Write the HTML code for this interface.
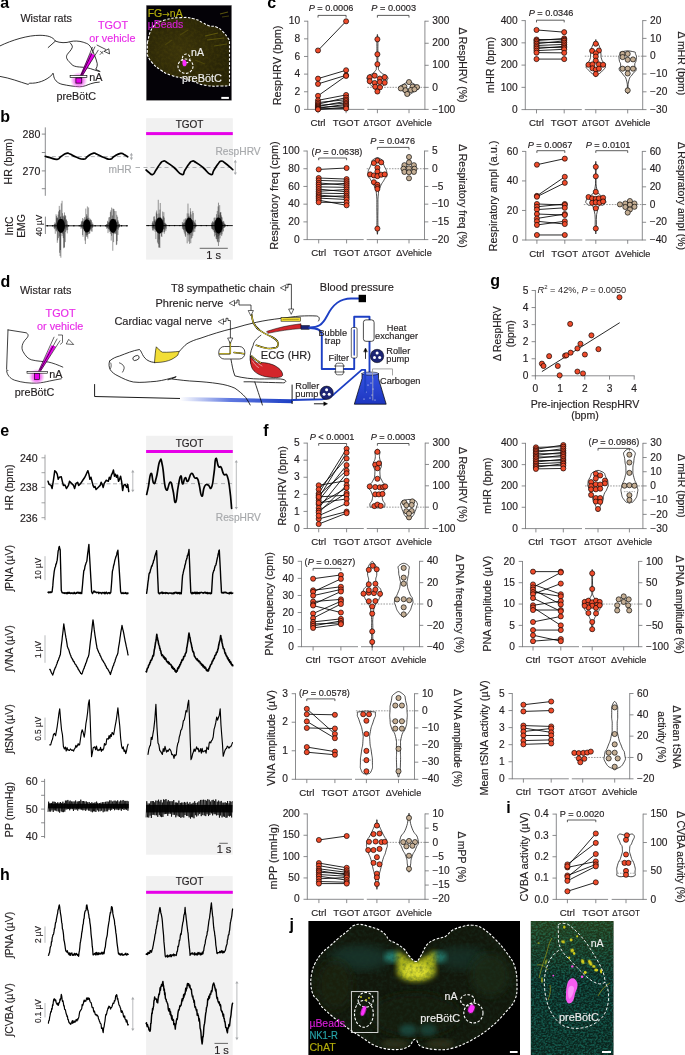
<!DOCTYPE html>
<html><head><meta charset="utf-8"><title>Figure</title>
<style>html,body{margin:0;padding:0;background:#fff;width:685px;height:1055px;overflow:hidden}svg{display:block}text{font-family:'Liberation Sans', sans-serif}</style></head>
<body><svg width="685" height="1055" viewBox="0 0 685 1055" font-family="'Liberation Sans', sans-serif" fill="#231f20">
<defs>
<radialGradient id="glow"><stop offset="0" stop-color="#ee30ee" stop-opacity="1"/><stop offset="0.55" stop-color="#f060f0" stop-opacity="0.75"/><stop offset="1" stop-color="#f080f0" stop-opacity="0"/></radialGradient>
<radialGradient id="agrad" cx="0.4" cy="0.5" r="0.6"><stop offset="0" stop-color="#3b340a"/><stop offset="1" stop-color="#272306"/></radialGradient>
<radialGradient id="jgrad" cx="0.5" cy="0.45" r="0.6"><stop offset="0" stop-color="#1d2610"/><stop offset="0.6" stop-color="#141c10"/><stop offset="1" stop-color="#1a2418"/></radialGradient>
<linearGradient id="j2y" x1="0" x2="0" y1="0" y2="1"><stop offset="0" stop-color="#6a7a10" stop-opacity="0.25"/><stop offset="1" stop-color="#6a7a10" stop-opacity="0"/></linearGradient>
<filter id="blur05"><feGaussianBlur stdDeviation="0.5"/></filter>
<filter id="blur03"><feGaussianBlur stdDeviation="0.3"/></filter>
<filter id="blur1"><feGaussianBlur stdDeviation="1.2"/></filter>
<filter id="blur2"><feGaussianBlur stdDeviation="2.5"/></filter>
<filter id="blur3"><feGaussianBlur stdDeviation="4"/></filter>
<pattern id="texY" patternUnits="userSpaceOnUse" width="90" height="100"><rect width="90" height="100" fill="#5a5210" filter="url(#noiseY)"/></pattern>
<pattern id="texG" patternUnits="userSpaceOnUse" width="220" height="140"><rect width="220" height="140" fill="#2a4a30" filter="url(#noiseG)"/></pattern>
<pattern id="texT" patternUnits="userSpaceOnUse" x="530.8" y="921" width="83" height="134"><rect width="83" height="134" fill="#1e5a4a" filter="url(#noiseT)"/></pattern>
<filter id="noiseY" x="0" y="0" width="100%" height="100%" color-interpolation-filters="sRGB"><feTurbulence type="fractalNoise" baseFrequency="0.35" numOctaves="2" seed="3"/><feColorMatrix type="matrix" values="0 0 0 0 0.40  0 0 0 0 0.36  0 0 0 0 0.04  0 0 0 1.4 -0.55"/></filter>
<filter id="noiseG" x="0" y="0" width="100%" height="100%" color-interpolation-filters="sRGB"><feTurbulence type="fractalNoise" baseFrequency="0.3" numOctaves="2" seed="5"/><feColorMatrix type="matrix" values="0 0 0 0 0.10  0 0 0 0 0.22  0 0 0 0 0.16  0 0 0 1.6 -0.62"/></filter>
<filter id="noiseT" x="0" y="0" width="100%" height="100%" color-interpolation-filters="sRGB"><feTurbulence type="fractalNoise" baseFrequency="0.55" numOctaves="2" seed="9"/><feColorMatrix type="matrix" values="0 0 0 0 0.08  0 0 0 0 0.36  0 0 0 0 0.31  3.2 0 0 0 -1.25"/></filter>
<clipPath id="clipA"><rect x="146.3" y="5.3" width="85.3" height="95.1"/></clipPath>
<clipPath id="clipJ"><rect x="308.4" y="921" width="211.6" height="134"/></clipPath>
<clipPath id="clipJsec"><path d="M317.60,1000.00 C315.52,997.28 314.74,998.18 313.40,995.20 C312.06,992.22 311.24,989.46 310.90,985.10 C310.56,980.74 310.86,977.76 311.70,973.40 C312.54,969.04 313.08,967.32 315.10,963.30 C317.12,959.28 318.78,956.82 321.80,953.30 C324.82,949.78 326.84,948.74 330.20,945.70 C333.56,942.66 335.24,940.96 338.60,938.10 C341.96,935.24 343.98,933.90 347.00,931.40 C350.02,928.90 351.02,927.00 353.70,925.60 C356.38,924.20 357.38,924.24 360.40,924.40 C363.42,924.56 365.10,925.32 368.80,926.40 C372.50,927.48 375.54,928.12 378.90,929.80 C382.26,931.48 383.60,932.80 385.60,934.80 C387.60,936.80 386.90,938.12 388.90,939.80 C390.90,941.48 392.58,941.36 395.60,943.20 C398.62,945.04 401.30,946.48 404.00,949.00 C406.70,951.52 406.74,953.30 409.10,955.80 C411.46,958.30 413.44,961.50 415.80,961.50 C418.16,961.50 418.66,959.18 420.90,955.80 C423.14,952.42 424.14,947.86 427.00,944.60 C429.86,941.34 431.52,941.14 435.20,939.50 C438.88,937.86 442.04,938.20 445.40,936.40 C448.76,934.60 448.74,932.44 452.00,930.50 C455.26,928.56 457.70,927.76 461.70,926.70 C465.70,925.64 467.90,924.90 472.00,925.20 C476.10,925.50 477.72,925.56 482.20,928.20 C486.68,930.84 489.50,933.50 494.40,938.40 C499.30,943.30 502.60,946.98 506.70,952.70 C510.80,958.42 512.84,960.46 514.90,967.00 C516.96,973.54 517.00,978.86 517.00,985.40 C517.00,991.94 517.12,994.38 514.90,999.70 C512.68,1005.02 510.84,1006.40 505.90,1012.00 C500.96,1017.60 497.10,1022.06 490.20,1027.70 C483.30,1033.34 478.94,1036.12 471.40,1040.20 C463.86,1044.28 459.42,1046.22 452.50,1048.10 C445.58,1049.98 443.08,1049.92 436.80,1049.60 C430.52,1049.28 425.18,1048.38 421.10,1046.50 C417.02,1044.62 417.96,1041.46 416.40,1040.20 C414.84,1038.94 414.86,1038.94 413.30,1040.20 C411.74,1041.46 412.06,1044.62 408.60,1046.50 C405.14,1048.38 402.28,1049.60 396.00,1049.60 C389.72,1049.60 384.10,1049.00 377.20,1046.50 C370.30,1044.00 368.40,1041.50 361.50,1037.10 C354.60,1032.70 350.24,1030.16 342.70,1024.50 C335.16,1018.84 328.82,1013.70 323.80,1008.80 C318.78,1003.90 319.68,1002.72 317.60,1000.00 Z"/></clipPath>
<clipPath id="clipJ2"><rect x="530.8" y="921" width="82.7" height="134"/></clipPath>
</defs>
<rect x="146.1" y="118.2" width="86.7" height="141.4" fill="#f1f1f1"/>
<rect x="146.1" y="435.8" width="86.7" height="418.9" fill="#f1f1f1"/>
<rect x="146.1" y="876.1" width="86.6" height="179" fill="#f1f1f1"/>
<rect x="146.1" y="132.1" width="86.7" height="3" fill="#e600e8"/>
<rect x="146.1" y="450.0" width="86.7" height="3" fill="#e600e8"/>
<rect x="146.1" y="890.8" width="86.7" height="3" fill="#e600e8"/>
<text x="189.60" y="127.80" font-size="10" text-anchor="middle" stroke="#231f20" stroke-width="0.16" >TGOT</text>
<text x="189.60" y="446.70" font-size="10" text-anchor="middle" stroke="#231f20" stroke-width="0.16" >TGOT</text>
<text x="189.60" y="885.40" font-size="10" text-anchor="middle" stroke="#231f20" stroke-width="0.16" >TGOT</text>
<text x="0.20" y="8.10" font-size="16" text-anchor="start" fill="#000" font-weight="bold" >a</text>
<text x="0.30" y="122.30" font-size="16" text-anchor="start" fill="#000" font-weight="bold" >b</text>
<text x="267.20" y="8.30" font-size="16" text-anchor="start" fill="#000" font-weight="bold" >c</text>
<text x="0.40" y="286.90" font-size="16" text-anchor="start" fill="#000" font-weight="bold" >d</text>
<text x="0.30" y="436.30" font-size="16" text-anchor="start" fill="#000" font-weight="bold" >e</text>
<text x="263.30" y="436.30" font-size="16" text-anchor="start" fill="#000" font-weight="bold" >f</text>
<text x="490.20" y="285.60" font-size="16" text-anchor="start" fill="#000" font-weight="bold" >g</text>
<text x="0.10" y="880.40" font-size="16" text-anchor="start" fill="#000" font-weight="bold" >h</text>
<text x="506.20" y="812.60" font-size="16" text-anchor="start" fill="#000" font-weight="bold" >i</text>
<text x="289.60" y="929.50" font-size="16" text-anchor="start" fill="#000" font-weight="bold" >j</text>
<line x1="45.3" y1="127.4" x2="45.3" y2="195.8" stroke="#6d6e71" stroke-width="0.8"/>
<line x1="41.8" y1="134.1" x2="45.3" y2="134.1" stroke="#6d6e71" stroke-width="0.8"/>
<line x1="41.8" y1="152.5" x2="45.3" y2="152.5" stroke="#6d6e71" stroke-width="0.8"/>
<line x1="41.8" y1="170.9" x2="45.3" y2="170.9" stroke="#6d6e71" stroke-width="0.8"/>
<line x1="41.8" y1="188.7" x2="45.3" y2="188.7" stroke="#6d6e71" stroke-width="0.8"/>
<text x="40.30" y="137.92" font-size="10.6" text-anchor="end" stroke="#231f20" stroke-width="0.16" >280</text>
<text x="40.30" y="174.72" font-size="10.6" text-anchor="end" stroke="#231f20" stroke-width="0.16" >270</text>
<text x="0" y="3.82" font-size="10.6" text-anchor="middle" transform="translate(7.80,161.50) rotate(-90)" stroke="#231f20" stroke-width="0.16" >HR (bpm)</text>
<line x1="45.30" y1="156.60" x2="128.00" y2="156.60" stroke="#a7a9ac" stroke-width="0.9" stroke-dasharray="4,2.5"/>
<line x1="135.50" y1="167.50" x2="140.00" y2="167.50" stroke="#a7a9ac" stroke-width="0.9" />
<line x1="143.50" y1="167.50" x2="233.00" y2="167.50" stroke="#a7a9ac" stroke-width="0.9" stroke-dasharray="4,3"/>
<path d="M45.20,156.30 C46.64,156.69 46.40,156.70 50.00,157.60 C53.60,158.50 53.90,159.63 57.20,159.30 C60.50,158.97 58.24,158.27 61.00,156.50 C63.76,154.73 63.70,154.15 66.40,153.40 C69.10,152.65 67.12,152.92 70.00,154.00 C72.88,155.08 71.86,155.44 76.00,157.00 C80.14,158.56 80.35,159.35 83.80,159.20 C87.25,159.05 84.74,158.27 87.50,156.50 C90.26,154.73 90.15,153.99 93.00,153.30 C95.85,152.61 93.70,152.94 97.00,154.20 C100.30,155.46 99.98,156.00 104.00,157.50 C108.02,159.00 107.40,159.50 110.40,159.20 C113.40,158.90 110.94,158.24 114.00,156.50 C117.06,154.76 117.60,154.00 120.60,153.40 C123.60,152.80 121.87,153.48 124.00,154.50 C126.13,155.52 126.59,156.11 127.70,156.80" fill="none" stroke="#000" stroke-width="1.7" stroke-linejoin="round" stroke-linecap="round"/>
<path d="M146.10,170.00 C146.97,170.75 146.99,171.15 149.00,172.50 C151.01,173.85 150.70,175.25 152.80,174.50 C154.90,173.75 153.84,173.15 156.00,170.00 C158.16,166.85 157.81,166.64 160.00,164.00 C162.19,161.36 161.20,161.65 163.30,161.20 C165.40,160.75 163.79,160.61 167.00,162.50 C170.21,164.39 169.59,163.93 174.00,167.50 C178.41,171.07 178.40,173.65 181.70,174.40 C185.00,175.15 182.81,173.12 185.00,170.00 C187.19,166.88 186.84,166.64 189.00,164.00 C191.16,161.36 190.10,161.65 192.20,161.20 C194.30,160.75 192.76,160.61 196.00,162.50 C199.24,164.39 198.62,163.93 203.00,167.50 C207.38,171.07 207.30,173.65 210.60,174.40 C213.90,175.15 211.78,173.12 214.00,170.00 C216.22,166.88 215.87,166.64 218.00,164.00 C220.13,161.36 219.00,161.50 221.10,161.20 C223.20,160.90 221.49,160.48 225.00,163.00 C228.51,165.52 230.46,167.62 232.80,169.60" fill="none" stroke="#000" stroke-width="1.7" stroke-linejoin="round" stroke-linecap="round"/>
<line x1="131.4" y1="154.3" x2="131.4" y2="158.7" stroke="#a7a9ac" stroke-width="0.8"/>
<path d="M129.8,155.4 L131.4,152.8 L133.0,155.4 Z M129.8,157.6 L131.4,160.2 L133.0,157.6 Z" fill="#a7a9ac"/>
<line x1="235.3" y1="161.3" x2="235.3" y2="173.5" stroke="#a7a9ac" stroke-width="0.8"/>
<path d="M233.70000000000002,162.4 L235.3,159.8 L236.9,162.4 Z M233.70000000000002,172.4 L235.3,175 L236.9,172.4 Z" fill="#a7a9ac"/>
<text x="120.00" y="173.37" font-size="10.2" text-anchor="middle" fill="#a7a9ac" stroke="#a7a9ac" stroke-width="0.16" >mHR</text>
<text x="215.50" y="154.87" font-size="10.2" text-anchor="start" fill="#a7a9ac" stroke="#a7a9ac" stroke-width="0.16" >RespHRV</text>
<path d="M54.07,224.61V228.18M54.47,224.03V229.13M54.87,222.30V227.34M55.27,223.99V233.74M55.67,223.26V228.37M56.07,214.29V230.65M56.47,215.87V231.45M56.87,218.10V229.30M57.27,217.23V242.81M57.67,218.19V240.32M58.07,214.60V230.29M58.47,211.42V238.15M58.87,219.32V230.95M59.27,205.88V236.45M59.67,210.08V252.80M60.07,209.73V256.05M60.47,217.01V250.04M60.87,216.10V257.71M61.27,203.36V231.95M61.67,219.67V232.68M62.07,200.78V236.08M62.47,213.18V233.21M62.87,216.36V234.16M63.27,219.18V238.10M63.67,216.28V248.24M64.07,215.23V247.31M64.47,212.46V247.62M64.87,217.47V229.40M65.27,215.23V242.13M65.67,215.83V231.99M66.07,219.82V228.33M66.47,219.43V230.37M66.88,223.89V227.37M67.28,221.18V233.38M67.68,224.73V230.09M80.60,224.45V226.80M81.00,224.38V228.90M81.40,221.25V227.26M81.80,222.31V227.57M82.20,220.81V228.42M82.60,218.02V235.00M83.00,221.14V236.76M83.40,221.85V229.08M83.80,218.76V229.46M84.20,221.42V231.46M84.60,217.10V230.44M85.00,221.02V240.55M85.40,219.60V244.06M85.80,208.57V232.89M86.20,217.48V234.99M86.60,214.17V236.48M87.00,215.75V236.99M87.40,206.43V234.89M87.80,217.97V238.70M88.20,219.98V232.05M88.60,207.48V234.08M89.00,217.69V230.40M89.40,219.81V233.70M89.80,221.94V233.44M90.20,218.75V229.27M90.60,219.63V230.47M91.00,219.91V229.22M91.40,220.49V231.41M91.80,223.87V227.74M92.20,222.25V231.64M92.60,224.30V227.79M93.00,223.76V227.12M106.39,224.44V227.20M106.79,224.11V228.95M107.19,223.94V228.17M107.59,220.83V227.64M107.99,221.73V233.14M108.39,222.68V228.78M108.79,217.43V229.32M109.19,222.21V231.63M109.59,216.95V229.66M109.99,220.61V231.70M110.39,212.09V233.82M110.79,210.40V231.18M111.19,219.11V240.57M111.59,207.58V235.82M111.99,219.40V231.81M112.39,215.51V232.43M112.79,208.61V250.76M113.19,219.38V233.47M113.59,208.80V242.13M113.99,209.25V234.16M114.39,220.06V233.08M114.79,211.00V232.47M115.19,219.41V234.12M115.59,219.18V233.38M115.99,211.13V230.32M116.39,222.02V245.10M116.79,214.81V244.43M117.19,221.42V241.11M117.59,216.69V228.81M117.99,220.13V234.95M118.39,221.67V229.72M118.79,223.94V228.04M119.19,224.37V227.10M119.59,223.78V227.16" stroke="#000" stroke-width="0.4" fill="none"/>
<ellipse cx="60.9" cy="225.8" rx="4.03" ry="7.12" fill="#000"/>
<ellipse cx="86.9" cy="225.8" rx="3.72" ry="6.65" fill="#000"/>
<ellipse cx="113" cy="225.8" rx="3.91" ry="7.12" fill="#000"/>
<circle cx="47.40" cy="225.8" r="0.7" fill="#000"/>
<circle cx="52.70" cy="225.8" r="0.7" fill="#000"/>
<circle cx="58.00" cy="225.8" r="0.7" fill="#000"/>
<circle cx="63.30" cy="225.8" r="0.7" fill="#000"/>
<circle cx="68.60" cy="225.8" r="0.7" fill="#000"/>
<circle cx="73.90" cy="225.8" r="0.7" fill="#000"/>
<circle cx="79.20" cy="225.8" r="0.7" fill="#000"/>
<circle cx="84.50" cy="225.8" r="0.7" fill="#000"/>
<circle cx="89.80" cy="225.8" r="0.7" fill="#000"/>
<circle cx="95.10" cy="225.8" r="0.7" fill="#000"/>
<circle cx="100.40" cy="225.8" r="0.7" fill="#000"/>
<circle cx="105.70" cy="225.8" r="0.7" fill="#000"/>
<circle cx="111.00" cy="225.8" r="0.7" fill="#000"/>
<circle cx="116.30" cy="225.8" r="0.7" fill="#000"/>
<circle cx="121.60" cy="225.8" r="0.7" fill="#000"/>
<circle cx="126.90" cy="225.8" r="0.7" fill="#000"/>
<path d="M152.26,223.16V228.28M152.66,221.55V230.11M153.06,221.21V230.83M153.46,223.59V228.54M153.86,216.86V230.22M154.26,216.18V228.38M154.66,220.65V229.08M155.06,219.19V231.76M155.46,221.63V229.92M155.86,220.37V239.10M156.26,212.47V230.65M156.66,210.52V231.01M157.06,213.96V231.38M157.46,219.63V242.59M157.86,218.71V232.40M158.26,199.79V244.14M158.66,217.58V247.57M159.06,213.45V239.57M159.46,218.16V247.27M159.86,209.62V248.01M160.26,202.98V233.39M160.66,217.05V232.35M161.06,219.14V231.82M161.46,218.43V236.30M161.86,220.08V236.98M162.26,219.02V231.70M162.66,211.53V232.66M163.06,220.28V232.02M163.46,216.26V229.46M163.86,212.20V229.02M164.26,217.67V233.78M164.66,222.99V232.07M165.06,222.60V229.53M165.46,223.69V227.51M165.86,223.88V230.83M166.26,224.15V228.74M182.38,221.95V228.87M182.78,223.83V227.32M183.18,222.84V229.34M183.58,223.51V229.88M183.98,219.51V231.59M184.38,222.78V233.54M184.78,222.32V229.46M185.18,218.81V235.56M185.58,220.50V236.89M185.98,218.00V230.92M186.38,219.57V230.86M186.78,220.11V231.21M187.18,213.36V243.32M187.58,219.17V231.77M187.98,203.58V235.34M188.38,216.69V232.80M188.78,213.48V241.49M189.18,215.78V234.50M189.58,218.81V243.85M189.98,218.94V235.14M190.38,208.20V232.20M190.78,211.63V243.17M191.18,214.42V238.62M191.58,220.01V232.90M191.98,220.33V237.90M192.38,220.17V231.92M192.78,210.95V235.86M193.18,213.00V230.69M193.58,220.61V232.28M193.98,221.31V228.86M194.38,222.30V228.14M194.78,222.89V231.90M195.18,219.82V228.66M195.58,223.35V227.34M195.98,224.39V226.94M211.68,222.74V228.64M212.08,223.80V228.87M212.48,221.43V229.02M212.88,221.46V230.12M213.28,222.53V230.49M213.68,222.35V229.68M214.08,217.81V232.01M214.48,221.30V236.46M214.88,217.46V232.49M215.28,221.01V232.87M215.68,219.97V235.25M216.08,217.66V238.73M216.48,214.19V239.23M216.88,217.94V236.91M217.28,210.95V241.38M217.68,217.33V242.26M218.08,206.42V238.90M218.48,202.68V246.00M218.88,214.86V236.05M219.28,218.63V242.15M219.68,205.15V234.85M220.08,212.54V238.41M220.48,212.39V231.73M220.88,212.15V234.76M221.28,215.33V232.35M221.68,216.85V236.08M222.08,217.53V234.28M222.48,221.86V229.48M222.88,220.95V231.71M223.28,222.48V231.23M223.68,220.90V228.07M224.08,222.50V227.87M224.48,223.83V227.41M224.88,223.85V227.13M225.28,224.32V226.80" stroke="#000" stroke-width="0.4" fill="none"/>
<ellipse cx="159.4" cy="225.6" rx="4.22" ry="8.07" fill="#000"/>
<ellipse cx="189.2" cy="225.6" rx="4.03" ry="8.07" fill="#000"/>
<ellipse cx="218.5" cy="225.6" rx="4.03" ry="8.07" fill="#000"/>
<circle cx="148.10" cy="225.6" r="0.7" fill="#000"/>
<circle cx="153.40" cy="225.6" r="0.7" fill="#000"/>
<circle cx="158.70" cy="225.6" r="0.7" fill="#000"/>
<circle cx="164.00" cy="225.6" r="0.7" fill="#000"/>
<circle cx="169.30" cy="225.6" r="0.7" fill="#000"/>
<circle cx="174.60" cy="225.6" r="0.7" fill="#000"/>
<circle cx="179.90" cy="225.6" r="0.7" fill="#000"/>
<circle cx="185.20" cy="225.6" r="0.7" fill="#000"/>
<circle cx="190.50" cy="225.6" r="0.7" fill="#000"/>
<circle cx="195.80" cy="225.6" r="0.7" fill="#000"/>
<circle cx="201.10" cy="225.6" r="0.7" fill="#000"/>
<circle cx="206.40" cy="225.6" r="0.7" fill="#000"/>
<circle cx="211.70" cy="225.6" r="0.7" fill="#000"/>
<circle cx="217.00" cy="225.6" r="0.7" fill="#000"/>
<circle cx="222.30" cy="225.6" r="0.7" fill="#000"/>
<circle cx="227.60" cy="225.6" r="0.7" fill="#000"/>
<line x1="45.40" y1="225.80" x2="127.70" y2="225.80" stroke="#000" stroke-width="0.9" />
<line x1="146.10" y1="225.60" x2="232.80" y2="225.60" stroke="#000" stroke-width="0.9" />
<line x1="45.4" y1="216.6" x2="45.4" y2="234" stroke="#6d6e71" stroke-width="0.8"/>
<text x="0" y="2.95" font-size="8.2" text-anchor="middle" transform="translate(39.20,225.50) rotate(-90)" stroke="#231f20" stroke-width="0.16" >40 µV</text>
<text x="0" y="3.74" font-size="10.4" text-anchor="middle" transform="translate(9.50,226.00) rotate(-90)" stroke="#231f20" stroke-width="0.16" >IntC</text>
<text x="0" y="3.74" font-size="10.4" text-anchor="middle" transform="translate(21.50,226.00) rotate(-90)" stroke="#231f20" stroke-width="0.16" >EMG</text>
<line x1="199.70" y1="248.30" x2="227.80" y2="248.30" stroke="#444" stroke-width="0.8" />
<text x="213.70" y="259.00" font-size="11" text-anchor="middle" stroke="#231f20" stroke-width="0.16" >1 s</text>
<line x1="45" y1="454.7" x2="45" y2="520.1" stroke="#8a8c8e" stroke-width="0.8"/>
<line x1="41.5" y1="457.8" x2="45" y2="457.8" stroke="#8a8c8e" stroke-width="0.8"/>
<line x1="41.5" y1="472.7" x2="45" y2="472.7" stroke="#8a8c8e" stroke-width="0.8"/>
<line x1="41.5" y1="487.4" x2="45" y2="487.4" stroke="#8a8c8e" stroke-width="0.8"/>
<line x1="41.5" y1="502.8" x2="45" y2="502.8" stroke="#8a8c8e" stroke-width="0.8"/>
<line x1="41.5" y1="517.7" x2="45" y2="517.7" stroke="#8a8c8e" stroke-width="0.8"/>
<text x="37.60" y="461.62" font-size="10.6" text-anchor="end" stroke="#231f20" stroke-width="0.16" >240</text>
<text x="37.60" y="491.22" font-size="10.6" text-anchor="end" stroke="#231f20" stroke-width="0.16" >238</text>
<text x="37.60" y="521.52" font-size="10.6" text-anchor="end" stroke="#231f20" stroke-width="0.16" >236</text>
<text x="0" y="3.82" font-size="10.6" text-anchor="middle" transform="translate(9.20,487.40) rotate(-90)" stroke="#231f20" stroke-width="0.16" >HR (bpm)</text>
<line x1="48.00" y1="483.80" x2="128.00" y2="483.80" stroke="#a7a9ac" stroke-width="0.9" stroke-dasharray="4,2.5"/>
<line x1="146.00" y1="483.60" x2="232.00" y2="483.60" stroke="#a7a9ac" stroke-width="0.9" stroke-dasharray="4,3.5"/>
<polyline points="48.03,481.31 49.05,484.38 51.09,485.40 52.12,488.47 53.55,479.27 54.77,470.68 56.20,472.12 57.22,474.16 58.25,479.27 59.27,477.22 61.31,476.82 62.33,481.31 63.36,485.40 64.99,484.99 66.42,488.47 68.47,485.40 69.49,481.31 71.53,483.36 73.57,485.40 74.60,488.47 76.03,483.36 77.66,482.33 78.68,485.40 80.73,483.36 82.77,480.29 84.82,477.22 85.84,475.18 86.86,472.73 87.88,470.68 88.90,474.16 89.92,479.27 90.95,477.22 91.97,481.31 92.99,485.40 94.01,487.44 95.03,486.42 96.06,489.49 98.10,487.44 100.14,485.40 101.16,482.33 102.19,484.38 103.21,487.44 104.23,483.36 106.27,480.29 108.32,481.31 109.34,477.22 110.36,479.27 111.38,475.18 112.41,473.14 113.43,470.07 114.45,476.20 115.47,474.16 116.49,477.22 117.51,475.18 118.54,481.31 119.56,479.27 120.58,476.20 121.60,481.31 122.62,490.51 123.65,485.40 125.08,484.38 126.71,487.44 127.73,484.38 128.76,491.53" fill="none" stroke="#000" stroke-width="1.5" stroke-linejoin="round" stroke-linecap="round" />
<path d="M146.64,494.46 C147.11,492.35 147.23,492.18 148.40,486.57 C149.56,480.97 149.62,474.37 151.02,473.43 C152.42,472.50 152.25,481.90 153.65,483.07 C155.05,484.24 154.64,483.65 156.28,477.81 C157.91,471.97 158.15,464.44 159.78,461.17 C161.42,457.90 160.78,458.08 162.41,465.55 C164.05,473.02 163.81,484.76 165.91,489.20 C168.02,493.64 168.43,481.96 170.29,482.19 C172.16,482.43 171.52,484.70 172.92,490.08 C174.32,495.45 174.15,503.27 175.55,502.34 C176.95,501.41 176.78,493.58 178.18,486.57 C179.58,479.57 179.64,476.76 180.81,476.06 C181.97,475.36 181.39,483.48 182.56,483.95 C183.73,484.41 183.78,478.51 185.19,477.81 C186.59,477.11 186.18,482.49 187.81,481.32 C189.45,480.15 189.45,474.37 191.32,473.43 C193.19,472.50 193.19,476.41 194.82,477.81 C196.46,479.22 196.28,476.82 197.45,478.69 C198.62,480.56 198.03,480.15 199.20,484.82 C200.37,489.49 200.43,495.74 201.83,496.21 C203.23,496.68 202.82,489.61 204.46,486.57 C206.09,483.54 206.09,484.59 207.96,484.82 C209.83,485.05 209.83,490.72 211.46,487.45 C213.10,484.18 212.92,480.27 214.09,472.56 C215.26,464.85 214.68,460.18 215.84,458.54 C217.01,456.91 217.07,464.09 218.47,466.43 C219.87,468.76 219.70,465.20 221.10,467.30 C222.50,469.40 222.09,471.97 223.73,474.31 C225.36,476.65 225.60,471.86 227.23,476.06 C228.87,480.27 228.69,481.43 229.86,490.08 C231.03,498.72 231.14,503.57 231.61,508.47" fill="none" stroke="#000" stroke-width="1.7" stroke-linejoin="round" stroke-linecap="round"/>
<line x1="132.8" y1="471.3" x2="132.8" y2="490.8" stroke="#a7a9ac" stroke-width="0.8"/>
<path d="M131.20000000000002,472.40000000000003 L132.8,469.8 L134.4,472.40000000000003 Z M131.20000000000002,489.7 L132.8,492.3 L134.4,489.7 Z" fill="#a7a9ac"/>
<line x1="236.3" y1="461.5" x2="236.3" y2="508.0" stroke="#a7a9ac" stroke-width="0.8"/>
<path d="M234.70000000000002,462.6 L236.3,460 L237.9,462.6 Z M234.70000000000002,506.9 L236.3,509.5 L237.9,506.9 Z" fill="#a7a9ac"/>
<text x="215.80" y="521.27" font-size="10.2" text-anchor="start" fill="#a7a9ac" stroke="#a7a9ac" stroke-width="0.16" >RespHRV</text>
<line x1="45" y1="556.2" x2="45" y2="580.1" stroke="#a7a9ac" stroke-width="0.8"/>
<text x="0" y="2.95" font-size="8.2" text-anchor="middle" transform="translate(37.80,568.60) rotate(-90)" stroke="#231f20" stroke-width="0.16" >10 µV</text>
<text x="0" y="3.74" font-size="10.4" text-anchor="middle" transform="translate(9.20,568.30) rotate(-90)" stroke="#231f20" stroke-width="0.16" >∫PNA (µV)</text>
<polyline points="48.00,592.32 48.37,592.04 48.75,592.84 49.12,591.92 49.49,592.66 49.86,592.39 50.24,591.89 50.61,592.61 50.98,591.86 51.35,592.49 51.73,591.91 52.10,591.95 52.45,588.86 52.80,585.89 53.15,581.15 53.50,577.69 53.85,574.72 54.20,571.62 54.63,569.39 55.07,567.47 55.50,566.76 55.92,563.95 56.35,563.92 56.78,561.69 57.20,560.13 57.70,555.24 58.20,550.69 58.57,549.94 58.93,547.36 59.30,546.43 59.75,548.37 60.20,549.80 60.57,563.84 60.93,576.83 61.30,590.60 61.70,591.40 62.10,592.72 62.50,592.88 62.86,592.70 63.21,593.14 63.57,592.93 63.92,592.68 64.28,593.47 64.63,593.32 64.99,592.59 65.34,593.12 65.70,593.04 66.06,593.60 66.41,593.37 66.77,592.66 67.12,593.77 67.48,592.39 67.83,592.87 68.19,593.41 68.54,592.44 68.90,592.98 69.26,592.26 69.61,593.27 69.97,593.42 70.32,593.12 70.68,593.60 71.03,592.70 71.39,593.31 71.74,593.15 72.10,593.13 72.46,592.93 72.81,593.54 73.17,593.71 73.52,592.96 73.88,593.26 74.23,592.30 74.59,593.32 74.94,593.24 75.30,593.79 75.66,593.52 76.01,592.66 76.37,592.82 76.72,593.27 77.08,592.24 77.43,592.94 77.79,592.47 78.14,592.39 78.50,592.29 78.86,593.43 79.21,592.41 79.57,592.60 79.92,592.83 80.28,593.59 80.63,592.33 80.99,592.92 81.34,593.08 81.70,593.61 82.12,589.09 82.54,584.74 82.96,579.39 83.38,575.18 83.80,570.67 84.19,570.24 84.58,569.08 84.96,566.52 85.35,565.28 85.74,564.10 86.12,562.82 86.51,561.95 86.90,560.84 87.30,557.04 87.70,553.35 88.10,550.73 88.50,547.37 88.90,544.41 89.29,551.74 89.67,558.03 90.06,564.47 90.44,571.35 90.83,578.15 91.21,583.87 91.60,591.94 92.05,592.60 92.50,593.60 92.88,593.10 93.25,592.08 93.62,591.71 94.00,590.87 94.40,592.01 94.80,591.40 95.20,591.71 95.60,592.23 96.00,592.46 96.35,592.74 96.70,592.28 97.06,592.20 97.41,592.44 97.76,592.36 98.11,592.78 98.47,592.24 98.82,593.60 99.17,593.18 99.52,592.44 99.88,592.60 100.23,592.76 100.58,592.78 100.93,592.40 101.29,593.56 101.64,593.79 101.99,592.95 102.34,592.97 102.70,592.34 103.05,592.36 103.40,592.75 103.75,592.62 104.10,593.53 104.46,592.46 104.81,592.24 105.16,593.72 105.51,593.05 105.87,592.43 106.22,593.07 106.57,592.24 106.92,593.04 107.28,593.77 107.63,593.58 107.98,593.31 108.33,592.62 108.69,592.79 109.04,592.47 109.39,593.44 109.74,593.05 110.10,593.45 110.45,592.73 110.80,592.56 111.20,587.97 111.60,582.73 112.00,576.99 112.40,571.39 112.79,569.87 113.18,568.21 113.56,565.85 113.95,564.78 114.34,562.98 114.72,560.92 115.11,559.38 115.50,558.25 115.90,556.68 116.30,555.84 116.70,554.73 117.10,552.38 117.50,551.63 117.90,550.18 118.29,556.11 118.67,561.15 119.06,566.91 119.44,572.91 119.83,578.84 120.21,584.84 120.60,591.50 121.05,592.79 121.50,593.54 121.87,592.97 122.23,593.24 122.60,593.48 122.97,592.34 123.33,593.26 123.70,593.66 124.07,593.45 124.43,593.40 124.80,592.96 125.17,592.49 125.53,593.46 125.90,592.73 126.27,593.48 126.63,593.75 127.00,592.83 127.37,592.84 127.73,593.71 128.10,593.00" fill="none" stroke="#000" stroke-width="1.35" stroke-linejoin="round" stroke-linecap="round" />
<polyline points="146.60,593.36 147.20,589.47 147.62,585.58 148.05,581.79 148.47,579.17 148.90,575.19 149.25,573.10 149.61,573.15 149.96,572.36 150.32,570.81 150.67,569.28 151.03,568.56 151.38,566.86 151.74,565.63 152.09,566.13 152.45,564.58 152.80,563.34 153.18,562.76 153.56,560.73 153.94,560.20 154.32,558.90 154.70,556.69 155.08,555.52 155.46,554.36 155.84,553.04 156.22,552.37 156.60,550.61 156.96,559.27 157.32,567.21 157.68,576.86 158.04,584.37 158.40,592.93 158.75,593.13 159.10,593.65 159.46,592.87 159.81,593.67 160.16,593.00 160.51,593.05 160.87,593.04 161.22,592.23 161.57,592.90 161.92,592.49 162.28,592.21 162.63,593.48 162.98,592.48 163.33,592.96 163.68,593.36 164.04,593.09 164.39,592.72 164.74,593.03 165.09,593.09 165.45,593.45 165.80,592.37 166.15,593.10 166.50,592.60 166.86,592.64 167.21,593.44 167.56,593.01 167.91,593.10 168.26,593.42 168.62,593.66 168.97,592.91 169.32,593.18 169.67,593.01 170.03,593.02 170.38,593.31 170.73,592.92 171.08,593.05 171.44,592.96 171.79,593.71 172.14,593.32 172.49,593.60 172.84,593.71 173.20,592.62 173.55,593.10 173.90,593.71 174.25,593.54 174.61,592.42 174.96,592.39 175.31,592.91 175.66,592.32 176.02,592.59 176.37,592.32 176.72,593.27 177.07,593.45 177.42,593.64 177.78,592.45 178.13,593.35 178.48,593.26 178.83,592.43 179.19,593.61 179.54,593.75 179.89,592.55 180.24,593.72 180.60,592.84 180.95,592.98 181.30,593.78 181.73,587.70 182.17,580.79 182.60,575.39 182.98,573.97 183.36,572.13 183.73,570.35 184.11,568.99 184.49,568.08 184.87,565.40 185.24,564.70 185.62,562.96 186.00,560.73 186.38,559.81 186.75,558.85 187.12,557.24 187.50,555.10 187.88,555.15 188.25,553.41 188.62,552.28 189.00,549.47 189.36,558.30 189.72,566.52 190.08,576.29 190.44,584.05 190.80,592.41 191.15,592.88 191.50,593.66 191.85,593.51 192.20,592.61 192.55,592.44 192.91,593.67 193.26,593.11 193.61,593.32 193.96,592.34 194.31,592.29 194.66,593.30 195.01,592.88 195.36,592.32 195.71,593.70 196.06,593.22 196.41,593.48 196.76,592.33 197.12,593.57 197.47,592.31 197.82,593.58 198.17,592.93 198.52,592.74 198.87,593.08 199.22,593.68 199.57,592.63 199.92,592.41 200.27,593.04 200.62,592.58 200.97,592.38 201.33,592.46 201.68,592.28 202.03,592.52 202.38,592.70 202.73,592.69 203.08,593.42 203.43,592.66 203.78,593.00 204.13,592.48 204.48,592.76 204.83,592.23 205.18,592.60 205.54,592.22 205.89,593.37 206.24,593.08 206.59,592.50 206.94,592.96 207.29,593.70 207.64,592.37 207.99,593.51 208.34,592.89 208.69,592.99 209.04,593.54 209.39,592.83 209.75,593.01 210.10,593.30 210.45,593.77 210.80,592.75 211.15,593.53 211.50,593.33 211.90,587.12 212.30,580.65 212.70,574.46 213.06,572.79 213.43,571.71 213.79,570.41 214.15,570.29 214.52,568.31 214.88,566.96 215.25,565.64 215.61,565.65 215.97,564.49 216.34,562.97 216.70,561.15 217.07,559.34 217.44,557.68 217.81,556.21 218.19,553.98 218.56,552.70 218.93,550.66 219.30,550.04 219.67,557.34 220.03,563.94 220.40,570.74 220.77,579.18 221.13,585.41 221.50,592.77 221.85,592.20 222.21,592.81 222.56,592.96 222.91,593.00 223.27,592.52 223.62,593.01 223.97,592.21 224.32,592.62 224.68,592.34 225.03,592.84 225.38,592.27 225.74,592.24 226.09,592.69 226.44,592.57 226.80,593.14 227.15,593.05 227.50,593.40 227.86,593.25 228.21,593.35 228.56,593.61 228.92,592.82 229.27,592.72 229.62,593.78 229.98,592.44 230.33,593.36 230.68,593.23 231.03,592.27 231.39,593.54 231.74,593.63 232.09,593.20 232.45,593.37 232.80,593.00" fill="none" stroke="#000" stroke-width="1.4" stroke-linejoin="round" stroke-linecap="round" />
<line x1="45" y1="635.3" x2="45" y2="662.8" stroke="#a7a9ac" stroke-width="0.8"/>
<text x="0" y="2.95" font-size="8.2" text-anchor="middle" transform="translate(37.80,649.60) rotate(-90)" stroke="#231f20" stroke-width="0.16" >1 µV</text>
<text x="0" y="3.74" font-size="10.4" text-anchor="middle" transform="translate(9.20,648.50) rotate(-90)" stroke="#231f20" stroke-width="0.16" >∫VNA (µV)</text>
<polyline points="49.70,669.31 50.08,669.35 50.45,670.45 50.83,671.14 51.20,672.18 51.58,672.87 51.95,673.60 52.33,674.07 52.70,675.09 53.06,673.93 53.42,672.99 53.79,671.57 54.15,670.42 54.51,669.57 54.87,668.85 55.23,667.64 55.60,667.42 55.96,666.19 56.32,665.30 56.68,664.35 57.04,663.45 57.40,662.31 57.77,660.87 58.13,660.71 58.49,659.71 58.85,658.51 59.21,657.59 59.58,656.76 59.94,655.22 60.30,654.94 60.72,650.78 61.15,646.92 61.58,643.44 62.00,640.23 62.36,636.51 62.72,633.84 63.08,630.88 63.44,627.19 63.80,623.88 64.22,626.73 64.65,629.68 65.08,632.52 65.50,635.12 65.88,637.44 66.26,639.18 66.64,641.55 67.02,643.95 67.40,646.74 67.77,647.32 68.15,648.60 68.52,649.07 68.89,650.13 69.26,651.36 69.64,652.78 70.01,653.82 70.38,654.82 70.75,655.45 71.13,656.70 71.50,657.66 71.85,658.25 72.20,658.49 72.56,659.85 72.91,659.74 73.26,661.11 73.61,661.65 73.96,661.32 74.31,662.35 74.67,663.30 75.02,664.03 75.37,664.10 75.72,664.50 76.07,665.03 76.42,666.35 76.78,666.20 77.13,667.16 77.48,667.31 77.83,668.28 78.18,669.29 78.53,669.06 78.89,670.33 79.24,670.61 79.59,671.57 79.94,671.97 80.29,672.09 80.64,673.34 81.00,673.51 81.35,673.64 81.70,674.20 82.06,673.69 82.42,672.65 82.78,671.50 83.14,670.34 83.50,669.54 83.86,668.52 84.22,668.04 84.58,666.20 84.94,665.95 85.30,665.04 85.66,663.32 86.02,663.13 86.38,661.91 86.74,661.10 87.10,659.49 87.46,658.57 87.82,657.59 88.18,657.20 88.54,655.79 88.90,654.56 89.32,651.09 89.74,647.40 90.16,643.63 90.58,640.14 91.00,637.33 91.40,633.37 91.80,630.60 92.20,626.49 92.60,623.09 93.00,619.91 93.40,622.61 93.80,625.81 94.20,629.42 94.60,632.36 95.00,635.31 95.42,637.83 95.84,640.81 96.26,643.54 96.68,645.85 97.10,648.72 97.47,648.89 97.85,650.41 98.22,650.96 98.59,652.10 98.96,652.83 99.34,653.30 99.71,653.90 100.08,655.62 100.45,655.65 100.83,656.84 101.20,657.54 101.55,658.13 101.91,659.20 102.26,660.07 102.62,659.98 102.97,661.01 103.32,661.29 103.68,662.17 104.03,662.64 104.38,663.04 104.74,663.67 105.09,664.35 105.45,665.68 105.80,665.90 106.15,666.25 106.51,667.57 106.86,668.29 107.22,668.37 107.57,668.69 107.92,669.38 108.28,669.91 108.63,670.79 108.98,671.17 109.34,671.95 109.69,672.60 110.05,673.54 110.40,674.49 110.76,673.33 111.11,671.97 111.47,670.94 111.83,670.03 112.19,668.86 112.54,667.80 112.90,666.50 113.26,665.69 113.61,665.35 113.97,663.49 114.33,662.84 114.69,661.94 115.04,661.15 115.40,659.48 115.76,658.51 116.11,657.47 116.47,656.59 116.83,655.62 117.19,655.10 117.54,653.97 117.90,652.97 118.32,649.20 118.74,646.29 119.16,644.05 119.58,641.32 120.00,637.97 120.40,635.49 120.80,632.30 121.20,630.09 121.60,628.03 122.00,625.33 122.39,627.28 122.78,629.32 123.16,630.52 123.55,632.31 123.94,634.28 124.32,636.57 124.71,638.66 125.10,640.84 125.47,642.45 125.85,644.20 126.22,646.14 126.60,647.66 126.97,649.58 127.35,650.89 127.72,653.46 128.10,655.00" fill="none" stroke="#000" stroke-width="1.25" stroke-linejoin="round" stroke-linecap="round" />
<polyline points="146.10,671.42 146.40,671.96 146.71,670.76 147.01,669.45 147.32,668.43 147.62,667.95 147.92,667.95 148.23,667.36 148.53,665.60 148.84,664.83 149.14,664.94 149.44,664.35 149.75,663.30 150.05,662.30 150.36,662.28 150.66,660.52 150.96,660.34 151.27,659.93 151.57,660.13 151.88,658.86 152.18,658.59 152.48,657.16 152.79,656.02 153.09,655.34 153.40,655.93 153.70,654.77 154.01,652.12 154.32,649.68 154.63,648.61 154.94,646.99 155.25,644.61 155.56,642.38 155.87,641.19 156.18,639.73 156.49,636.54 156.80,634.26 157.14,636.39 157.48,638.12 157.82,640.17 158.16,640.88 158.50,643.53 158.80,644.57 159.10,645.29 159.40,645.89 159.70,648.41 160.00,648.36 160.30,650.42 160.60,650.50 160.90,651.62 161.20,653.73 161.50,654.03 161.80,655.57 162.11,655.11 162.41,654.91 162.72,655.33 163.02,656.04 163.32,656.84 163.63,657.71 163.93,656.62 164.24,657.42 164.54,657.45 164.84,659.18 165.15,658.04 165.45,658.24 165.76,658.61 166.06,659.57 166.37,660.83 166.67,661.16 166.97,661.25 167.28,662.08 167.58,662.32 167.89,661.59 168.19,661.69 168.49,663.40 168.80,663.41 169.10,662.49 169.41,663.98 169.71,663.82 170.01,664.17 170.32,664.45 170.62,664.52 170.93,664.58 171.23,665.43 171.53,665.92 171.84,667.36 172.14,666.22 172.45,668.09 172.75,667.09 173.06,667.71 173.36,668.91 173.66,669.27 173.97,668.92 174.27,668.59 174.58,669.71 174.88,669.89 175.18,671.23 175.49,670.28 175.79,670.94 176.10,672.26 176.40,671.05 176.70,671.14 177.01,671.26 177.31,670.57 177.61,668.66 177.92,668.05 178.22,667.49 178.52,668.43 178.82,666.64 179.13,666.92 179.43,666.59 179.73,664.98 180.04,664.25 180.34,664.88 180.64,663.67 180.95,662.43 181.25,662.64 181.55,661.32 181.86,660.64 182.16,659.55 182.46,660.30 182.77,659.98 183.07,658.87 183.37,658.83 183.68,656.57 183.98,656.34 184.28,656.17 184.58,656.44 184.89,655.83 185.19,654.21 185.49,653.36 185.80,653.08 186.10,652.59 186.42,651.24 186.74,647.76 187.07,646.74 187.39,644.50 187.71,642.51 188.03,640.29 188.36,637.86 188.68,635.22 189.00,633.08 189.31,634.73 189.62,637.06 189.94,637.37 190.25,639.16 190.56,641.73 190.88,642.40 191.19,643.64 191.50,645.16 191.80,647.09 192.10,647.69 192.40,649.86 192.70,650.69 193.00,651.88 193.30,651.58 193.60,652.25 193.90,653.27 194.20,655.00 194.50,656.38 194.80,656.90 195.11,656.85 195.41,657.50 195.72,658.19 196.03,658.62 196.33,659.07 196.64,659.58 196.95,659.58 197.26,658.92 197.56,660.54 197.87,659.88 198.18,660.70 198.48,660.68 198.79,661.66 199.10,661.02 199.40,661.43 199.71,661.75 200.02,661.91 200.33,663.55 200.63,663.33 200.94,663.20 201.25,663.65 201.55,665.05 201.86,664.50 202.17,664.33 202.47,665.69 202.78,665.74 203.09,666.67 203.40,665.40 203.70,666.40 204.01,667.34 204.32,667.71 204.62,668.16 204.93,666.92 205.24,667.70 205.54,667.71 205.85,668.16 206.16,669.90 206.47,669.52 206.77,670.47 207.08,669.79 207.39,671.01 207.69,670.58 208.00,670.57 208.31,670.85 208.62,670.51 208.93,668.35 209.24,668.58 209.55,667.97 209.86,666.60 210.17,666.22 210.48,665.17 210.79,664.63 211.10,664.07 211.41,664.05 211.72,663.49 212.03,662.04 212.34,661.04 212.65,660.96 212.95,660.95 213.26,659.41 213.57,658.99 213.88,658.15 214.19,658.56 214.50,657.47 214.81,655.95 215.12,655.37 215.43,655.25 215.74,654.88 216.05,654.39 216.36,652.76 216.67,652.24 216.98,652.55 217.29,651.39 217.60,650.51 217.91,649.06 218.22,648.74 218.53,646.09 218.84,645.06 219.15,643.19 219.46,641.81 219.77,641.13 220.08,639.87 220.39,637.24 220.70,635.45 221.03,637.98 221.36,638.61 221.69,639.82 222.01,643.01 222.34,643.72 222.67,646.01 223.00,646.83 223.31,648.52 223.62,648.58 223.93,648.87 224.24,649.44 224.55,651.23 224.85,652.22 225.16,653.53 225.47,652.88 225.78,654.67 226.09,655.04 226.40,656.11 226.70,655.92 227.01,656.63 227.31,657.52 227.62,658.71 227.92,657.71 228.23,658.85 228.53,659.88 228.84,660.64 229.14,659.71 229.45,660.05 229.75,661.98 230.06,662.50 230.36,662.07 230.67,661.76 230.97,663.80 231.28,663.29 231.58,664.68 231.89,664.63 232.19,665.46 232.50,664.73 232.80,665.80" fill="none" stroke="#000" stroke-width="1.6" stroke-linejoin="round" stroke-linecap="round" />
<line x1="45" y1="717.6" x2="45" y2="740.1" stroke="#a7a9ac" stroke-width="0.8"/>
<text x="0" y="2.95" font-size="8.2" text-anchor="middle" transform="translate(37.80,728.80) rotate(-90)" stroke="#231f20" stroke-width="0.16" >0.5 µV</text>
<text x="0" y="3.74" font-size="10.4" text-anchor="middle" transform="translate(9.20,729.00) rotate(-90)" stroke="#231f20" stroke-width="0.16" >∫tSNA (µV)</text>
<polyline points="49.70,744.87 50.70,744.87 51.63,741.31 52.57,739.00 53.50,734.48 54.55,733.43 55.60,735.65 56.42,731.12 57.24,726.29 58.06,720.24 58.88,713.59 59.70,708.79 60.62,720.13 61.55,730.01 62.48,734.95 63.40,746.50 64.40,748.99 65.40,747.08 66.22,751.02 67.04,747.67 67.86,750.08 68.68,749.94 69.50,750.41 70.32,748.97 71.14,749.62 71.96,750.50 72.78,749.84 73.60,751.06 74.36,749.14 75.12,748.20 75.89,745.31 76.65,747.27 77.41,745.75 78.17,743.63 78.94,745.27 79.70,744.44 80.53,738.50 81.37,732.76 82.20,729.77 83.20,732.56 84.20,737.22 85.05,732.03 85.90,723.77 86.75,718.82 87.60,712.52 88.45,703.63 89.30,699.85 90.07,715.93 90.83,737.79 91.60,756.73 92.40,752.72 93.20,747.79 94.00,747.22 94.82,746.82 95.64,749.78 96.46,746.08 97.28,749.75 98.10,750.63 98.92,749.57 99.74,750.18 100.56,747.41 101.38,751.40 102.20,749.26 102.96,750.08 103.72,748.47 104.49,743.46 105.25,745.03 106.01,744.30 106.78,738.74 107.54,738.70 108.30,739.23 109.06,735.60 109.83,738.38 110.59,734.63 111.35,736.47 112.11,732.48 112.88,733.44 113.64,734.68 114.40,730.50 115.28,725.29 116.15,720.98 117.03,714.61 117.90,707.78 118.83,717.27 119.75,725.97 120.67,738.49 121.60,746.06 122.42,748.74 123.24,746.89 124.06,751.49 124.88,749.91 125.70,753.55 126.50,750.99 127.30,746.59 128.10,744.20" fill="none" stroke="#000" stroke-width="1.15" stroke-linejoin="round" stroke-linecap="round" />
<polyline points="148.00,754.44 148.81,749.40 149.63,746.42 150.44,745.11 151.26,737.31 152.07,739.51 152.89,734.21 153.70,729.67 154.80,719.84 155.90,704.39 156.95,727.14 158.00,743.06 158.88,744.81 159.75,750.29 160.62,751.40 161.50,752.86 162.38,754.51 163.25,748.59 164.12,751.47 165.00,746.32 165.75,749.32 166.50,752.08 167.25,750.37 168.00,751.53 168.75,750.10 169.50,748.93 170.25,749.80 171.00,751.18 171.75,754.67 172.50,754.25 173.25,755.42 174.00,758.40 174.75,754.51 175.50,755.76 176.26,754.69 177.01,747.28 177.77,743.53 178.53,742.02 179.29,736.90 180.04,734.77 180.80,730.35 181.67,729.30 182.53,726.13 183.40,720.63 184.27,719.94 185.13,715.85 186.00,710.61 186.90,711.92 187.80,704.26 188.70,700.20 189.47,718.24 190.23,739.86 191.00,759.63 191.80,757.72 192.60,754.07 193.40,751.87 194.20,748.98 195.00,751.41 195.80,749.55 196.60,746.90 197.39,749.16 198.18,748.43 198.97,751.87 199.76,751.13 200.55,748.70 201.35,753.11 202.14,748.44 202.93,751.84 203.72,751.57 204.51,751.04 205.30,750.45 206.08,753.21 206.86,747.04 207.63,748.71 208.41,749.48 209.19,743.12 209.97,741.90 210.74,742.78 211.52,740.61 212.30,739.85 213.18,737.04 214.06,729.37 214.94,726.34 215.82,722.44 216.70,717.09 217.57,720.16 218.45,717.55 219.32,715.17 220.20,708.94 220.95,724.69 221.70,734.82 222.45,743.87 223.20,756.25 224.02,753.35 224.83,750.82 225.65,748.93 226.47,748.53 227.28,746.20 228.10,746.81 228.98,748.26 229.86,746.89 230.74,746.75 231.62,744.91 232.50,742.60" fill="none" stroke="#000" stroke-width="1.15" stroke-linejoin="round" stroke-linecap="round" />
<line x1="44.6" y1="778.9" x2="44.6" y2="838.2" stroke="#6d6e71" stroke-width="0.8"/>
<line x1="41.1" y1="781.4" x2="44.6" y2="781.4" stroke="#6d6e71" stroke-width="0.8"/>
<line x1="41.1" y1="795.3" x2="44.6" y2="795.3" stroke="#6d6e71" stroke-width="0.8"/>
<line x1="41.1" y1="809.1" x2="44.6" y2="809.1" stroke="#6d6e71" stroke-width="0.8"/>
<line x1="41.1" y1="822.8" x2="44.6" y2="822.8" stroke="#6d6e71" stroke-width="0.8"/>
<line x1="41.1" y1="836.5" x2="44.6" y2="836.5" stroke="#6d6e71" stroke-width="0.8"/>
<text x="37.60" y="785.22" font-size="10.6" text-anchor="end" stroke="#231f20" stroke-width="0.16" >60</text>
<text x="37.60" y="812.92" font-size="10.6" text-anchor="end" stroke="#231f20" stroke-width="0.16" >50</text>
<text x="37.60" y="840.32" font-size="10.6" text-anchor="end" stroke="#231f20" stroke-width="0.16" >40</text>
<text x="0" y="3.82" font-size="10.6" text-anchor="middle" transform="translate(9.20,809.60) rotate(-90)" stroke="#231f20" stroke-width="0.16" >PP (mmHg)</text>
<polyline points="48.00,811.48 48.67,801.67 49.31,811.54 49.99,802.98 50.65,811.61 51.41,802.95 51.99,810.38 52.76,801.64 53.23,811.98 54.06,801.66 54.75,810.39 55.22,801.96 55.69,810.54 56.24,803.04 56.88,811.19 57.66,802.33 58.37,811.55 59.08,802.66 59.64,812.66 60.49,802.00 61.22,811.35 61.76,802.97 62.25,812.08 62.86,801.69 63.46,812.15 64.25,802.91 64.78,811.63 65.42,800.62 66.03,809.60 66.73,800.59 67.29,809.26 67.88,799.95 68.63,809.07 69.18,801.45 69.66,810.30 70.18,800.55 70.81,809.17 71.55,801.48 72.26,809.20 72.88,801.50 73.44,811.00 74.21,801.48 75.01,809.68 75.62,800.49 76.32,809.46 77.16,801.64 77.72,810.61 78.30,801.32 78.78,809.13 79.47,801.22 80.16,809.44 80.79,799.64 81.43,809.68 82.22,801.05 82.74,810.32 83.51,801.02 84.04,810.16 84.86,801.40 85.69,810.87 86.38,801.44 86.88,809.65 87.71,802.24 88.44,810.57 89.21,801.98 89.78,810.73 90.52,803.21 91.06,811.61 91.85,802.21 92.41,812.28 92.95,803.29 93.51,811.27 93.99,802.86 94.58,811.37 95.09,802.35 95.89,812.00 96.60,801.59 97.29,810.32 97.76,802.88 98.57,811.47 99.40,803.04 100.10,811.27 100.84,802.71 101.68,810.77 102.35,802.15 103.16,812.22 103.89,802.15 104.70,811.47 105.42,801.81 106.22,811.34 106.98,801.52 107.66,811.32 108.26,801.65 108.96,809.83 109.66,800.39 110.46,810.62 111.06,800.51 111.75,809.80 112.53,801.55 113.28,808.90 113.96,800.78 114.51,810.24 115.16,800.64 115.97,809.56 116.43,801.40 117.15,809.60 117.67,800.37 118.38,810.15 119.19,801.52 119.90,809.65 120.53,800.50 121.34,810.77 121.94,800.70 122.52,809.13 123.17,799.99 123.96,809.99 124.78,800.85 125.30,809.37 125.86,800.94 126.48,809.75 127.13,800.87 127.91,810.67 128.54,801.65" fill="none" stroke="#000" stroke-width="0.75" stroke-linejoin="round" stroke-linecap="round" />
<rect x="48" y="803.7900000000001" width="80.80000000000001" height="4.62" fill="#000" opacity="0.9"/>
<polyline points="146.10,817.02 146.77,801.22 147.41,817.27 148.09,803.51 148.75,817.54 149.51,803.57 150.09,815.57 150.86,801.33 151.33,817.96 152.16,801.01 152.85,814.88 153.32,801.03 153.79,814.71 154.34,802.32 154.98,815.23 155.76,800.57 156.47,815.28 157.18,800.74 157.74,816.87 158.59,799.66 159.32,814.92 159.86,801.53 160.35,816.44 160.96,799.90 161.56,817.12 162.35,802.57 162.88,816.95 163.52,799.44 164.13,814.21 164.83,799.87 165.39,814.03 165.98,799.07 166.73,813.87 167.28,801.52 167.76,815.82 168.28,799.98 168.91,813.86 169.65,801.30 170.36,813.72 170.98,801.23 171.54,816.62 172.31,801.29 173.11,814.72 173.72,800.04 174.42,814.82 175.26,802.52 175.82,817.31 176.40,802.53 176.88,815.39 177.57,802.85 178.26,816.37 178.89,800.64 179.53,816.95 180.32,802.94 180.84,817.85 181.61,802.59 182.14,817.18 182.96,802.64 183.79,817.55 184.48,801.95 184.98,815.00 185.81,802.67 186.54,815.91 187.31,801.84 187.88,815.93 188.62,803.73 189.16,817.35 189.95,802.21 190.51,818.58 191.05,804.10 191.61,817.08 192.09,803.51 192.68,817.31 193.19,802.72 193.99,818.25 194.70,801.24 195.39,815.18 195.86,802.96 196.67,816.51 197.50,802.47 198.20,815.46 198.94,801.29 199.78,814.04 200.45,799.94 201.26,816.15 201.99,799.88 202.80,815.11 203.52,799.71 204.32,815.45 205.08,799.92 205.76,816.12 206.36,800.75 207.06,814.31 207.76,799.28 208.56,816.06 209.16,799.81 209.85,814.90 210.63,801.55 211.38,813.38 212.06,800.16 212.61,815.40 213.26,799.77 214.07,814.15 214.53,800.94 215.25,814.25 215.77,799.38 216.48,815.38 217.29,801.68 218.00,815.12 218.63,800.60 219.44,817.62 220.04,801.61 220.62,815.50 221.27,800.94 222.06,817.35 222.88,802.66 223.40,816.45 223.96,802.75 224.58,816.87 225.23,802.30 226.01,817.85 226.64,802.96 227.11,817.49 227.58,801.01 228.26,815.80 229.02,803.31 229.53,816.45 229.99,800.97 230.54,815.68 231.01,801.81 231.64,817.43 232.35,801.52" fill="none" stroke="#000" stroke-width="0.75" stroke-linejoin="round" stroke-linecap="round" />
<rect x="146.1" y="804.962" width="86.4" height="7.476000000000028" fill="#000" opacity="0.9"/>
<line x1="219.30" y1="843.30" x2="227.80" y2="843.30" stroke="#444" stroke-width="0.8" />
<text x="224.00" y="853.40" font-size="11" text-anchor="middle" stroke="#231f20" stroke-width="0.16" >1 s</text>
<line x1="45" y1="926.4" x2="45" y2="942.8" stroke="#a7a9ac" stroke-width="0.8"/>
<text x="0" y="2.95" font-size="8.2" text-anchor="middle" transform="translate(37.80,934.60) rotate(-90)" stroke="#231f20" stroke-width="0.16" >2 µV</text>
<text x="0" y="3.74" font-size="10.4" text-anchor="middle" transform="translate(9.20,935.00) rotate(-90)" stroke="#231f20" stroke-width="0.16" >∫PNA (µV)</text>
<polyline points="48.40,955.34 48.77,954.82 49.13,953.15 49.50,952.81 49.90,950.00 50.30,947.21 50.70,946.20 51.08,945.40 51.45,941.61 51.83,941.76 52.20,937.64 52.58,936.63 52.95,934.86 53.33,934.58 53.70,933.45 54.08,931.19 54.45,928.32 54.83,928.16 55.20,924.92 55.60,922.47 56.00,922.14 56.40,919.17 56.80,917.14 57.20,914.86 57.60,913.54 58.00,909.91 58.43,908.92 58.87,906.49 59.30,904.90 59.70,906.80 60.10,910.69 60.50,913.34 60.90,915.68 61.30,918.49 61.67,922.43 62.05,923.70 62.42,928.82 62.79,929.47 63.16,931.93 63.54,934.94 63.91,940.04 64.28,941.19 64.65,943.42 65.03,945.89 65.40,948.72 65.77,950.90 66.15,951.10 66.52,951.64 66.89,952.12 67.26,950.60 67.64,952.44 68.01,952.16 68.38,953.80 68.75,954.17 69.13,954.73 69.50,952.78 69.85,955.07 70.21,955.24 70.56,955.36 70.92,953.05 71.27,953.37 71.62,953.14 71.98,952.97 72.33,955.28 72.68,955.22 73.04,954.76 73.39,955.33 73.75,954.83 74.10,953.90 74.45,953.42 74.81,953.45 75.16,955.34 75.52,953.83 75.87,954.19 76.22,954.52 76.58,953.43 76.93,954.13 77.28,954.24 77.64,955.49 77.99,954.55 78.35,954.46 78.70,956.30 79.08,952.34 79.45,950.63 79.83,947.31 80.20,942.99 80.58,941.38 80.95,938.77 81.33,937.04 81.70,933.17 82.10,931.52 82.50,928.39 82.90,924.83 83.30,923.99 83.70,919.17 84.10,918.55 84.50,914.08 84.90,911.94 85.30,910.83 85.70,910.73 86.10,909.67 86.50,905.28 86.90,904.97 87.28,907.01 87.65,909.91 88.03,910.23 88.40,913.13 88.78,914.76 89.15,918.15 89.53,918.59 89.90,922.54 90.29,924.78 90.68,928.68 91.06,934.12 91.45,937.65 91.84,940.65 92.22,946.21 92.61,948.74 93.00,954.81 93.35,954.52 93.70,954.74 94.05,954.26 94.40,953.47 94.75,953.57 95.10,953.52 95.45,954.87 95.80,952.59 96.15,954.81 96.50,952.36 96.85,952.83 97.20,952.96 97.55,954.72 97.90,953.57 98.25,953.19 98.60,954.58 98.95,952.72 99.30,953.33 99.65,953.49 100.00,954.09 100.35,954.05 100.70,953.72 101.05,952.86 101.40,952.76 101.75,952.25 102.10,954.15 102.45,953.61 102.80,953.80 103.15,952.17 103.50,952.89 103.85,953.80 104.20,953.22 104.59,949.53 104.97,948.04 105.36,946.80 105.75,942.57 106.14,940.01 106.53,937.89 106.91,936.59 107.30,934.56 107.69,929.98 108.07,927.32 108.46,924.92 108.84,922.49 109.23,920.38 109.61,916.71 110.00,914.52 110.36,912.33 110.72,912.73 111.08,910.24 111.44,906.69 111.80,907.29 112.17,907.07 112.54,910.05 112.91,913.91 113.29,915.57 113.66,917.58 114.03,918.93 114.40,920.45 114.77,924.66 115.15,926.14 115.52,929.40 115.89,932.88 116.26,934.86 116.64,938.85 117.01,942.92 117.38,945.62 117.75,948.06 118.13,951.40 118.50,953.90 118.85,953.01 119.20,954.32 119.55,953.78 119.90,954.73 120.25,955.21 120.60,953.89 120.95,954.31 121.30,954.81 121.65,953.91 122.00,953.38 122.35,954.78 122.70,955.24 123.05,954.95 123.40,954.76 123.75,955.20 124.10,954.73 124.45,954.64 124.80,954.13 125.15,953.75 125.50,954.64 125.85,953.17 126.20,954.09 126.55,955.12 126.90,954.94 127.25,954.72 127.60,953.67 127.95,954.17 128.30,954.40" fill="none" stroke="#000" stroke-width="1.25" stroke-linejoin="round" stroke-linecap="round" />
<polyline points="146.10,954.17 146.46,954.42 146.82,953.61 147.18,954.14 147.54,954.63 147.89,952.32 148.25,953.43 148.61,953.56 148.97,952.25 149.33,952.31 149.69,953.45 150.05,950.61 150.41,951.81 150.76,950.52 151.12,952.04 151.48,952.27 151.84,950.87 152.20,949.48 152.57,948.77 152.94,946.63 153.31,945.09 153.68,942.47 154.05,940.79 154.42,939.28 154.79,936.38 155.16,934.03 155.53,933.49 155.90,929.39 156.27,928.67 156.65,925.81 157.02,924.80 157.39,920.96 157.76,921.33 158.14,917.52 158.51,914.64 158.88,913.20 159.25,911.51 159.63,908.38 160.00,907.47 160.40,909.69 160.80,912.69 161.20,913.94 161.60,915.91 162.00,918.01 162.40,921.68 162.79,927.25 163.17,931.10 163.56,935.26 163.94,941.90 164.33,945.77 164.71,950.28 165.10,955.06 165.46,956.85 165.82,956.91 166.17,956.39 166.53,955.90 166.89,956.13 167.25,955.16 167.61,957.20 167.96,955.46 168.32,956.23 168.68,956.70 169.04,956.67 169.40,955.66 169.75,955.15 170.11,955.83 170.47,954.61 170.83,956.57 171.19,955.20 171.55,956.56 171.90,954.90 172.26,955.17 172.62,954.80 172.98,955.25 173.34,954.55 173.69,954.01 174.05,956.00 174.41,954.73 174.77,954.60 175.13,954.73 175.48,955.20 175.84,955.03 176.20,955.58 176.55,954.08 176.90,951.69 177.25,951.71 177.60,949.94 177.95,946.15 178.30,946.74 178.65,945.40 179.00,943.50 179.35,940.13 179.70,940.50 180.05,938.39 180.40,935.09 180.75,933.52 181.10,934.59 181.45,932.20 181.80,929.50 182.17,926.66 182.53,924.36 182.90,922.19 183.27,921.28 183.63,917.66 184.00,914.69 184.37,914.38 184.73,911.64 185.10,907.47 185.47,912.61 185.84,914.93 186.21,918.53 186.59,921.33 186.96,925.07 187.33,927.89 187.70,931.15 188.10,933.37 188.50,938.77 188.90,942.34 189.30,946.94 189.70,950.11 190.10,955.37 190.46,954.43 190.82,953.59 191.17,953.47 191.53,953.18 191.89,954.14 192.25,952.90 192.61,954.01 192.97,953.08 193.32,954.03 193.68,954.02 194.04,954.11 194.40,954.98 194.76,952.56 195.12,954.87 195.47,953.79 195.83,954.03 196.19,954.29 196.55,954.75 196.91,953.42 197.27,953.52 197.62,955.01 197.98,952.50 198.34,954.04 198.70,954.01 199.06,952.29 199.42,953.88 199.78,954.06 200.13,954.73 200.49,953.02 200.85,954.82 201.21,953.47 201.57,953.37 201.93,954.50 202.28,952.05 202.64,953.94 203.00,953.65 203.36,951.07 203.72,950.76 204.08,947.59 204.45,946.12 204.81,944.49 205.17,943.40 205.53,940.05 205.89,938.90 206.25,937.09 206.62,935.68 206.98,934.67 207.34,931.40 207.70,931.12 208.07,927.25 208.44,924.85 208.81,921.52 209.18,919.50 209.55,918.13 209.92,914.55 210.29,912.26 210.66,908.29 211.03,905.57 211.40,902.84 211.79,907.47 212.17,911.43 212.56,915.68 212.94,917.43 213.33,923.17 213.71,927.45 214.10,930.33 214.45,931.71 214.80,935.19 215.15,937.14 215.50,940.43 215.85,945.26 216.20,947.15 216.55,950.07 216.90,953.21 217.26,953.51 217.62,952.63 217.98,952.61 218.34,952.60 218.70,952.75 219.07,952.43 219.43,952.63 219.79,951.28 220.15,952.52 220.51,951.89 220.87,952.71 221.23,950.81 221.59,951.00 221.95,950.56 222.31,952.58 222.67,952.93 223.03,952.17 223.40,951.33 223.76,952.56 224.12,952.42 224.48,951.75 224.84,950.86 225.20,950.95 225.57,949.52 225.94,947.47 226.31,946.03 226.68,944.86 227.05,943.91 227.42,939.69 227.79,939.37 228.16,936.13 228.53,934.59 228.90,934.77 229.27,931.62 229.64,930.09 230.01,926.28 230.38,922.58 230.75,921.13 231.12,919.22 231.49,917.70 231.86,915.33 232.23,911.42 232.60,909.00" fill="none" stroke="#000" stroke-width="1.25" stroke-linejoin="round" stroke-linecap="round" />
<line x1="45" y1="1003" x2="45" y2="1017.4" stroke="#a7a9ac" stroke-width="0.8"/>
<text x="0" y="2.95" font-size="8.2" text-anchor="middle" transform="translate(37.80,1011.20) rotate(-90)" stroke="#231f20" stroke-width="0.16" >0.1 µV</text>
<text x="0" y="3.74" font-size="10.4" text-anchor="middle" transform="translate(9.20,1010.00) rotate(-90)" stroke="#231f20" stroke-width="0.16" >∫CVBA (µV)</text>
<polyline points="48.40,1023.22 48.81,1020.48 49.23,1020.46 49.64,1017.33 50.06,1015.39 50.47,1013.20 50.89,1011.42 51.30,1011.84 51.71,1008.29 52.13,1009.24 52.54,1004.68 52.96,1005.43 53.37,1001.31 53.79,999.21 54.20,999.70 54.60,998.79 55.00,1000.97 55.40,999.83 55.80,1000.00 56.20,1002.93 56.60,1003.34 57.00,1004.41 57.40,1004.62 57.80,1003.16 58.20,1005.51 58.64,1004.46 59.09,1002.35 59.53,1002.54 59.97,999.06 60.41,1000.01 60.86,997.91 61.30,994.34 61.71,995.88 62.12,999.44 62.53,1001.51 62.94,1000.67 63.35,1002.95 63.76,1005.81 64.17,1005.54 64.58,1009.30 64.99,1009.63 65.40,1009.79 65.81,1012.01 66.22,1013.90 66.63,1014.69 67.04,1016.69 67.45,1016.21 67.86,1019.53 68.27,1019.37 68.68,1021.50 69.09,1022.69 69.50,1023.24 69.91,1022.93 70.32,1024.01 70.73,1024.31 71.14,1023.59 71.55,1022.69 71.96,1021.61 72.37,1020.66 72.78,1023.38 73.19,1022.31 73.60,1022.50 74.01,1020.71 74.42,1021.38 74.83,1022.36 75.24,1021.69 75.65,1020.75 76.06,1019.61 76.47,1019.79 76.88,1021.05 77.29,1019.21 77.70,1019.99 78.11,1018.50 78.51,1018.21 78.92,1016.70 79.33,1013.80 79.73,1011.67 80.14,1011.28 80.55,1010.57 80.95,1009.86 81.36,1009.37 81.77,1008.37 82.17,1004.44 82.58,1005.75 82.99,1004.45 83.39,1003.40 83.80,1001.23 84.22,1000.03 84.65,1001.62 85.08,1001.23 85.50,1000.59 85.92,1001.07 86.35,999.01 86.78,997.92 87.20,999.17 87.62,999.70 88.05,997.54 88.48,999.05 88.90,999.38 89.33,998.25 89.75,1000.54 90.18,1001.87 90.60,1002.29 91.03,1002.56 91.45,1003.82 91.88,1006.50 92.30,1007.73 92.72,1007.77 93.15,1007.68 93.58,1011.08 94.00,1012.07 94.41,1010.97 94.82,1012.69 95.23,1014.33 95.64,1014.91 96.05,1014.37 96.46,1014.85 96.87,1015.83 97.28,1015.17 97.69,1015.80 98.10,1016.38 98.52,1019.24 98.95,1019.34 99.38,1021.18 99.80,1021.85 100.22,1023.41 100.65,1023.43 101.08,1024.28 101.50,1028.52 101.92,1027.72 102.35,1028.06 102.78,1030.93 103.20,1032.62 103.64,1027.97 104.09,1026.75 104.53,1023.32 104.97,1021.25 105.41,1017.02 105.86,1014.44 106.30,1014.87 106.73,1013.30 107.16,1010.91 107.59,1010.00 108.01,1007.85 108.44,1008.34 108.87,1006.03 109.30,1006.53 109.72,1006.78 110.14,1007.76 110.56,1009.04 110.98,1007.59 111.40,1007.72 111.83,1007.05 112.25,1005.80 112.68,1004.29 113.10,1003.00 113.53,1003.43 113.95,1003.24 114.38,1000.72 114.80,1001.10 115.22,999.79 115.65,995.89 116.08,996.41 116.50,994.57 116.91,995.11 117.32,999.23 117.73,998.41 118.14,1000.83 118.55,1002.50 118.96,1004.94 119.37,1005.45 119.78,1006.00 120.19,1007.60 120.60,1008.11 121.01,1011.50 121.41,1012.38 121.82,1010.73 122.22,1010.94 122.63,1012.45 123.03,1013.56 123.44,1016.13 123.84,1016.94 124.25,1017.53 124.65,1015.80 125.06,1018.97 125.46,1019.53 125.87,1020.14 126.27,1022.03 126.68,1019.86 127.08,1020.95 127.49,1023.71 127.89,1025.10 128.30,1024.50" fill="none" stroke="#000" stroke-width="1.2" stroke-linejoin="round" stroke-linecap="round" />
<polyline points="146.10,1023.48 146.45,1022.73 146.81,1024.94 147.16,1026.59 147.52,1024.64 147.87,1026.52 148.23,1027.14 148.58,1027.47 148.94,1029.96 149.29,1029.51 149.65,1030.73 150.00,1031.23 150.37,1030.05 150.73,1023.59 151.10,1023.16 151.47,1017.33 151.83,1013.09 152.20,1013.48 152.55,1008.52 152.90,1009.81 153.25,1007.66 153.60,1005.91 153.95,1000.76 154.30,1000.27 154.65,996.88 155.00,998.69 155.39,999.09 155.77,998.94 156.16,998.95 156.54,999.24 156.93,1002.15 157.31,1001.42 157.70,1002.86 158.10,998.58 158.50,996.78 158.90,993.90 159.30,994.64 159.70,991.78 160.10,987.84 160.45,990.22 160.80,986.75 161.15,986.57 161.50,984.64 161.85,984.33 162.20,986.02 162.55,982.98 162.90,981.44 163.26,984.82 163.61,986.01 163.97,990.54 164.32,989.02 164.68,994.78 165.03,992.68 165.39,998.33 165.74,999.28 166.10,999.23 166.47,1001.51 166.84,1001.78 167.21,1002.76 167.58,1003.63 167.95,1005.45 168.32,1009.32 168.69,1010.46 169.06,1011.25 169.43,1008.72 169.80,1010.67 170.17,1014.39 170.53,1011.75 170.90,1015.74 171.27,1014.88 171.63,1018.94 172.00,1015.75 172.37,1020.28 172.73,1019.27 173.10,1019.44 173.47,1019.88 173.83,1024.58 174.20,1024.28 174.57,1023.82 174.93,1025.97 175.30,1029.11 175.67,1024.30 176.04,1024.09 176.41,1020.43 176.78,1018.85 177.15,1019.69 177.52,1017.67 177.89,1013.65 178.26,1011.37 178.63,1009.64 179.00,1010.18 179.35,1008.69 179.71,1006.72 180.06,1005.43 180.42,1006.23 180.77,1005.65 181.12,1005.12 181.48,1003.12 181.83,1000.45 182.18,998.86 182.54,1000.80 182.89,998.38 183.25,998.77 183.60,994.84 183.96,997.08 184.32,993.91 184.68,995.05 185.03,994.07 185.39,991.35 185.75,988.17 186.11,991.02 186.47,988.03 186.82,988.69 187.18,984.94 187.54,983.50 187.90,985.26 188.29,983.92 188.68,983.72 189.06,985.33 189.45,987.02 189.84,985.12 190.22,988.09 190.61,988.46 191.00,989.47 191.37,989.21 191.74,993.30 192.11,995.23 192.48,996.93 192.85,996.01 193.22,999.21 193.59,999.24 193.96,1002.35 194.33,1000.79 194.70,1005.84 195.05,1007.47 195.41,1006.73 195.76,1008.09 196.12,1009.44 196.47,1010.75 196.82,1009.75 197.18,1015.20 197.53,1013.20 197.88,1014.29 198.24,1015.22 198.59,1017.15 198.95,1020.92 199.30,1018.73 199.70,1022.32 200.10,1028.28 200.50,1029.36 200.90,1031.88 201.30,1037.74 201.70,1040.94 202.10,1044.00 202.45,1041.90 202.80,1036.38 203.15,1036.86 203.50,1033.31 203.85,1027.46 204.20,1024.92 204.55,1023.66 204.90,1020.80 205.30,1016.93 205.70,1013.34 206.10,1011.68 206.50,1007.60 206.90,1006.70 207.30,1004.99 207.70,998.95 208.07,999.89 208.44,999.72 208.81,996.23 209.18,998.21 209.55,997.78 209.92,994.43 210.29,993.64 210.66,994.55 211.03,992.24 211.40,990.74 211.79,991.83 212.17,989.79 212.56,986.55 212.94,984.80 213.33,983.90 213.71,983.03 214.10,984.12 214.47,985.19 214.84,987.52 215.21,988.94 215.58,990.93 215.95,989.29 216.32,993.18 216.69,996.96 217.06,998.71 217.43,997.55 217.80,1000.16 218.16,1001.94 218.52,1001.61 218.88,1003.20 219.25,1002.02 219.61,1004.47 219.97,1005.64 220.33,1004.37 220.69,1005.74 221.05,1010.25 221.42,1010.26 221.78,1011.81 222.14,1011.33 222.50,1012.96 222.85,1014.85 223.21,1016.42 223.56,1014.24 223.92,1018.47 224.27,1018.38 224.62,1021.75 224.98,1021.53 225.33,1024.28 225.68,1027.52 226.04,1027.75 226.39,1027.68 226.75,1030.43 227.10,1031.61 227.45,1032.73 227.80,1028.67 228.15,1027.59 228.50,1027.95 228.85,1024.48 229.20,1025.41 229.55,1025.86 229.90,1022.76 230.29,1018.91 230.67,1017.01 231.06,1014.53 231.44,1010.07 231.83,1007.19 232.21,1004.45 232.60,1003.30" fill="none" stroke="#000" stroke-width="1.45" stroke-linejoin="round" stroke-linecap="round" />
<line x1="132.8" y1="998.3" x2="132.8" y2="1029.5" stroke="#a7a9ac" stroke-width="0.8"/>
<path d="M131.20000000000002,999.4 L132.8,996.8 L134.4,999.4 Z M131.20000000000002,1028.4 L132.8,1031 L134.4,1028.4 Z" fill="#a7a9ac"/>
<line x1="236.9" y1="982.5" x2="236.9" y2="1038.7" stroke="#a7a9ac" stroke-width="0.8"/>
<path d="M235.3,983.6 L236.9,981 L238.5,983.6 Z M235.3,1037.6000000000001 L236.9,1040.2 L238.5,1037.6000000000001 Z" fill="#a7a9ac"/>
<line x1="214.50" y1="1043.40" x2="228.00" y2="1043.40" stroke="#444" stroke-width="0.8" />
<text x="221.50" y="1053.60" font-size="11" text-anchor="middle" stroke="#231f20" stroke-width="0.16" >1 s</text>
<g stroke="#6d6e71" stroke-width="0.8" fill="none">
<line x1="307.80" y1="20.80" x2="307.80" y2="109.80"/>
<line x1="424.90" y1="20.80" x2="424.90" y2="109.80"/>
<line x1="307.80" y1="109.40" x2="364.30" y2="109.40"/>
<line x1="367.30" y1="109.40" x2="424.90" y2="109.40"/>
<line x1="304.00" y1="109.40" x2="307.80" y2="109.40"/>
<line x1="304.00" y1="91.76" x2="307.80" y2="91.76"/>
<line x1="304.00" y1="74.12" x2="307.80" y2="74.12"/>
<line x1="304.00" y1="56.48" x2="307.80" y2="56.48"/>
<line x1="304.00" y1="38.84" x2="307.80" y2="38.84"/>
<line x1="304.00" y1="21.20" x2="307.80" y2="21.20"/>
<line x1="424.90" y1="109.40" x2="428.70" y2="109.40"/>
<line x1="424.90" y1="87.35" x2="428.70" y2="87.35"/>
<line x1="424.90" y1="65.30" x2="428.70" y2="65.30"/>
<line x1="424.90" y1="43.25" x2="428.70" y2="43.25"/>
<line x1="424.90" y1="21.20" x2="428.70" y2="21.20"/>
<line x1="318.00" y1="109.40" x2="318.00" y2="113.20"/>
<line x1="346.10" y1="109.40" x2="346.10" y2="113.20"/>
<line x1="377.40" y1="109.40" x2="377.40" y2="113.20"/>
<line x1="409.00" y1="109.40" x2="409.00" y2="113.20"/>
</g>
<text x="300.20" y="112.57" font-size="10.2" text-anchor="end" stroke="#231f20" stroke-width="0.16" >0</text>
<text x="300.20" y="94.93" font-size="10.2" text-anchor="end" stroke="#231f20" stroke-width="0.16" >2</text>
<text x="300.20" y="77.29" font-size="10.2" text-anchor="end" stroke="#231f20" stroke-width="0.16" >4</text>
<text x="300.20" y="59.65" font-size="10.2" text-anchor="end" stroke="#231f20" stroke-width="0.16" >6</text>
<text x="300.20" y="42.01" font-size="10.2" text-anchor="end" stroke="#231f20" stroke-width="0.16" >8</text>
<text x="300.20" y="24.37" font-size="10.2" text-anchor="end" stroke="#231f20" stroke-width="0.16" >10</text>
<text x="432.30" y="112.57" font-size="10.2" text-anchor="start" stroke="#231f20" stroke-width="0.16" >−100</text>
<text x="432.30" y="90.52" font-size="10.2" text-anchor="start" stroke="#231f20" stroke-width="0.16" >0</text>
<text x="432.30" y="68.47" font-size="10.2" text-anchor="start" stroke="#231f20" stroke-width="0.16" >100</text>
<text x="432.30" y="46.42" font-size="10.2" text-anchor="start" stroke="#231f20" stroke-width="0.16" >200</text>
<text x="432.30" y="24.37" font-size="10.2" text-anchor="start" stroke="#231f20" stroke-width="0.16" >300</text>
<text x="318.00" y="126.09" font-size="9.7" text-anchor="middle" stroke="#231f20" stroke-width="0.16" >Ctrl</text>
<text x="346.10" y="126.09" font-size="9.7" text-anchor="middle" stroke="#231f20" stroke-width="0.16" >TGOT</text>
<text x="377.40" y="126.09" font-size="9.7" text-anchor="middle" stroke="#231f20" stroke-width="0.16"  textLength="27.6" lengthAdjust="spacingAndGlyphs">ΔTGOT</text>
<text x="414.00" y="126.09" font-size="9.7" text-anchor="middle" stroke="#231f20" stroke-width="0.16"  textLength="35.4" lengthAdjust="spacingAndGlyphs">ΔVehicle</text>
<text x="0" y="3.92" font-size="10.9" text-anchor="middle" transform="translate(277.50,65.40) rotate(-90)" stroke="#231f20" stroke-width="0.16" >RespHRV (bpm)</text>
<text x="0" y="3.78" font-size="10.5" text-anchor="middle" transform="translate(463.20,65.00) rotate(90)" stroke="#231f20" stroke-width="0.16" >Δ RespHRV (%)</text>
<line x1="367.30" y1="87.35" x2="424.90" y2="87.35" stroke="#555" stroke-width="0.6" stroke-dasharray="1.6,1.2"/>
<line x1="318.00" y1="50.48" x2="346.10" y2="21.29" stroke="#000" stroke-width="0.85" />
<line x1="318.00" y1="78.62" x2="346.10" y2="70.24" stroke="#000" stroke-width="0.85" />
<line x1="318.00" y1="83.91" x2="346.10" y2="75.27" stroke="#000" stroke-width="0.85" />
<line x1="318.00" y1="95.82" x2="346.10" y2="75.88" stroke="#000" stroke-width="0.85" />
<line x1="318.00" y1="100.32" x2="346.10" y2="94.94" stroke="#000" stroke-width="0.85" />
<line x1="318.00" y1="102.52" x2="346.10" y2="99.70" stroke="#000" stroke-width="0.85" />
<line x1="318.00" y1="104.11" x2="346.10" y2="97.58" stroke="#000" stroke-width="0.85" />
<line x1="318.00" y1="105.43" x2="346.10" y2="103.05" stroke="#000" stroke-width="0.85" />
<line x1="318.00" y1="106.49" x2="346.10" y2="101.20" stroke="#000" stroke-width="0.85" />
<line x1="318.00" y1="107.46" x2="346.10" y2="105.78" stroke="#000" stroke-width="0.85" />
<line x1="318.00" y1="108.34" x2="346.10" y2="104.28" stroke="#000" stroke-width="0.85" />
<line x1="318.00" y1="108.96" x2="346.10" y2="108.52" stroke="#000" stroke-width="0.85" />
<line x1="318.00" y1="109.40" x2="346.10" y2="107.20" stroke="#000" stroke-width="0.85" />
<path d="M377.80,38.40 C378.10,43.69 377.77,45.31 377.90,54.28 C378.03,63.24 377.37,59.42 378.20,65.30 C379.03,71.18 377.50,68.24 380.40,71.92 C383.30,75.59 384.73,73.39 386.90,76.33 C389.07,79.27 387.73,77.94 386.90,80.73 C386.07,83.53 386.23,82.50 384.40,84.70 C382.57,86.91 383.60,84.85 381.40,87.35 C379.20,89.85 379.27,90.58 377.80,92.20 C376.33,93.82 378.47,93.82 377.00,92.20 C375.53,90.58 375.60,89.85 373.40,87.35 C371.20,84.85 372.23,86.91 370.40,84.70 C368.57,82.50 368.73,83.53 367.90,80.73 C367.07,77.94 365.73,79.27 367.90,76.33 C370.07,73.39 371.50,75.59 374.40,71.92 C377.30,68.24 375.77,71.18 376.60,65.30 C377.43,59.42 376.77,63.24 376.90,54.28 C377.03,45.31 376.70,43.69 377.00,38.40 C377.30,33.11 377.50,33.11 377.80,38.40 Z" fill="#fff" stroke="#000" stroke-width="0.7"/>
<path d="M409.50,81.18 C411.33,82.13 411.00,82.20 414.00,84.04 C417.00,85.88 417.17,85.00 418.50,86.69 C419.83,88.38 419.50,87.42 418.00,89.11 C416.50,90.80 416.83,89.92 414.00,91.76 C411.17,93.60 411.33,93.67 409.50,94.63 C407.67,95.58 410.33,95.58 408.50,94.63 C406.67,93.67 406.83,93.60 404.00,91.76 C401.17,89.92 401.50,90.80 400.00,89.11 C398.50,87.42 398.17,88.38 399.50,86.69 C400.83,85.00 401.00,85.88 404.00,84.04 C407.00,82.20 406.67,82.13 408.50,81.18 C410.33,80.22 407.67,80.22 409.50,81.18 Z" fill="#fff" stroke="#000" stroke-width="0.7"/>
<circle cx="318.00" cy="50.48" r="2.55" fill="#ef4b2b" stroke="#000" stroke-width="0.65"/>
<circle cx="318.00" cy="78.62" r="2.55" fill="#ef4b2b" stroke="#000" stroke-width="0.65"/>
<circle cx="318.00" cy="83.91" r="2.55" fill="#ef4b2b" stroke="#000" stroke-width="0.65"/>
<circle cx="318.00" cy="95.82" r="2.55" fill="#ef4b2b" stroke="#000" stroke-width="0.65"/>
<circle cx="318.00" cy="100.32" r="2.55" fill="#ef4b2b" stroke="#000" stroke-width="0.65"/>
<circle cx="318.00" cy="102.52" r="2.55" fill="#ef4b2b" stroke="#000" stroke-width="0.65"/>
<circle cx="318.00" cy="104.11" r="2.55" fill="#ef4b2b" stroke="#000" stroke-width="0.65"/>
<circle cx="318.00" cy="105.43" r="2.55" fill="#ef4b2b" stroke="#000" stroke-width="0.65"/>
<circle cx="318.00" cy="106.49" r="2.55" fill="#ef4b2b" stroke="#000" stroke-width="0.65"/>
<circle cx="318.00" cy="107.46" r="2.55" fill="#ef4b2b" stroke="#000" stroke-width="0.65"/>
<circle cx="318.00" cy="108.34" r="2.55" fill="#ef4b2b" stroke="#000" stroke-width="0.65"/>
<circle cx="318.00" cy="108.96" r="2.55" fill="#ef4b2b" stroke="#000" stroke-width="0.65"/>
<circle cx="318.00" cy="109.40" r="2.55" fill="#ef4b2b" stroke="#000" stroke-width="0.65"/>
<circle cx="346.10" cy="21.29" r="2.55" fill="#ef4b2b" stroke="#000" stroke-width="0.65"/>
<circle cx="346.10" cy="70.24" r="2.55" fill="#ef4b2b" stroke="#000" stroke-width="0.65"/>
<circle cx="346.10" cy="75.27" r="2.55" fill="#ef4b2b" stroke="#000" stroke-width="0.65"/>
<circle cx="346.10" cy="75.88" r="2.55" fill="#ef4b2b" stroke="#000" stroke-width="0.65"/>
<circle cx="346.10" cy="94.94" r="2.55" fill="#ef4b2b" stroke="#000" stroke-width="0.65"/>
<circle cx="346.10" cy="97.58" r="2.55" fill="#ef4b2b" stroke="#000" stroke-width="0.65"/>
<circle cx="346.10" cy="99.70" r="2.55" fill="#ef4b2b" stroke="#000" stroke-width="0.65"/>
<circle cx="346.10" cy="101.20" r="2.55" fill="#ef4b2b" stroke="#000" stroke-width="0.65"/>
<circle cx="346.10" cy="103.05" r="2.55" fill="#ef4b2b" stroke="#000" stroke-width="0.65"/>
<circle cx="346.10" cy="104.28" r="2.55" fill="#ef4b2b" stroke="#000" stroke-width="0.65"/>
<circle cx="346.10" cy="105.78" r="2.55" fill="#ef4b2b" stroke="#000" stroke-width="0.65"/>
<circle cx="346.10" cy="107.20" r="2.55" fill="#ef4b2b" stroke="#000" stroke-width="0.65"/>
<circle cx="346.10" cy="108.52" r="2.55" fill="#ef4b2b" stroke="#000" stroke-width="0.65"/>
<circle cx="377.40" cy="39.28" r="2.55" fill="#ef4b2b" stroke="#000" stroke-width="0.65"/>
<circle cx="377.40" cy="54.28" r="2.55" fill="#ef4b2b" stroke="#000" stroke-width="0.65"/>
<circle cx="377.40" cy="64.20" r="2.55" fill="#ef4b2b" stroke="#000" stroke-width="0.65"/>
<circle cx="369.70" cy="77.21" r="2.55" fill="#ef4b2b" stroke="#000" stroke-width="0.65"/>
<circle cx="374.70" cy="75.66" r="2.55" fill="#ef4b2b" stroke="#000" stroke-width="0.65"/>
<circle cx="379.80" cy="78.53" r="2.55" fill="#ef4b2b" stroke="#000" stroke-width="0.65"/>
<circle cx="384.70" cy="77.21" r="2.55" fill="#ef4b2b" stroke="#000" stroke-width="0.65"/>
<circle cx="369.70" cy="81.18" r="2.55" fill="#ef4b2b" stroke="#000" stroke-width="0.65"/>
<circle cx="374.70" cy="82.94" r="2.55" fill="#ef4b2b" stroke="#000" stroke-width="0.65"/>
<circle cx="379.80" cy="82.06" r="2.55" fill="#ef4b2b" stroke="#000" stroke-width="0.65"/>
<circle cx="384.70" cy="82.72" r="2.55" fill="#ef4b2b" stroke="#000" stroke-width="0.65"/>
<circle cx="375.20" cy="86.69" r="2.55" fill="#ef4b2b" stroke="#000" stroke-width="0.65"/>
<circle cx="380.00" cy="87.35" r="2.55" fill="#ef4b2b" stroke="#000" stroke-width="0.65"/>
<circle cx="377.40" cy="91.54" r="2.55" fill="#ef4b2b" stroke="#000" stroke-width="0.65"/>
<circle cx="409.00" cy="82.06" r="2.55" fill="#c4ae94" stroke="#000" stroke-width="0.65"/>
<circle cx="404.40" cy="86.69" r="2.55" fill="#c4ae94" stroke="#000" stroke-width="0.65"/>
<circle cx="412.60" cy="86.69" r="2.55" fill="#c4ae94" stroke="#000" stroke-width="0.65"/>
<circle cx="417.00" cy="87.13" r="2.55" fill="#c4ae94" stroke="#000" stroke-width="0.65"/>
<circle cx="405.40" cy="90.22" r="2.55" fill="#c4ae94" stroke="#000" stroke-width="0.65"/>
<circle cx="410.80" cy="90.00" r="2.55" fill="#c4ae94" stroke="#000" stroke-width="0.65"/>
<circle cx="414.50" cy="89.33" r="2.55" fill="#c4ae94" stroke="#000" stroke-width="0.65"/>
<circle cx="407.20" cy="93.97" r="2.55" fill="#c4ae94" stroke="#000" stroke-width="0.65"/>
<circle cx="400.80" cy="88.45" r="2.55" fill="#c4ae94" stroke="#000" stroke-width="0.65"/>
<text x="331.00" y="11.31" font-size="9.2" text-anchor="middle" stroke="#231f20" stroke-width="0.16"><tspan font-style="italic">P</tspan> = 0.0006</text>
<polyline points="318.00,17.60 318.00,15.40 346.10,15.40 346.10,17.60" fill="none" stroke="#333" stroke-width="0.8"/>
<text x="393.70" y="11.31" font-size="9.2" text-anchor="middle" stroke="#231f20" stroke-width="0.16"><tspan font-style="italic">P</tspan> = 0.0003</text>
<polyline points="377.40,17.60 377.40,15.40 409.00,15.40 409.00,17.60" fill="none" stroke="#333" stroke-width="0.8"/>
<g stroke="#6d6e71" stroke-width="0.8" fill="none">
<line x1="525.30" y1="20.20" x2="525.30" y2="110.00"/>
<line x1="642.70" y1="20.20" x2="642.70" y2="110.00"/>
<line x1="525.30" y1="109.60" x2="581.80" y2="109.60"/>
<line x1="584.80" y1="109.60" x2="642.70" y2="109.60"/>
<line x1="521.50" y1="109.60" x2="525.30" y2="109.60"/>
<line x1="521.50" y1="87.35" x2="525.30" y2="87.35"/>
<line x1="521.50" y1="65.10" x2="525.30" y2="65.10"/>
<line x1="521.50" y1="42.85" x2="525.30" y2="42.85"/>
<line x1="521.50" y1="20.60" x2="525.30" y2="20.60"/>
<line x1="642.70" y1="109.60" x2="646.50" y2="109.60"/>
<line x1="642.70" y1="91.80" x2="646.50" y2="91.80"/>
<line x1="642.70" y1="74.00" x2="646.50" y2="74.00"/>
<line x1="642.70" y1="56.20" x2="646.50" y2="56.20"/>
<line x1="642.70" y1="38.40" x2="646.50" y2="38.40"/>
<line x1="642.70" y1="20.60" x2="646.50" y2="20.60"/>
<line x1="536.50" y1="109.60" x2="536.50" y2="113.40"/>
<line x1="564.20" y1="109.60" x2="564.20" y2="113.40"/>
<line x1="595.80" y1="109.60" x2="595.80" y2="113.40"/>
<line x1="627.70" y1="109.60" x2="627.70" y2="113.40"/>
</g>
<text x="517.70" y="112.77" font-size="10.2" text-anchor="end" stroke="#231f20" stroke-width="0.16" >0</text>
<text x="517.70" y="90.52" font-size="10.2" text-anchor="end" stroke="#231f20" stroke-width="0.16" >100</text>
<text x="517.70" y="68.27" font-size="10.2" text-anchor="end" stroke="#231f20" stroke-width="0.16" >200</text>
<text x="517.70" y="46.02" font-size="10.2" text-anchor="end" stroke="#231f20" stroke-width="0.16" >300</text>
<text x="517.70" y="23.77" font-size="10.2" text-anchor="end" stroke="#231f20" stroke-width="0.16" >400</text>
<text x="650.10" y="112.77" font-size="10.2" text-anchor="start" stroke="#231f20" stroke-width="0.16" >−30</text>
<text x="650.10" y="94.97" font-size="10.2" text-anchor="start" stroke="#231f20" stroke-width="0.16" >−20</text>
<text x="650.10" y="77.17" font-size="10.2" text-anchor="start" stroke="#231f20" stroke-width="0.16" >−10</text>
<text x="650.10" y="59.37" font-size="10.2" text-anchor="start" stroke="#231f20" stroke-width="0.16" >0</text>
<text x="650.10" y="41.57" font-size="10.2" text-anchor="start" stroke="#231f20" stroke-width="0.16" >10</text>
<text x="650.10" y="23.77" font-size="10.2" text-anchor="start" stroke="#231f20" stroke-width="0.16" >20</text>
<text x="536.50" y="126.29" font-size="9.7" text-anchor="middle" stroke="#231f20" stroke-width="0.16" >Ctrl</text>
<text x="564.20" y="126.29" font-size="9.7" text-anchor="middle" stroke="#231f20" stroke-width="0.16" >TGOT</text>
<text x="595.80" y="126.29" font-size="9.7" text-anchor="middle" stroke="#231f20" stroke-width="0.16"  textLength="27.6" lengthAdjust="spacingAndGlyphs">ΔTGOT</text>
<text x="632.70" y="126.29" font-size="9.7" text-anchor="middle" stroke="#231f20" stroke-width="0.16"  textLength="35.4" lengthAdjust="spacingAndGlyphs">ΔVehicle</text>
<text x="0" y="3.92" font-size="10.9" text-anchor="middle" transform="translate(489.90,65.00) rotate(-90)" stroke="#231f20" stroke-width="0.16" >mHR (bpm)</text>
<text x="0" y="3.78" font-size="10.5" text-anchor="middle" transform="translate(682.20,63.40) rotate(90)" stroke="#231f20" stroke-width="0.16" >Δ mHR (bpm)</text>
<line x1="584.80" y1="56.20" x2="642.70" y2="56.20" stroke="#555" stroke-width="0.6" stroke-dasharray="1.6,1.2"/>
<line x1="536.50" y1="29.94" x2="564.20" y2="32.17" stroke="#000" stroke-width="0.85" />
<line x1="536.50" y1="39.51" x2="564.20" y2="39.73" stroke="#000" stroke-width="0.85" />
<line x1="536.50" y1="40.62" x2="564.20" y2="38.40" stroke="#000" stroke-width="0.85" />
<line x1="536.50" y1="42.18" x2="564.20" y2="42.63" stroke="#000" stroke-width="0.85" />
<line x1="536.50" y1="43.74" x2="564.20" y2="40.85" stroke="#000" stroke-width="0.85" />
<line x1="536.50" y1="45.52" x2="564.20" y2="44.41" stroke="#000" stroke-width="0.85" />
<line x1="536.50" y1="47.08" x2="564.20" y2="47.74" stroke="#000" stroke-width="0.85" />
<line x1="536.50" y1="48.63" x2="564.20" y2="46.19" stroke="#000" stroke-width="0.85" />
<line x1="536.50" y1="50.64" x2="564.20" y2="49.30" stroke="#000" stroke-width="0.85" />
<line x1="536.50" y1="52.64" x2="564.20" y2="52.86" stroke="#000" stroke-width="0.85" />
<line x1="536.50" y1="59.09" x2="564.20" y2="59.09" stroke="#000" stroke-width="0.85" />
<path d="M596.30,41.07 C597.80,43.15 598.30,43.44 599.80,47.30 C601.30,51.16 600.13,48.49 600.80,52.64 C601.47,56.79 600.30,55.61 601.80,59.76 C603.30,63.91 604.97,61.54 605.30,65.10 C605.63,68.66 605.80,67.00 602.80,70.44 C599.80,73.88 598.80,73.76 596.30,75.42 C593.80,77.09 597.80,77.09 595.30,75.42 C592.80,73.76 591.80,73.88 588.80,70.44 C585.80,67.00 585.97,68.66 586.30,65.10 C586.63,61.54 588.30,63.91 589.80,59.76 C591.30,55.61 590.13,56.79 590.80,52.64 C591.47,48.49 590.30,51.16 591.80,47.30 C593.30,43.44 593.80,43.15 595.30,41.07 C596.80,38.99 594.80,38.99 596.30,41.07 Z" fill="#fff" stroke="#000" stroke-width="0.7"/>
<path d="M632.70,51.57 C637.03,52.52 634.53,51.69 635.70,54.42 C636.87,57.15 636.53,56.20 636.20,59.76 C635.87,63.32 634.70,61.84 634.70,65.10 C634.70,68.36 636.87,66.58 636.20,69.55 C635.53,72.52 635.20,70.14 632.70,74.00 C630.20,77.86 630.20,75.31 628.70,81.12 C627.20,86.93 628.70,88.00 628.20,91.44 C627.70,94.89 627.70,94.89 627.20,91.44 C626.70,88.00 628.20,86.93 626.70,81.12 C625.20,75.31 625.20,77.86 622.70,74.00 C620.20,70.14 619.87,72.52 619.20,69.55 C618.53,66.58 620.70,68.36 620.70,65.10 C620.70,61.84 619.53,63.32 619.20,59.76 C618.87,56.20 618.53,57.15 619.70,54.42 C620.87,51.69 618.37,52.52 622.70,51.57 C627.03,50.62 628.37,50.62 632.70,51.57 Z" fill="#fff" stroke="#000" stroke-width="0.7"/>
<circle cx="536.50" cy="29.94" r="2.55" fill="#ef4b2b" stroke="#000" stroke-width="0.65"/>
<circle cx="536.50" cy="39.51" r="2.55" fill="#ef4b2b" stroke="#000" stroke-width="0.65"/>
<circle cx="536.50" cy="40.62" r="2.55" fill="#ef4b2b" stroke="#000" stroke-width="0.65"/>
<circle cx="536.50" cy="42.18" r="2.55" fill="#ef4b2b" stroke="#000" stroke-width="0.65"/>
<circle cx="536.50" cy="43.74" r="2.55" fill="#ef4b2b" stroke="#000" stroke-width="0.65"/>
<circle cx="536.50" cy="45.52" r="2.55" fill="#ef4b2b" stroke="#000" stroke-width="0.65"/>
<circle cx="536.50" cy="47.08" r="2.55" fill="#ef4b2b" stroke="#000" stroke-width="0.65"/>
<circle cx="536.50" cy="48.63" r="2.55" fill="#ef4b2b" stroke="#000" stroke-width="0.65"/>
<circle cx="536.50" cy="50.64" r="2.55" fill="#ef4b2b" stroke="#000" stroke-width="0.65"/>
<circle cx="536.50" cy="52.64" r="2.55" fill="#ef4b2b" stroke="#000" stroke-width="0.65"/>
<circle cx="536.50" cy="59.09" r="2.55" fill="#ef4b2b" stroke="#000" stroke-width="0.65"/>
<circle cx="564.20" cy="32.17" r="2.55" fill="#ef4b2b" stroke="#000" stroke-width="0.65"/>
<circle cx="564.20" cy="38.40" r="2.55" fill="#ef4b2b" stroke="#000" stroke-width="0.65"/>
<circle cx="564.20" cy="39.73" r="2.55" fill="#ef4b2b" stroke="#000" stroke-width="0.65"/>
<circle cx="564.20" cy="40.85" r="2.55" fill="#ef4b2b" stroke="#000" stroke-width="0.65"/>
<circle cx="564.20" cy="42.63" r="2.55" fill="#ef4b2b" stroke="#000" stroke-width="0.65"/>
<circle cx="564.20" cy="44.41" r="2.55" fill="#ef4b2b" stroke="#000" stroke-width="0.65"/>
<circle cx="564.20" cy="46.19" r="2.55" fill="#ef4b2b" stroke="#000" stroke-width="0.65"/>
<circle cx="564.20" cy="47.74" r="2.55" fill="#ef4b2b" stroke="#000" stroke-width="0.65"/>
<circle cx="564.20" cy="49.30" r="2.55" fill="#ef4b2b" stroke="#000" stroke-width="0.65"/>
<circle cx="564.20" cy="52.86" r="2.55" fill="#ef4b2b" stroke="#000" stroke-width="0.65"/>
<circle cx="564.20" cy="59.09" r="2.55" fill="#ef4b2b" stroke="#000" stroke-width="0.65"/>
<circle cx="595.80" cy="43.74" r="2.55" fill="#ef4b2b" stroke="#000" stroke-width="0.65"/>
<circle cx="592.10" cy="50.86" r="2.55" fill="#ef4b2b" stroke="#000" stroke-width="0.65"/>
<circle cx="598.90" cy="50.50" r="2.55" fill="#ef4b2b" stroke="#000" stroke-width="0.65"/>
<circle cx="595.80" cy="53.35" r="2.55" fill="#ef4b2b" stroke="#000" stroke-width="0.65"/>
<circle cx="595.80" cy="56.56" r="2.55" fill="#ef4b2b" stroke="#000" stroke-width="0.65"/>
<circle cx="595.80" cy="60.65" r="2.55" fill="#ef4b2b" stroke="#000" stroke-width="0.65"/>
<circle cx="588.50" cy="64.74" r="2.55" fill="#ef4b2b" stroke="#000" stroke-width="0.65"/>
<circle cx="592.50" cy="64.39" r="2.55" fill="#ef4b2b" stroke="#000" stroke-width="0.65"/>
<circle cx="598.90" cy="64.39" r="2.55" fill="#ef4b2b" stroke="#000" stroke-width="0.65"/>
<circle cx="603.10" cy="64.74" r="2.55" fill="#ef4b2b" stroke="#000" stroke-width="0.65"/>
<circle cx="592.50" cy="68.30" r="2.55" fill="#ef4b2b" stroke="#000" stroke-width="0.65"/>
<circle cx="595.80" cy="69.55" r="2.55" fill="#ef4b2b" stroke="#000" stroke-width="0.65"/>
<circle cx="598.90" cy="68.66" r="2.55" fill="#ef4b2b" stroke="#000" stroke-width="0.65"/>
<circle cx="595.80" cy="74.00" r="2.55" fill="#ef4b2b" stroke="#000" stroke-width="0.65"/>
<circle cx="622.60" cy="53.89" r="2.55" fill="#c4ae94" stroke="#000" stroke-width="0.65"/>
<circle cx="627.70" cy="53.89" r="2.55" fill="#c4ae94" stroke="#000" stroke-width="0.65"/>
<circle cx="622.60" cy="57.09" r="2.55" fill="#c4ae94" stroke="#000" stroke-width="0.65"/>
<circle cx="627.70" cy="59.76" r="2.55" fill="#c4ae94" stroke="#000" stroke-width="0.65"/>
<circle cx="633.00" cy="59.40" r="2.55" fill="#c4ae94" stroke="#000" stroke-width="0.65"/>
<circle cx="622.60" cy="68.66" r="2.55" fill="#c4ae94" stroke="#000" stroke-width="0.65"/>
<circle cx="627.70" cy="68.66" r="2.55" fill="#c4ae94" stroke="#000" stroke-width="0.65"/>
<circle cx="633.00" cy="68.66" r="2.55" fill="#c4ae94" stroke="#000" stroke-width="0.65"/>
<circle cx="627.70" cy="73.47" r="2.55" fill="#c4ae94" stroke="#000" stroke-width="0.65"/>
<circle cx="627.70" cy="90.38" r="2.55" fill="#c4ae94" stroke="#000" stroke-width="0.65"/>
<text x="551.00" y="16.11" font-size="9.2" text-anchor="middle" stroke="#231f20" stroke-width="0.16"><tspan font-style="italic">P</tspan> = 0.0346</text>
<polyline points="536.50,22.40 536.50,20.20 564.20,20.20 564.20,22.40" fill="none" stroke="#333" stroke-width="0.8"/>
<g stroke="#6d6e71" stroke-width="0.8" fill="none">
<line x1="307.20" y1="150.60" x2="307.20" y2="240.00"/>
<line x1="424.50" y1="150.60" x2="424.50" y2="240.00"/>
<line x1="307.20" y1="239.60" x2="363.70" y2="239.60"/>
<line x1="366.70" y1="239.60" x2="424.50" y2="239.60"/>
<line x1="303.40" y1="239.60" x2="307.20" y2="239.60"/>
<line x1="303.40" y1="221.88" x2="307.20" y2="221.88"/>
<line x1="303.40" y1="204.16" x2="307.20" y2="204.16"/>
<line x1="303.40" y1="186.44" x2="307.20" y2="186.44"/>
<line x1="303.40" y1="168.72" x2="307.20" y2="168.72"/>
<line x1="303.40" y1="151.00" x2="307.20" y2="151.00"/>
<line x1="424.50" y1="239.60" x2="428.30" y2="239.60"/>
<line x1="424.50" y1="221.88" x2="428.30" y2="221.88"/>
<line x1="424.50" y1="204.16" x2="428.30" y2="204.16"/>
<line x1="424.50" y1="186.44" x2="428.30" y2="186.44"/>
<line x1="424.50" y1="168.72" x2="428.30" y2="168.72"/>
<line x1="424.50" y1="151.00" x2="428.30" y2="151.00"/>
<line x1="318.70" y1="239.60" x2="318.70" y2="243.40"/>
<line x1="346.60" y1="239.60" x2="346.60" y2="243.40"/>
<line x1="377.40" y1="239.60" x2="377.40" y2="243.40"/>
<line x1="409.00" y1="239.60" x2="409.00" y2="243.40"/>
</g>
<text x="299.60" y="242.77" font-size="10.2" text-anchor="end" stroke="#231f20" stroke-width="0.16" >0</text>
<text x="299.60" y="225.05" font-size="10.2" text-anchor="end" stroke="#231f20" stroke-width="0.16" >20</text>
<text x="299.60" y="207.33" font-size="10.2" text-anchor="end" stroke="#231f20" stroke-width="0.16" >40</text>
<text x="299.60" y="189.61" font-size="10.2" text-anchor="end" stroke="#231f20" stroke-width="0.16" >60</text>
<text x="299.60" y="171.89" font-size="10.2" text-anchor="end" stroke="#231f20" stroke-width="0.16" >80</text>
<text x="299.60" y="154.17" font-size="10.2" text-anchor="end" stroke="#231f20" stroke-width="0.16" >100</text>
<text x="431.90" y="242.77" font-size="10.2" text-anchor="start" stroke="#231f20" stroke-width="0.16" >−20</text>
<text x="431.90" y="225.05" font-size="10.2" text-anchor="start" stroke="#231f20" stroke-width="0.16" >−15</text>
<text x="431.90" y="207.33" font-size="10.2" text-anchor="start" stroke="#231f20" stroke-width="0.16" >−10</text>
<text x="431.90" y="189.61" font-size="10.2" text-anchor="start" stroke="#231f20" stroke-width="0.16" >−5</text>
<text x="431.90" y="171.89" font-size="10.2" text-anchor="start" stroke="#231f20" stroke-width="0.16" >0</text>
<text x="431.90" y="154.17" font-size="10.2" text-anchor="start" stroke="#231f20" stroke-width="0.16" >5</text>
<text x="318.70" y="256.29" font-size="9.7" text-anchor="middle" stroke="#231f20" stroke-width="0.16" >Ctrl</text>
<text x="346.60" y="256.29" font-size="9.7" text-anchor="middle" stroke="#231f20" stroke-width="0.16" >TGOT</text>
<text x="377.40" y="256.29" font-size="9.7" text-anchor="middle" stroke="#231f20" stroke-width="0.16"  textLength="27.6" lengthAdjust="spacingAndGlyphs">ΔTGOT</text>
<text x="414.00" y="256.29" font-size="9.7" text-anchor="middle" stroke="#231f20" stroke-width="0.16"  textLength="35.4" lengthAdjust="spacingAndGlyphs">ΔVehicle</text>
<text x="0" y="3.92" font-size="10.9" text-anchor="middle" transform="translate(274.00,195.50) rotate(-90)" stroke="#231f20" stroke-width="0.16" >Respiratory freq (cpm)</text>
<text x="0" y="3.78" font-size="10.5" text-anchor="middle" transform="translate(463.20,196.00) rotate(90)" stroke="#231f20" stroke-width="0.16" >Δ Respiratory freq (%)</text>
<line x1="366.70" y1="168.72" x2="424.50" y2="168.72" stroke="#555" stroke-width="0.6" stroke-dasharray="1.6,1.2"/>
<line x1="318.70" y1="169.43" x2="346.60" y2="168.01" stroke="#000" stroke-width="0.85" />
<line x1="318.70" y1="178.02" x2="346.60" y2="179.09" stroke="#000" stroke-width="0.85" />
<line x1="318.70" y1="180.42" x2="346.60" y2="181.30" stroke="#000" stroke-width="0.85" />
<line x1="318.70" y1="182.90" x2="346.60" y2="185.29" stroke="#000" stroke-width="0.85" />
<line x1="318.70" y1="184.67" x2="346.60" y2="183.34" stroke="#000" stroke-width="0.85" />
<line x1="318.70" y1="186.88" x2="346.60" y2="187.33" stroke="#000" stroke-width="0.85" />
<line x1="318.70" y1="189.10" x2="346.60" y2="191.76" stroke="#000" stroke-width="0.85" />
<line x1="318.70" y1="191.31" x2="346.60" y2="189.45" stroke="#000" stroke-width="0.85" />
<line x1="318.70" y1="193.17" x2="346.60" y2="193.62" stroke="#000" stroke-width="0.85" />
<line x1="318.70" y1="195.03" x2="346.60" y2="197.51" stroke="#000" stroke-width="0.85" />
<line x1="318.70" y1="196.63" x2="346.60" y2="195.83" stroke="#000" stroke-width="0.85" />
<line x1="318.70" y1="198.14" x2="346.60" y2="199.46" stroke="#000" stroke-width="0.85" />
<line x1="318.70" y1="200.17" x2="346.60" y2="205.31" stroke="#000" stroke-width="0.85" />
<line x1="318.70" y1="202.30" x2="346.60" y2="202.39" stroke="#000" stroke-width="0.85" />
<path d="M380.90,159.15 C384.23,161.16 381.90,160.21 383.90,165.18 C385.90,170.14 386.73,169.31 386.90,174.04 C387.07,178.76 386.57,175.22 384.40,179.35 C382.23,183.49 382.40,181.71 380.40,186.44 C378.40,191.17 379.23,185.26 378.40,193.53 C377.57,201.80 378.10,199.20 377.90,211.25 C377.70,223.30 378.10,223.53 377.80,229.68 C377.50,235.82 377.30,235.82 377.00,229.68 C376.70,223.53 377.10,223.30 376.90,211.25 C376.70,199.20 377.23,201.80 376.40,193.53 C375.57,185.26 376.40,191.17 374.40,186.44 C372.40,181.71 372.57,183.49 370.40,179.35 C368.23,175.22 367.73,178.76 367.90,174.04 C368.07,169.31 368.90,170.14 370.90,165.18 C372.90,160.21 370.57,161.16 373.90,159.15 C377.23,157.14 377.57,157.14 380.90,159.15 Z" fill="#fff" stroke="#000" stroke-width="0.7"/>
<circle cx="318.70" cy="169.43" r="2.55" fill="#ef4b2b" stroke="#000" stroke-width="0.65"/>
<circle cx="318.70" cy="178.02" r="2.55" fill="#ef4b2b" stroke="#000" stroke-width="0.65"/>
<circle cx="318.70" cy="180.42" r="2.55" fill="#ef4b2b" stroke="#000" stroke-width="0.65"/>
<circle cx="318.70" cy="182.90" r="2.55" fill="#ef4b2b" stroke="#000" stroke-width="0.65"/>
<circle cx="318.70" cy="184.67" r="2.55" fill="#ef4b2b" stroke="#000" stroke-width="0.65"/>
<circle cx="318.70" cy="186.88" r="2.55" fill="#ef4b2b" stroke="#000" stroke-width="0.65"/>
<circle cx="318.70" cy="189.10" r="2.55" fill="#ef4b2b" stroke="#000" stroke-width="0.65"/>
<circle cx="318.70" cy="191.31" r="2.55" fill="#ef4b2b" stroke="#000" stroke-width="0.65"/>
<circle cx="318.70" cy="193.17" r="2.55" fill="#ef4b2b" stroke="#000" stroke-width="0.65"/>
<circle cx="318.70" cy="195.03" r="2.55" fill="#ef4b2b" stroke="#000" stroke-width="0.65"/>
<circle cx="318.70" cy="196.63" r="2.55" fill="#ef4b2b" stroke="#000" stroke-width="0.65"/>
<circle cx="318.70" cy="198.14" r="2.55" fill="#ef4b2b" stroke="#000" stroke-width="0.65"/>
<circle cx="318.70" cy="200.17" r="2.55" fill="#ef4b2b" stroke="#000" stroke-width="0.65"/>
<circle cx="318.70" cy="202.30" r="2.55" fill="#ef4b2b" stroke="#000" stroke-width="0.65"/>
<circle cx="346.60" cy="168.01" r="2.55" fill="#ef4b2b" stroke="#000" stroke-width="0.65"/>
<circle cx="346.60" cy="179.09" r="2.55" fill="#ef4b2b" stroke="#000" stroke-width="0.65"/>
<circle cx="346.60" cy="181.30" r="2.55" fill="#ef4b2b" stroke="#000" stroke-width="0.65"/>
<circle cx="346.60" cy="183.34" r="2.55" fill="#ef4b2b" stroke="#000" stroke-width="0.65"/>
<circle cx="346.60" cy="185.29" r="2.55" fill="#ef4b2b" stroke="#000" stroke-width="0.65"/>
<circle cx="346.60" cy="187.33" r="2.55" fill="#ef4b2b" stroke="#000" stroke-width="0.65"/>
<circle cx="346.60" cy="189.45" r="2.55" fill="#ef4b2b" stroke="#000" stroke-width="0.65"/>
<circle cx="346.60" cy="191.76" r="2.55" fill="#ef4b2b" stroke="#000" stroke-width="0.65"/>
<circle cx="346.60" cy="193.62" r="2.55" fill="#ef4b2b" stroke="#000" stroke-width="0.65"/>
<circle cx="346.60" cy="195.83" r="2.55" fill="#ef4b2b" stroke="#000" stroke-width="0.65"/>
<circle cx="346.60" cy="197.51" r="2.55" fill="#ef4b2b" stroke="#000" stroke-width="0.65"/>
<circle cx="346.60" cy="199.46" r="2.55" fill="#ef4b2b" stroke="#000" stroke-width="0.65"/>
<circle cx="346.60" cy="202.39" r="2.55" fill="#ef4b2b" stroke="#000" stroke-width="0.65"/>
<circle cx="346.60" cy="205.31" r="2.55" fill="#ef4b2b" stroke="#000" stroke-width="0.65"/>
<circle cx="377.40" cy="160.57" r="2.55" fill="#ef4b2b" stroke="#000" stroke-width="0.65"/>
<circle cx="373.90" cy="163.05" r="2.55" fill="#ef4b2b" stroke="#000" stroke-width="0.65"/>
<circle cx="381.20" cy="162.34" r="2.55" fill="#ef4b2b" stroke="#000" stroke-width="0.65"/>
<circle cx="377.40" cy="167.83" r="2.55" fill="#ef4b2b" stroke="#000" stroke-width="0.65"/>
<circle cx="377.40" cy="171.56" r="2.55" fill="#ef4b2b" stroke="#000" stroke-width="0.65"/>
<circle cx="370.10" cy="174.39" r="2.55" fill="#ef4b2b" stroke="#000" stroke-width="0.65"/>
<circle cx="373.90" cy="175.45" r="2.55" fill="#ef4b2b" stroke="#000" stroke-width="0.65"/>
<circle cx="377.40" cy="176.16" r="2.55" fill="#ef4b2b" stroke="#000" stroke-width="0.65"/>
<circle cx="381.20" cy="174.74" r="2.55" fill="#ef4b2b" stroke="#000" stroke-width="0.65"/>
<circle cx="384.70" cy="174.39" r="2.55" fill="#ef4b2b" stroke="#000" stroke-width="0.65"/>
<circle cx="373.90" cy="182.19" r="2.55" fill="#ef4b2b" stroke="#000" stroke-width="0.65"/>
<circle cx="377.40" cy="184.67" r="2.55" fill="#ef4b2b" stroke="#000" stroke-width="0.65"/>
<circle cx="377.40" cy="187.15" r="2.55" fill="#ef4b2b" stroke="#000" stroke-width="0.65"/>
<circle cx="377.40" cy="188.92" r="2.55" fill="#ef4b2b" stroke="#000" stroke-width="0.65"/>
<circle cx="377.40" cy="228.61" r="2.55" fill="#ef4b2b" stroke="#000" stroke-width="0.65"/>
<circle cx="409.00" cy="157.02" r="2.55" fill="#c4ae94" stroke="#000" stroke-width="0.65"/>
<circle cx="409.00" cy="162.34" r="2.55" fill="#c4ae94" stroke="#000" stroke-width="0.65"/>
<circle cx="404.40" cy="165.18" r="2.55" fill="#c4ae94" stroke="#000" stroke-width="0.65"/>
<circle cx="413.90" cy="165.18" r="2.55" fill="#c4ae94" stroke="#000" stroke-width="0.65"/>
<circle cx="403.50" cy="168.72" r="2.55" fill="#c4ae94" stroke="#000" stroke-width="0.65"/>
<circle cx="409.00" cy="168.37" r="2.55" fill="#c4ae94" stroke="#000" stroke-width="0.65"/>
<circle cx="414.50" cy="168.72" r="2.55" fill="#c4ae94" stroke="#000" stroke-width="0.65"/>
<circle cx="404.40" cy="171.91" r="2.55" fill="#c4ae94" stroke="#000" stroke-width="0.65"/>
<circle cx="413.90" cy="171.91" r="2.55" fill="#c4ae94" stroke="#000" stroke-width="0.65"/>
<circle cx="409.00" cy="172.26" r="2.55" fill="#c4ae94" stroke="#000" stroke-width="0.65"/>
<circle cx="409.00" cy="178.29" r="2.55" fill="#c4ae94" stroke="#000" stroke-width="0.65"/>
<text x="337.00" y="154.81" font-size="9.2" text-anchor="middle" stroke="#231f20" stroke-width="0.16">(<tspan font-style="italic">P</tspan> = 0.0638)</text>
<polyline points="318.70,160.20 318.70,158.00 346.60,158.00 346.60,160.20" fill="none" stroke="#333" stroke-width="0.8"/>
<text x="392.70" y="143.91" font-size="9.2" text-anchor="middle" stroke="#231f20" stroke-width="0.16"><tspan font-style="italic">P</tspan> = 0.0476</text>
<polyline points="377.40,149.60 377.40,147.40 409.00,147.40 409.00,149.60" fill="none" stroke="#333" stroke-width="0.8"/>
<g stroke="#6d6e71" stroke-width="0.8" fill="none">
<line x1="525.80" y1="151.00" x2="525.80" y2="240.40"/>
<line x1="642.30" y1="151.00" x2="642.30" y2="240.40"/>
<line x1="525.80" y1="240.00" x2="582.30" y2="240.00"/>
<line x1="585.30" y1="240.00" x2="642.30" y2="240.00"/>
<line x1="522.00" y1="240.00" x2="525.80" y2="240.00"/>
<line x1="522.00" y1="210.47" x2="525.80" y2="210.47"/>
<line x1="522.00" y1="180.93" x2="525.80" y2="180.93"/>
<line x1="522.00" y1="151.40" x2="525.80" y2="151.40"/>
<line x1="642.30" y1="240.00" x2="646.10" y2="240.00"/>
<line x1="642.30" y1="222.28" x2="646.10" y2="222.28"/>
<line x1="642.30" y1="204.56" x2="646.10" y2="204.56"/>
<line x1="642.30" y1="186.84" x2="646.10" y2="186.84"/>
<line x1="642.30" y1="169.12" x2="646.10" y2="169.12"/>
<line x1="642.30" y1="151.40" x2="646.10" y2="151.40"/>
<line x1="536.90" y1="240.00" x2="536.90" y2="243.80"/>
<line x1="564.80" y1="240.00" x2="564.80" y2="243.80"/>
<line x1="595.80" y1="240.00" x2="595.80" y2="243.80"/>
<line x1="627.70" y1="240.00" x2="627.70" y2="243.80"/>
</g>
<text x="518.20" y="243.17" font-size="10.2" text-anchor="end" stroke="#231f20" stroke-width="0.16" >0</text>
<text x="518.20" y="213.64" font-size="10.2" text-anchor="end" stroke="#231f20" stroke-width="0.16" >20</text>
<text x="518.20" y="184.11" font-size="10.2" text-anchor="end" stroke="#231f20" stroke-width="0.16" >40</text>
<text x="518.20" y="154.57" font-size="10.2" text-anchor="end" stroke="#231f20" stroke-width="0.16" >60</text>
<text x="649.70" y="243.17" font-size="10.2" text-anchor="start" stroke="#231f20" stroke-width="0.16" >−40</text>
<text x="649.70" y="225.45" font-size="10.2" text-anchor="start" stroke="#231f20" stroke-width="0.16" >−20</text>
<text x="649.70" y="207.73" font-size="10.2" text-anchor="start" stroke="#231f20" stroke-width="0.16" >0</text>
<text x="649.70" y="190.01" font-size="10.2" text-anchor="start" stroke="#231f20" stroke-width="0.16" >20</text>
<text x="649.70" y="172.29" font-size="10.2" text-anchor="start" stroke="#231f20" stroke-width="0.16" >40</text>
<text x="649.70" y="154.57" font-size="10.2" text-anchor="start" stroke="#231f20" stroke-width="0.16" >60</text>
<text x="536.90" y="256.69" font-size="9.7" text-anchor="middle" stroke="#231f20" stroke-width="0.16" >Ctrl</text>
<text x="564.80" y="256.69" font-size="9.7" text-anchor="middle" stroke="#231f20" stroke-width="0.16" >TGOT</text>
<text x="595.80" y="256.69" font-size="9.7" text-anchor="middle" stroke="#231f20" stroke-width="0.16"  textLength="27.6" lengthAdjust="spacingAndGlyphs">ΔTGOT</text>
<text x="632.70" y="256.69" font-size="9.7" text-anchor="middle" stroke="#231f20" stroke-width="0.16"  textLength="35.4" lengthAdjust="spacingAndGlyphs">ΔVehicle</text>
<text x="0" y="3.92" font-size="10.9" text-anchor="middle" transform="translate(493.00,196.00) rotate(-90)" stroke="#231f20" stroke-width="0.16" >Respiratory ampl (a.u.)</text>
<text x="0" y="3.78" font-size="10.5" text-anchor="middle" transform="translate(682.20,196.00) rotate(90)" stroke="#231f20" stroke-width="0.16" >Δ Respiratory ampl (%)</text>
<line x1="583.80" y1="204.56" x2="642.30" y2="204.56" stroke="#555" stroke-width="0.6" stroke-dasharray="1.6,1.2"/>
<line x1="536.90" y1="164.69" x2="564.80" y2="158.64" stroke="#000" stroke-width="0.85" />
<line x1="536.90" y1="195.85" x2="564.80" y2="176.80" stroke="#000" stroke-width="0.85" />
<line x1="536.90" y1="196.73" x2="564.80" y2="182.85" stroke="#000" stroke-width="0.85" />
<line x1="536.90" y1="203.97" x2="564.80" y2="205.00" stroke="#000" stroke-width="0.85" />
<line x1="536.90" y1="206.78" x2="564.80" y2="203.97" stroke="#000" stroke-width="0.85" />
<line x1="536.90" y1="209.58" x2="564.80" y2="207.81" stroke="#000" stroke-width="0.85" />
<line x1="536.90" y1="214.01" x2="564.80" y2="215.04" stroke="#000" stroke-width="0.85" />
<line x1="536.90" y1="218.44" x2="564.80" y2="214.01" stroke="#000" stroke-width="0.85" />
<line x1="536.90" y1="221.25" x2="564.80" y2="224.05" stroke="#000" stroke-width="0.85" />
<line x1="536.90" y1="224.94" x2="564.80" y2="221.25" stroke="#000" stroke-width="0.85" />
<line x1="536.90" y1="234.98" x2="564.80" y2="234.98" stroke="#000" stroke-width="0.85" />
<path d="M596.20,166.46 C596.53,173.25 594.87,177.09 596.40,186.84 C597.93,196.59 597.83,191.27 600.80,195.70 C603.77,200.13 604.30,197.18 605.30,200.13 C606.30,203.08 606.30,201.61 603.80,204.56 C601.30,207.51 600.33,200.87 597.80,208.99 C595.27,217.11 597.00,222.28 596.20,228.93 C595.40,235.57 596.20,235.57 595.40,228.93 C594.60,222.28 596.33,217.11 593.80,208.99 C591.27,200.87 590.30,207.51 587.80,204.56 C585.30,201.61 585.30,203.08 586.30,200.13 C587.30,197.18 587.83,200.13 590.80,195.70 C593.77,191.27 593.67,196.59 595.20,186.84 C596.73,177.09 595.07,173.25 595.40,166.46 C595.73,159.67 595.87,159.67 596.20,166.46 Z" fill="#fff" stroke="#000" stroke-width="0.7"/>
<circle cx="536.90" cy="164.69" r="2.55" fill="#ef4b2b" stroke="#000" stroke-width="0.65"/>
<circle cx="536.90" cy="195.85" r="2.55" fill="#ef4b2b" stroke="#000" stroke-width="0.65"/>
<circle cx="536.90" cy="196.73" r="2.55" fill="#ef4b2b" stroke="#000" stroke-width="0.65"/>
<circle cx="536.90" cy="203.97" r="2.55" fill="#ef4b2b" stroke="#000" stroke-width="0.65"/>
<circle cx="536.90" cy="206.78" r="2.55" fill="#ef4b2b" stroke="#000" stroke-width="0.65"/>
<circle cx="536.90" cy="209.58" r="2.55" fill="#ef4b2b" stroke="#000" stroke-width="0.65"/>
<circle cx="536.90" cy="214.01" r="2.55" fill="#ef4b2b" stroke="#000" stroke-width="0.65"/>
<circle cx="536.90" cy="218.44" r="2.55" fill="#ef4b2b" stroke="#000" stroke-width="0.65"/>
<circle cx="536.90" cy="221.25" r="2.55" fill="#ef4b2b" stroke="#000" stroke-width="0.65"/>
<circle cx="536.90" cy="224.94" r="2.55" fill="#ef4b2b" stroke="#000" stroke-width="0.65"/>
<circle cx="536.90" cy="234.98" r="2.55" fill="#ef4b2b" stroke="#000" stroke-width="0.65"/>
<circle cx="564.80" cy="158.64" r="2.55" fill="#ef4b2b" stroke="#000" stroke-width="0.65"/>
<circle cx="564.80" cy="176.80" r="2.55" fill="#ef4b2b" stroke="#000" stroke-width="0.65"/>
<circle cx="564.80" cy="182.85" r="2.55" fill="#ef4b2b" stroke="#000" stroke-width="0.65"/>
<circle cx="564.80" cy="203.97" r="2.55" fill="#ef4b2b" stroke="#000" stroke-width="0.65"/>
<circle cx="564.80" cy="205.00" r="2.55" fill="#ef4b2b" stroke="#000" stroke-width="0.65"/>
<circle cx="564.80" cy="207.81" r="2.55" fill="#ef4b2b" stroke="#000" stroke-width="0.65"/>
<circle cx="564.80" cy="214.01" r="2.55" fill="#ef4b2b" stroke="#000" stroke-width="0.65"/>
<circle cx="564.80" cy="215.04" r="2.55" fill="#ef4b2b" stroke="#000" stroke-width="0.65"/>
<circle cx="564.80" cy="221.25" r="2.55" fill="#ef4b2b" stroke="#000" stroke-width="0.65"/>
<circle cx="564.80" cy="224.05" r="2.55" fill="#ef4b2b" stroke="#000" stroke-width="0.65"/>
<circle cx="564.80" cy="234.98" r="2.55" fill="#ef4b2b" stroke="#000" stroke-width="0.65"/>
<circle cx="595.80" cy="166.82" r="2.55" fill="#ef4b2b" stroke="#000" stroke-width="0.65"/>
<circle cx="595.80" cy="176.30" r="2.55" fill="#ef4b2b" stroke="#000" stroke-width="0.65"/>
<circle cx="595.80" cy="191.89" r="2.55" fill="#ef4b2b" stroke="#000" stroke-width="0.65"/>
<circle cx="588.50" cy="197.03" r="2.55" fill="#ef4b2b" stroke="#000" stroke-width="0.65"/>
<circle cx="592.15" cy="198.36" r="2.55" fill="#ef4b2b" stroke="#000" stroke-width="0.65"/>
<circle cx="595.80" cy="198.80" r="2.55" fill="#ef4b2b" stroke="#000" stroke-width="0.65"/>
<circle cx="598.90" cy="198.36" r="2.55" fill="#ef4b2b" stroke="#000" stroke-width="0.65"/>
<circle cx="603.10" cy="197.74" r="2.55" fill="#ef4b2b" stroke="#000" stroke-width="0.65"/>
<circle cx="592.15" cy="202.79" r="2.55" fill="#ef4b2b" stroke="#000" stroke-width="0.65"/>
<circle cx="595.80" cy="202.34" r="2.55" fill="#ef4b2b" stroke="#000" stroke-width="0.65"/>
<circle cx="599.45" cy="202.70" r="2.55" fill="#ef4b2b" stroke="#000" stroke-width="0.65"/>
<circle cx="603.10" cy="201.46" r="2.55" fill="#ef4b2b" stroke="#000" stroke-width="0.65"/>
<circle cx="595.80" cy="208.28" r="2.55" fill="#ef4b2b" stroke="#000" stroke-width="0.65"/>
<circle cx="595.80" cy="228.48" r="2.55" fill="#ef4b2b" stroke="#000" stroke-width="0.65"/>
<circle cx="629.90" cy="201.02" r="2.55" fill="#c4ae94" stroke="#000" stroke-width="0.65"/>
<circle cx="625.30" cy="203.50" r="2.55" fill="#c4ae94" stroke="#000" stroke-width="0.65"/>
<circle cx="634.45" cy="203.50" r="2.55" fill="#c4ae94" stroke="#000" stroke-width="0.65"/>
<circle cx="619.90" cy="204.38" r="2.55" fill="#c4ae94" stroke="#000" stroke-width="0.65"/>
<circle cx="629.90" cy="204.74" r="2.55" fill="#c4ae94" stroke="#000" stroke-width="0.65"/>
<circle cx="625.30" cy="206.95" r="2.55" fill="#c4ae94" stroke="#000" stroke-width="0.65"/>
<circle cx="634.45" cy="206.78" r="2.55" fill="#c4ae94" stroke="#000" stroke-width="0.65"/>
<circle cx="629.90" cy="209.52" r="2.55" fill="#c4ae94" stroke="#000" stroke-width="0.65"/>
<circle cx="627.70" cy="212.62" r="2.55" fill="#c4ae94" stroke="#000" stroke-width="0.65"/>
<text x="550.00" y="147.61" font-size="9.2" text-anchor="middle" stroke="#231f20" stroke-width="0.16"><tspan font-style="italic">P</tspan> = 0.0067</text>
<polyline points="536.90,152.90 536.90,150.70 564.80,150.70 564.80,152.90" fill="none" stroke="#333" stroke-width="0.8"/>
<text x="608.00" y="147.61" font-size="9.2" text-anchor="middle" stroke="#231f20" stroke-width="0.16"><tspan font-style="italic">P</tspan> = 0.0101</text>
<polyline points="595.80,152.90 595.80,150.70 627.70,150.70 627.70,152.90" fill="none" stroke="#333" stroke-width="0.8"/>
<g stroke="#6d6e71" stroke-width="0.8" fill="none">
<line x1="307.30" y1="442.70" x2="307.30" y2="528.90"/>
<line x1="425.20" y1="442.70" x2="425.20" y2="528.90"/>
<line x1="307.30" y1="528.50" x2="363.80" y2="528.50"/>
<line x1="366.80" y1="528.50" x2="425.20" y2="528.50"/>
<line x1="303.50" y1="528.50" x2="307.30" y2="528.50"/>
<line x1="303.50" y1="511.42" x2="307.30" y2="511.42"/>
<line x1="303.50" y1="494.34" x2="307.30" y2="494.34"/>
<line x1="303.50" y1="477.26" x2="307.30" y2="477.26"/>
<line x1="303.50" y1="460.18" x2="307.30" y2="460.18"/>
<line x1="303.50" y1="443.10" x2="307.30" y2="443.10"/>
<line x1="425.20" y1="528.50" x2="429.00" y2="528.50"/>
<line x1="425.20" y1="507.15" x2="429.00" y2="507.15"/>
<line x1="425.20" y1="485.80" x2="429.00" y2="485.80"/>
<line x1="425.20" y1="464.45" x2="429.00" y2="464.45"/>
<line x1="425.20" y1="443.10" x2="429.00" y2="443.10"/>
<line x1="318.70" y1="528.50" x2="318.70" y2="532.30"/>
<line x1="346.60" y1="528.50" x2="346.60" y2="532.30"/>
<line x1="377.40" y1="528.50" x2="377.40" y2="532.30"/>
<line x1="409.00" y1="528.50" x2="409.00" y2="532.30"/>
</g>
<text x="299.70" y="531.67" font-size="10.2" text-anchor="end" stroke="#231f20" stroke-width="0.16" >0</text>
<text x="299.70" y="514.59" font-size="10.2" text-anchor="end" stroke="#231f20" stroke-width="0.16" >1</text>
<text x="299.70" y="497.51" font-size="10.2" text-anchor="end" stroke="#231f20" stroke-width="0.16" >2</text>
<text x="299.70" y="480.43" font-size="10.2" text-anchor="end" stroke="#231f20" stroke-width="0.16" >3</text>
<text x="299.70" y="463.35" font-size="10.2" text-anchor="end" stroke="#231f20" stroke-width="0.16" >4</text>
<text x="299.70" y="446.27" font-size="10.2" text-anchor="end" stroke="#231f20" stroke-width="0.16" >5</text>
<text x="432.60" y="531.67" font-size="10.2" text-anchor="start" stroke="#231f20" stroke-width="0.16" >−100</text>
<text x="432.60" y="510.32" font-size="10.2" text-anchor="start" stroke="#231f20" stroke-width="0.16" >0</text>
<text x="432.60" y="488.97" font-size="10.2" text-anchor="start" stroke="#231f20" stroke-width="0.16" >100</text>
<text x="432.60" y="467.62" font-size="10.2" text-anchor="start" stroke="#231f20" stroke-width="0.16" >200</text>
<text x="432.60" y="446.27" font-size="10.2" text-anchor="start" stroke="#231f20" stroke-width="0.16" >300</text>
<text x="318.70" y="545.19" font-size="9.7" text-anchor="middle" stroke="#231f20" stroke-width="0.16" >Ctrl</text>
<text x="346.60" y="545.19" font-size="9.7" text-anchor="middle" stroke="#231f20" stroke-width="0.16" >TGOT</text>
<text x="377.40" y="545.19" font-size="9.7" text-anchor="middle" stroke="#231f20" stroke-width="0.16"  textLength="27.6" lengthAdjust="spacingAndGlyphs">ΔTGOT</text>
<text x="414.00" y="545.19" font-size="9.7" text-anchor="middle" stroke="#231f20" stroke-width="0.16"  textLength="35.4" lengthAdjust="spacingAndGlyphs">ΔVehicle</text>
<text x="0" y="3.92" font-size="10.9" text-anchor="middle" transform="translate(282.00,486.00) rotate(-90)" stroke="#231f20" stroke-width="0.16" >RespHRV (bpm)</text>
<text x="0" y="3.78" font-size="10.5" text-anchor="middle" transform="translate(463.20,484.60) rotate(90)" stroke="#231f20" stroke-width="0.16" >Δ RespHRV (%)</text>
<line x1="366.80" y1="507.15" x2="425.20" y2="507.15" stroke="#555" stroke-width="0.6" stroke-dasharray="1.6,1.2"/>
<line x1="318.70" y1="485.29" x2="346.60" y2="480.68" stroke="#000" stroke-width="0.85" />
<line x1="318.70" y1="489.39" x2="346.60" y2="458.47" stroke="#000" stroke-width="0.85" />
<line x1="318.70" y1="493.49" x2="346.60" y2="448.74" stroke="#000" stroke-width="0.85" />
<line x1="318.70" y1="495.19" x2="346.60" y2="470.60" stroke="#000" stroke-width="0.85" />
<line x1="318.70" y1="497.93" x2="346.60" y2="452.66" stroke="#000" stroke-width="0.85" />
<line x1="318.70" y1="500.66" x2="346.60" y2="465.13" stroke="#000" stroke-width="0.85" />
<line x1="318.70" y1="504.25" x2="346.60" y2="487.85" stroke="#000" stroke-width="0.85" />
<line x1="318.70" y1="508.00" x2="346.60" y2="473.33" stroke="#000" stroke-width="0.85" />
<line x1="318.70" y1="510.74" x2="346.60" y2="492.97" stroke="#000" stroke-width="0.85" />
<line x1="318.70" y1="512.62" x2="346.60" y2="485.29" stroke="#000" stroke-width="0.85" />
<line x1="318.70" y1="518.94" x2="346.60" y2="511.59" stroke="#000" stroke-width="0.85" />
<line x1="318.70" y1="524.06" x2="346.60" y2="513.13" stroke="#000" stroke-width="0.85" />
<line x1="318.70" y1="496.90" x2="346.60" y2="495.19" stroke="#000" stroke-width="0.85" />
<line x1="318.70" y1="502.88" x2="346.60" y2="498.95" stroke="#000" stroke-width="0.85" />
<line x1="318.70" y1="515.69" x2="346.60" y2="503.39" stroke="#000" stroke-width="0.85" />
<path d="M379.40,451.00 C380.80,453.35 378.93,453.56 379.60,458.05 C380.27,462.53 381.30,459.47 381.40,464.45 C381.50,469.43 379.57,467.30 379.90,472.99 C380.23,478.68 380.23,477.05 382.40,481.53 C384.57,486.01 386.07,482.88 386.40,486.44 C386.73,490.00 384.73,488.15 383.40,492.21 C382.07,496.26 381.90,494.34 382.40,498.61 C382.90,502.88 385.23,502.10 384.90,505.01 C384.57,507.93 385.23,506.58 381.40,507.36 C377.57,508.15 377.23,508.15 373.40,507.36 C369.57,506.58 370.23,507.93 369.90,505.01 C369.57,502.10 371.90,502.88 372.40,498.61 C372.90,494.34 372.73,496.26 371.40,492.21 C370.07,488.15 368.07,490.00 368.40,486.44 C368.73,482.88 370.23,486.01 372.40,481.53 C374.57,477.05 374.57,478.68 374.90,472.99 C375.23,467.30 373.30,469.43 373.40,464.45 C373.50,459.47 374.53,462.53 375.20,458.05 C375.87,453.56 374.00,453.35 375.40,451.00 C376.80,448.65 378.00,448.65 379.40,451.00 Z" fill="#fff" stroke="#000" stroke-width="0.7"/>
<path d="M413.00,500.10 C417.00,501.03 415.83,500.53 417.00,502.88 C418.17,505.23 417.17,504.30 416.50,507.15 C415.83,510.00 416.17,508.57 415.00,511.42 C413.83,514.27 414.73,513.34 413.00,515.69 C411.27,518.04 411.40,517.54 409.80,518.47 C408.20,519.39 409.80,519.39 408.20,518.47 C406.60,517.54 406.73,518.04 405.00,515.69 C403.27,513.34 404.17,514.27 403.00,511.42 C401.83,508.57 402.17,510.00 401.50,507.15 C400.83,504.30 399.83,505.23 401.00,502.88 C402.17,500.53 401.00,501.03 405.00,500.10 C409.00,499.18 409.00,499.18 413.00,500.10 Z" fill="#fff" stroke="#000" stroke-width="0.7"/>
<circle cx="318.70" cy="485.29" r="2.55" fill="#ef4b2b" stroke="#000" stroke-width="0.65"/>
<circle cx="318.70" cy="489.39" r="2.55" fill="#ef4b2b" stroke="#000" stroke-width="0.65"/>
<circle cx="318.70" cy="493.49" r="2.55" fill="#ef4b2b" stroke="#000" stroke-width="0.65"/>
<circle cx="318.70" cy="495.19" r="2.55" fill="#ef4b2b" stroke="#000" stroke-width="0.65"/>
<circle cx="318.70" cy="497.93" r="2.55" fill="#ef4b2b" stroke="#000" stroke-width="0.65"/>
<circle cx="318.70" cy="500.66" r="2.55" fill="#ef4b2b" stroke="#000" stroke-width="0.65"/>
<circle cx="318.70" cy="504.25" r="2.55" fill="#ef4b2b" stroke="#000" stroke-width="0.65"/>
<circle cx="318.70" cy="508.00" r="2.55" fill="#ef4b2b" stroke="#000" stroke-width="0.65"/>
<circle cx="318.70" cy="510.74" r="2.55" fill="#ef4b2b" stroke="#000" stroke-width="0.65"/>
<circle cx="318.70" cy="512.62" r="2.55" fill="#ef4b2b" stroke="#000" stroke-width="0.65"/>
<circle cx="318.70" cy="518.94" r="2.55" fill="#ef4b2b" stroke="#000" stroke-width="0.65"/>
<circle cx="318.70" cy="524.06" r="2.55" fill="#ef4b2b" stroke="#000" stroke-width="0.65"/>
<circle cx="318.70" cy="496.90" r="2.55" fill="#ef4b2b" stroke="#000" stroke-width="0.65"/>
<circle cx="318.70" cy="502.88" r="2.55" fill="#ef4b2b" stroke="#000" stroke-width="0.65"/>
<circle cx="318.70" cy="515.69" r="2.55" fill="#ef4b2b" stroke="#000" stroke-width="0.65"/>
<circle cx="346.60" cy="448.74" r="2.55" fill="#ef4b2b" stroke="#000" stroke-width="0.65"/>
<circle cx="346.60" cy="452.66" r="2.55" fill="#ef4b2b" stroke="#000" stroke-width="0.65"/>
<circle cx="346.60" cy="458.47" r="2.55" fill="#ef4b2b" stroke="#000" stroke-width="0.65"/>
<circle cx="346.60" cy="465.13" r="2.55" fill="#ef4b2b" stroke="#000" stroke-width="0.65"/>
<circle cx="346.60" cy="470.60" r="2.55" fill="#ef4b2b" stroke="#000" stroke-width="0.65"/>
<circle cx="346.60" cy="473.33" r="2.55" fill="#ef4b2b" stroke="#000" stroke-width="0.65"/>
<circle cx="346.60" cy="480.68" r="2.55" fill="#ef4b2b" stroke="#000" stroke-width="0.65"/>
<circle cx="346.60" cy="485.29" r="2.55" fill="#ef4b2b" stroke="#000" stroke-width="0.65"/>
<circle cx="346.60" cy="487.85" r="2.55" fill="#ef4b2b" stroke="#000" stroke-width="0.65"/>
<circle cx="346.60" cy="492.97" r="2.55" fill="#ef4b2b" stroke="#000" stroke-width="0.65"/>
<circle cx="346.60" cy="495.19" r="2.55" fill="#ef4b2b" stroke="#000" stroke-width="0.65"/>
<circle cx="346.60" cy="498.95" r="2.55" fill="#ef4b2b" stroke="#000" stroke-width="0.65"/>
<circle cx="346.60" cy="503.39" r="2.55" fill="#ef4b2b" stroke="#000" stroke-width="0.65"/>
<circle cx="346.60" cy="511.59" r="2.55" fill="#ef4b2b" stroke="#000" stroke-width="0.65"/>
<circle cx="346.60" cy="513.13" r="2.55" fill="#ef4b2b" stroke="#000" stroke-width="0.65"/>
<circle cx="377.40" cy="451.85" r="2.55" fill="#ef4b2b" stroke="#000" stroke-width="0.65"/>
<circle cx="375.20" cy="464.66" r="2.55" fill="#ef4b2b" stroke="#000" stroke-width="0.65"/>
<circle cx="378.90" cy="463.38" r="2.55" fill="#ef4b2b" stroke="#000" stroke-width="0.65"/>
<circle cx="377.40" cy="468.29" r="2.55" fill="#ef4b2b" stroke="#000" stroke-width="0.65"/>
<circle cx="377.40" cy="478.75" r="2.55" fill="#ef4b2b" stroke="#000" stroke-width="0.65"/>
<circle cx="369.70" cy="486.44" r="2.55" fill="#ef4b2b" stroke="#000" stroke-width="0.65"/>
<circle cx="375.20" cy="487.08" r="2.55" fill="#ef4b2b" stroke="#000" stroke-width="0.65"/>
<circle cx="379.80" cy="487.29" r="2.55" fill="#ef4b2b" stroke="#000" stroke-width="0.65"/>
<circle cx="383.10" cy="487.08" r="2.55" fill="#ef4b2b" stroke="#000" stroke-width="0.65"/>
<circle cx="385.20" cy="486.44" r="2.55" fill="#ef4b2b" stroke="#000" stroke-width="0.65"/>
<circle cx="375.20" cy="494.34" r="2.55" fill="#ef4b2b" stroke="#000" stroke-width="0.65"/>
<circle cx="378.90" cy="494.34" r="2.55" fill="#ef4b2b" stroke="#000" stroke-width="0.65"/>
<circle cx="382.50" cy="493.91" r="2.55" fill="#ef4b2b" stroke="#000" stroke-width="0.65"/>
<circle cx="374.30" cy="506.08" r="2.55" fill="#ef4b2b" stroke="#000" stroke-width="0.65"/>
<circle cx="377.40" cy="504.59" r="2.55" fill="#ef4b2b" stroke="#000" stroke-width="0.65"/>
<circle cx="380.70" cy="505.87" r="2.55" fill="#ef4b2b" stroke="#000" stroke-width="0.65"/>
<circle cx="404.40" cy="502.45" r="2.55" fill="#c4ae94" stroke="#000" stroke-width="0.65"/>
<circle cx="412.30" cy="501.39" r="2.55" fill="#c4ae94" stroke="#000" stroke-width="0.65"/>
<circle cx="406.30" cy="505.23" r="2.55" fill="#c4ae94" stroke="#000" stroke-width="0.65"/>
<circle cx="411.70" cy="505.01" r="2.55" fill="#c4ae94" stroke="#000" stroke-width="0.65"/>
<circle cx="406.30" cy="511.21" r="2.55" fill="#c4ae94" stroke="#000" stroke-width="0.65"/>
<circle cx="411.70" cy="510.99" r="2.55" fill="#c4ae94" stroke="#000" stroke-width="0.65"/>
<circle cx="409.00" cy="517.40" r="2.55" fill="#c4ae94" stroke="#000" stroke-width="0.65"/>
<circle cx="409.00" cy="513.55" r="2.55" fill="#c4ae94" stroke="#000" stroke-width="0.65"/>
<text x="332.00" y="440.41" font-size="9.2" text-anchor="middle" stroke="#231f20" stroke-width="0.16"><tspan font-style="italic">P</tspan> &lt; 0.0001</text>
<polyline points="318.70,445.70 318.70,443.50 346.60,443.50 346.60,445.70" fill="none" stroke="#333" stroke-width="0.8"/>
<text x="393.00" y="440.41" font-size="9.2" text-anchor="middle" stroke="#231f20" stroke-width="0.16"><tspan font-style="italic">P</tspan> = 0.0003</text>
<polyline points="377.40,445.70 377.40,443.50 409.00,443.50 409.00,445.70" fill="none" stroke="#333" stroke-width="0.8"/>
<g stroke="#6d6e71" stroke-width="0.8" fill="none">
<line x1="525.50" y1="442.90" x2="525.50" y2="529.00"/>
<line x1="642.90" y1="442.90" x2="642.90" y2="529.00"/>
<line x1="525.50" y1="528.60" x2="582.00" y2="528.60"/>
<line x1="585.00" y1="528.60" x2="642.90" y2="528.60"/>
<line x1="521.70" y1="528.60" x2="525.50" y2="528.60"/>
<line x1="521.70" y1="507.28" x2="525.50" y2="507.28"/>
<line x1="521.70" y1="485.95" x2="525.50" y2="485.95"/>
<line x1="521.70" y1="464.62" x2="525.50" y2="464.62"/>
<line x1="521.70" y1="443.30" x2="525.50" y2="443.30"/>
<line x1="642.90" y1="528.60" x2="646.70" y2="528.60"/>
<line x1="642.90" y1="514.38" x2="646.70" y2="514.38"/>
<line x1="642.90" y1="500.17" x2="646.70" y2="500.17"/>
<line x1="642.90" y1="485.95" x2="646.70" y2="485.95"/>
<line x1="642.90" y1="471.73" x2="646.70" y2="471.73"/>
<line x1="642.90" y1="457.52" x2="646.70" y2="457.52"/>
<line x1="642.90" y1="443.30" x2="646.70" y2="443.30"/>
<line x1="535.90" y1="528.60" x2="535.90" y2="532.40"/>
<line x1="563.30" y1="528.60" x2="563.30" y2="532.40"/>
<line x1="598.00" y1="528.60" x2="598.00" y2="532.40"/>
<line x1="629.40" y1="528.60" x2="629.40" y2="532.40"/>
</g>
<text x="517.90" y="531.77" font-size="10.2" text-anchor="end" stroke="#231f20" stroke-width="0.16" >0</text>
<text x="517.90" y="510.45" font-size="10.2" text-anchor="end" stroke="#231f20" stroke-width="0.16" >100</text>
<text x="517.90" y="489.12" font-size="10.2" text-anchor="end" stroke="#231f20" stroke-width="0.16" >200</text>
<text x="517.90" y="467.80" font-size="10.2" text-anchor="end" stroke="#231f20" stroke-width="0.16" >300</text>
<text x="517.90" y="446.47" font-size="10.2" text-anchor="end" stroke="#231f20" stroke-width="0.16" >400</text>
<text x="650.30" y="531.77" font-size="10.2" text-anchor="start" stroke="#231f20" stroke-width="0.16" >−30</text>
<text x="650.30" y="517.56" font-size="10.2" text-anchor="start" stroke="#231f20" stroke-width="0.16" >−20</text>
<text x="650.30" y="503.34" font-size="10.2" text-anchor="start" stroke="#231f20" stroke-width="0.16" >−10</text>
<text x="650.30" y="489.12" font-size="10.2" text-anchor="start" stroke="#231f20" stroke-width="0.16" >0</text>
<text x="650.30" y="474.91" font-size="10.2" text-anchor="start" stroke="#231f20" stroke-width="0.16" >10</text>
<text x="650.30" y="460.69" font-size="10.2" text-anchor="start" stroke="#231f20" stroke-width="0.16" >20</text>
<text x="650.30" y="446.47" font-size="10.2" text-anchor="start" stroke="#231f20" stroke-width="0.16" >30</text>
<text x="535.90" y="545.29" font-size="9.7" text-anchor="middle" stroke="#231f20" stroke-width="0.16" >Ctrl</text>
<text x="563.30" y="545.29" font-size="9.7" text-anchor="middle" stroke="#231f20" stroke-width="0.16" >TGOT</text>
<text x="598.00" y="545.29" font-size="9.7" text-anchor="middle" stroke="#231f20" stroke-width="0.16"  textLength="27.6" lengthAdjust="spacingAndGlyphs">ΔTGOT</text>
<text x="634.40" y="545.29" font-size="9.7" text-anchor="middle" stroke="#231f20" stroke-width="0.16"  textLength="35.4" lengthAdjust="spacingAndGlyphs">ΔVehicle</text>
<text x="0" y="3.92" font-size="10.9" text-anchor="middle" transform="translate(486.60,485.80) rotate(-90)" stroke="#231f20" stroke-width="0.16" >mHR (bpm)</text>
<text x="0" y="3.78" font-size="10.5" text-anchor="middle" transform="translate(681.70,485.80) rotate(90)" stroke="#231f20" stroke-width="0.16" >Δ mHR (bpm)</text>
<line x1="585.00" y1="485.95" x2="642.90" y2="485.95" stroke="#555" stroke-width="0.6" stroke-dasharray="1.6,1.2"/>
<line x1="535.90" y1="447.35" x2="563.30" y2="446.71" stroke="#000" stroke-width="0.85" />
<line x1="535.90" y1="449.27" x2="563.30" y2="445.01" stroke="#000" stroke-width="0.85" />
<line x1="535.90" y1="450.76" x2="563.30" y2="450.55" stroke="#000" stroke-width="0.85" />
<line x1="535.90" y1="452.26" x2="563.30" y2="448.63" stroke="#000" stroke-width="0.85" />
<line x1="535.90" y1="453.75" x2="563.30" y2="453.75" stroke="#000" stroke-width="0.85" />
<line x1="535.90" y1="455.46" x2="563.30" y2="452.26" stroke="#000" stroke-width="0.85" />
<line x1="535.90" y1="456.95" x2="563.30" y2="456.95" stroke="#000" stroke-width="0.85" />
<line x1="535.90" y1="458.44" x2="563.30" y2="455.24" stroke="#000" stroke-width="0.85" />
<line x1="535.90" y1="460.36" x2="563.30" y2="460.79" stroke="#000" stroke-width="0.85" />
<line x1="535.90" y1="462.07" x2="563.30" y2="459.08" stroke="#000" stroke-width="0.85" />
<line x1="535.90" y1="463.77" x2="563.30" y2="462.49" stroke="#000" stroke-width="0.85" />
<line x1="535.90" y1="465.69" x2="563.30" y2="465.69" stroke="#000" stroke-width="0.85" />
<line x1="535.90" y1="467.18" x2="563.30" y2="463.77" stroke="#000" stroke-width="0.85" />
<line x1="535.90" y1="468.89" x2="563.30" y2="468.46" stroke="#000" stroke-width="0.85" />
<path d="M602.00,471.73 C606.00,473.63 604.00,473.63 606.00,477.42 C608.00,481.21 607.67,479.32 608.00,483.11 C608.33,486.90 608.33,485.00 607.00,488.79 C605.67,492.58 605.33,490.69 604.00,494.48 C602.67,498.27 604.00,496.85 603.00,500.17 C602.00,503.48 602.50,501.11 601.00,504.43 C599.50,507.75 599.67,508.22 598.50,510.12 C597.33,512.01 598.67,512.01 597.50,510.12 C596.33,508.22 596.50,507.75 595.00,504.43 C593.50,501.11 594.00,503.48 593.00,500.17 C592.00,496.85 593.33,498.27 592.00,494.48 C590.67,490.69 590.33,492.58 589.00,488.79 C587.67,485.00 587.67,486.90 588.00,483.11 C588.33,479.32 588.00,481.21 590.00,477.42 C592.00,473.63 590.00,473.63 594.00,471.73 C598.00,469.84 598.00,469.84 602.00,471.73 Z" fill="#fff" stroke="#000" stroke-width="0.7"/>
<path d="M633.90,451.12 C636.90,454.20 634.23,454.44 633.90,460.36 C633.57,466.28 632.90,463.20 632.90,468.89 C632.90,474.58 632.57,471.73 633.90,477.42 C635.23,483.11 635.73,480.74 636.90,485.95 C638.07,491.16 638.23,488.32 637.40,493.06 C636.57,497.80 636.73,496.94 634.40,500.17 C632.07,503.39 632.40,501.87 630.40,502.73 C628.40,503.58 630.40,503.58 628.40,502.73 C626.40,501.87 626.73,503.39 624.40,500.17 C622.07,496.94 622.23,497.80 621.40,493.06 C620.57,488.32 620.73,491.16 621.90,485.95 C623.07,480.74 623.57,483.11 624.90,477.42 C626.23,471.73 625.90,474.58 625.90,468.89 C625.90,463.20 625.23,466.28 624.90,460.36 C624.57,454.44 621.90,454.20 624.90,451.12 C627.90,448.04 630.90,448.04 633.90,451.12 Z" fill="#fff" stroke="#000" stroke-width="0.7"/>
<line x1="623.90" y1="491.64" x2="634.90" y2="491.64" stroke="#555" stroke-width="0.5" stroke-dasharray="1.5,1"/>
<circle cx="535.90" cy="447.35" r="2.55" fill="#ef4b2b" stroke="#000" stroke-width="0.65"/>
<circle cx="535.90" cy="449.27" r="2.55" fill="#ef4b2b" stroke="#000" stroke-width="0.65"/>
<circle cx="535.90" cy="450.76" r="2.55" fill="#ef4b2b" stroke="#000" stroke-width="0.65"/>
<circle cx="535.90" cy="452.26" r="2.55" fill="#ef4b2b" stroke="#000" stroke-width="0.65"/>
<circle cx="535.90" cy="453.75" r="2.55" fill="#ef4b2b" stroke="#000" stroke-width="0.65"/>
<circle cx="535.90" cy="455.46" r="2.55" fill="#ef4b2b" stroke="#000" stroke-width="0.65"/>
<circle cx="535.90" cy="456.95" r="2.55" fill="#ef4b2b" stroke="#000" stroke-width="0.65"/>
<circle cx="535.90" cy="458.44" r="2.55" fill="#ef4b2b" stroke="#000" stroke-width="0.65"/>
<circle cx="535.90" cy="460.36" r="2.55" fill="#ef4b2b" stroke="#000" stroke-width="0.65"/>
<circle cx="535.90" cy="462.07" r="2.55" fill="#ef4b2b" stroke="#000" stroke-width="0.65"/>
<circle cx="535.90" cy="463.77" r="2.55" fill="#ef4b2b" stroke="#000" stroke-width="0.65"/>
<circle cx="535.90" cy="465.69" r="2.55" fill="#ef4b2b" stroke="#000" stroke-width="0.65"/>
<circle cx="535.90" cy="467.18" r="2.55" fill="#ef4b2b" stroke="#000" stroke-width="0.65"/>
<circle cx="535.90" cy="468.89" r="2.55" fill="#ef4b2b" stroke="#000" stroke-width="0.65"/>
<circle cx="563.30" cy="445.01" r="2.55" fill="#ef4b2b" stroke="#000" stroke-width="0.65"/>
<circle cx="563.30" cy="446.71" r="2.55" fill="#ef4b2b" stroke="#000" stroke-width="0.65"/>
<circle cx="563.30" cy="448.63" r="2.55" fill="#ef4b2b" stroke="#000" stroke-width="0.65"/>
<circle cx="563.30" cy="450.55" r="2.55" fill="#ef4b2b" stroke="#000" stroke-width="0.65"/>
<circle cx="563.30" cy="452.26" r="2.55" fill="#ef4b2b" stroke="#000" stroke-width="0.65"/>
<circle cx="563.30" cy="453.75" r="2.55" fill="#ef4b2b" stroke="#000" stroke-width="0.65"/>
<circle cx="563.30" cy="455.24" r="2.55" fill="#ef4b2b" stroke="#000" stroke-width="0.65"/>
<circle cx="563.30" cy="456.95" r="2.55" fill="#ef4b2b" stroke="#000" stroke-width="0.65"/>
<circle cx="563.30" cy="459.08" r="2.55" fill="#ef4b2b" stroke="#000" stroke-width="0.65"/>
<circle cx="563.30" cy="460.79" r="2.55" fill="#ef4b2b" stroke="#000" stroke-width="0.65"/>
<circle cx="563.30" cy="462.49" r="2.55" fill="#ef4b2b" stroke="#000" stroke-width="0.65"/>
<circle cx="563.30" cy="463.77" r="2.55" fill="#ef4b2b" stroke="#000" stroke-width="0.65"/>
<circle cx="563.30" cy="465.69" r="2.55" fill="#ef4b2b" stroke="#000" stroke-width="0.65"/>
<circle cx="563.30" cy="468.46" r="2.55" fill="#ef4b2b" stroke="#000" stroke-width="0.65"/>
<circle cx="595.80" cy="473.72" r="2.55" fill="#ef4b2b" stroke="#000" stroke-width="0.65"/>
<circle cx="600.20" cy="475.43" r="2.55" fill="#ef4b2b" stroke="#000" stroke-width="0.65"/>
<circle cx="595.80" cy="478.42" r="2.55" fill="#ef4b2b" stroke="#000" stroke-width="0.65"/>
<circle cx="604.90" cy="480.55" r="2.55" fill="#ef4b2b" stroke="#000" stroke-width="0.65"/>
<circle cx="591.10" cy="482.11" r="2.55" fill="#ef4b2b" stroke="#000" stroke-width="0.65"/>
<circle cx="604.90" cy="483.39" r="2.55" fill="#ef4b2b" stroke="#000" stroke-width="0.65"/>
<circle cx="591.10" cy="486.09" r="2.55" fill="#ef4b2b" stroke="#000" stroke-width="0.65"/>
<circle cx="595.80" cy="484.24" r="2.55" fill="#ef4b2b" stroke="#000" stroke-width="0.65"/>
<circle cx="600.20" cy="484.53" r="2.55" fill="#ef4b2b" stroke="#000" stroke-width="0.65"/>
<circle cx="591.10" cy="489.36" r="2.55" fill="#ef4b2b" stroke="#000" stroke-width="0.65"/>
<circle cx="595.80" cy="489.36" r="2.55" fill="#ef4b2b" stroke="#000" stroke-width="0.65"/>
<circle cx="600.20" cy="488.65" r="2.55" fill="#ef4b2b" stroke="#000" stroke-width="0.65"/>
<circle cx="591.10" cy="494.91" r="2.55" fill="#ef4b2b" stroke="#000" stroke-width="0.65"/>
<circle cx="595.80" cy="498.03" r="2.55" fill="#ef4b2b" stroke="#000" stroke-width="0.65"/>
<circle cx="600.20" cy="498.03" r="2.55" fill="#ef4b2b" stroke="#000" stroke-width="0.65"/>
<circle cx="595.80" cy="501.59" r="2.55" fill="#ef4b2b" stroke="#000" stroke-width="0.65"/>
<circle cx="600.20" cy="501.87" r="2.55" fill="#ef4b2b" stroke="#000" stroke-width="0.65"/>
<circle cx="598.00" cy="508.98" r="2.55" fill="#ef4b2b" stroke="#000" stroke-width="0.65"/>
<circle cx="629.40" cy="454.67" r="2.55" fill="#c4ae94" stroke="#000" stroke-width="0.65"/>
<circle cx="629.40" cy="462.49" r="2.55" fill="#c4ae94" stroke="#000" stroke-width="0.65"/>
<circle cx="629.40" cy="472.87" r="2.55" fill="#c4ae94" stroke="#000" stroke-width="0.65"/>
<circle cx="624.50" cy="485.67" r="2.55" fill="#c4ae94" stroke="#000" stroke-width="0.65"/>
<circle cx="629.40" cy="485.24" r="2.55" fill="#c4ae94" stroke="#000" stroke-width="0.65"/>
<circle cx="634.50" cy="485.67" r="2.55" fill="#c4ae94" stroke="#000" stroke-width="0.65"/>
<circle cx="629.40" cy="495.19" r="2.55" fill="#c4ae94" stroke="#000" stroke-width="0.65"/>
<circle cx="629.40" cy="499.88" r="2.55" fill="#c4ae94" stroke="#000" stroke-width="0.65"/>
<text x="614.00" y="445.21" font-size="9.2" text-anchor="middle" stroke="#231f20" stroke-width="0.16">(<tspan font-style="italic">P</tspan> = 0.0986)</text>
<polyline points="598.00,450.60 598.00,448.40 629.40,448.40 629.40,450.60" fill="none" stroke="#333" stroke-width="0.8"/>
<g stroke="#6d6e71" stroke-width="0.8" fill="none">
<line x1="301.50" y1="560.90" x2="301.50" y2="647.10"/>
<line x1="419.50" y1="560.90" x2="419.50" y2="647.10"/>
<line x1="301.50" y1="646.70" x2="358.00" y2="646.70"/>
<line x1="361.00" y1="646.70" x2="419.50" y2="646.70"/>
<line x1="297.70" y1="646.70" x2="301.50" y2="646.70"/>
<line x1="297.70" y1="629.62" x2="301.50" y2="629.62"/>
<line x1="297.70" y1="612.54" x2="301.50" y2="612.54"/>
<line x1="297.70" y1="595.46" x2="301.50" y2="595.46"/>
<line x1="297.70" y1="578.38" x2="301.50" y2="578.38"/>
<line x1="297.70" y1="561.30" x2="301.50" y2="561.30"/>
<line x1="419.50" y1="646.70" x2="423.30" y2="646.70"/>
<line x1="419.50" y1="625.35" x2="423.30" y2="625.35"/>
<line x1="419.50" y1="604.00" x2="423.30" y2="604.00"/>
<line x1="419.50" y1="582.65" x2="423.30" y2="582.65"/>
<line x1="419.50" y1="561.30" x2="423.30" y2="561.30"/>
<line x1="313.10" y1="646.70" x2="313.10" y2="650.50"/>
<line x1="340.90" y1="646.70" x2="340.90" y2="650.50"/>
<line x1="372.20" y1="646.70" x2="372.20" y2="650.50"/>
<line x1="403.70" y1="646.70" x2="403.70" y2="650.50"/>
</g>
<text x="293.90" y="649.87" font-size="10.2" text-anchor="end" stroke="#231f20" stroke-width="0.16" >0</text>
<text x="293.90" y="632.79" font-size="10.2" text-anchor="end" stroke="#231f20" stroke-width="0.16" >10</text>
<text x="293.90" y="615.71" font-size="10.2" text-anchor="end" stroke="#231f20" stroke-width="0.16" >20</text>
<text x="293.90" y="598.63" font-size="10.2" text-anchor="end" stroke="#231f20" stroke-width="0.16" >30</text>
<text x="293.90" y="581.55" font-size="10.2" text-anchor="end" stroke="#231f20" stroke-width="0.16" >40</text>
<text x="293.90" y="564.47" font-size="10.2" text-anchor="end" stroke="#231f20" stroke-width="0.16" >50</text>
<text x="426.90" y="649.87" font-size="10.2" text-anchor="start" stroke="#231f20" stroke-width="0.16" >−40</text>
<text x="426.90" y="628.52" font-size="10.2" text-anchor="start" stroke="#231f20" stroke-width="0.16" >−20</text>
<text x="426.90" y="607.17" font-size="10.2" text-anchor="start" stroke="#231f20" stroke-width="0.16" >0</text>
<text x="426.90" y="585.82" font-size="10.2" text-anchor="start" stroke="#231f20" stroke-width="0.16" >20</text>
<text x="426.90" y="564.47" font-size="10.2" text-anchor="start" stroke="#231f20" stroke-width="0.16" >40</text>
<text x="313.10" y="663.39" font-size="9.7" text-anchor="middle" stroke="#231f20" stroke-width="0.16" >Ctrl</text>
<text x="340.90" y="663.39" font-size="9.7" text-anchor="middle" stroke="#231f20" stroke-width="0.16" >TGOT</text>
<text x="372.20" y="663.39" font-size="9.7" text-anchor="middle" stroke="#231f20" stroke-width="0.16"  textLength="27.6" lengthAdjust="spacingAndGlyphs">ΔTGOT</text>
<text x="408.70" y="663.39" font-size="9.7" text-anchor="middle" stroke="#231f20" stroke-width="0.16"  textLength="35.4" lengthAdjust="spacingAndGlyphs">ΔVehicle</text>
<text x="0" y="3.92" font-size="10.9" text-anchor="middle" transform="translate(269.20,603.90) rotate(-90)" stroke="#231f20" stroke-width="0.16" >PNA frequency (cpm)</text>
<text x="0" y="3.78" font-size="10.5" text-anchor="middle" transform="translate(459.90,603.70) rotate(90)" stroke="#231f20" stroke-width="0.16" >Δ PNA frequency (%)</text>
<line x1="361.00" y1="604.00" x2="419.50" y2="604.00" stroke="#555" stroke-width="0.6" stroke-dasharray="1.6,1.2"/>
<line x1="313.10" y1="578.72" x2="340.90" y2="574.96" stroke="#000" stroke-width="0.85" />
<line x1="313.10" y1="590.34" x2="340.90" y2="586.75" stroke="#000" stroke-width="0.85" />
<line x1="313.10" y1="591.87" x2="340.90" y2="578.89" stroke="#000" stroke-width="0.85" />
<line x1="313.10" y1="595.63" x2="340.90" y2="589.48" stroke="#000" stroke-width="0.85" />
<line x1="313.10" y1="601.61" x2="340.90" y2="599.39" stroke="#000" stroke-width="0.85" />
<line x1="313.10" y1="604.34" x2="340.90" y2="591.53" stroke="#000" stroke-width="0.85" />
<line x1="313.10" y1="605.54" x2="340.90" y2="612.54" stroke="#000" stroke-width="0.85" />
<line x1="313.10" y1="613.56" x2="340.90" y2="601.27" stroke="#000" stroke-width="0.85" />
<line x1="313.10" y1="618.18" x2="340.90" y2="604.00" stroke="#000" stroke-width="0.85" />
<line x1="313.10" y1="621.93" x2="340.90" y2="618.86" stroke="#000" stroke-width="0.85" />
<line x1="313.10" y1="623.98" x2="340.90" y2="622.96" stroke="#000" stroke-width="0.85" />
<line x1="313.10" y1="625.86" x2="340.90" y2="620.91" stroke="#000" stroke-width="0.85" />
<line x1="313.10" y1="627.91" x2="340.90" y2="624.15" stroke="#000" stroke-width="0.85" />
<path d="M374.20,563.43 C376.37,566.28 376.03,565.57 376.70,571.97 C377.37,578.38 374.70,576.25 376.20,582.65 C377.70,589.05 380.20,585.85 381.20,591.19 C382.20,596.53 381.03,594.39 379.20,598.66 C377.37,602.93 377.70,598.66 375.70,604.00 C373.70,609.34 374.17,605.78 373.20,614.67 C372.23,623.57 372.97,620.90 372.80,630.69 C372.63,640.47 373.07,639.58 372.70,644.03 C372.33,648.48 372.07,648.48 371.70,644.03 C371.33,639.58 371.77,640.47 371.60,630.69 C371.43,620.90 372.17,623.57 371.20,614.67 C370.23,605.78 370.70,609.34 368.70,604.00 C366.70,598.66 367.03,602.93 365.20,598.66 C363.37,594.39 362.20,596.53 363.20,591.19 C364.20,585.85 366.70,589.05 368.20,582.65 C369.70,576.25 367.03,578.38 367.70,571.97 C368.37,565.57 368.03,566.28 370.20,563.43 C372.37,560.59 372.03,560.59 374.20,563.43 Z" fill="#fff" stroke="#000" stroke-width="0.7"/>
<path d="M407.70,565.04 C410.70,567.35 408.70,567.53 408.70,571.97 C408.70,576.42 408.20,574.11 407.70,578.38 C407.20,582.65 406.53,579.80 407.20,584.78 C407.87,589.77 407.87,588.34 409.70,593.33 C411.53,598.31 412.03,595.46 412.70,599.73 C413.37,604.00 413.03,601.87 411.70,606.13 C410.37,610.40 411.03,609.16 408.70,612.54 C406.37,615.92 406.70,615.03 404.70,616.28 C402.70,617.52 404.70,617.52 402.70,616.28 C400.70,615.03 401.03,615.92 398.70,612.54 C396.37,609.16 397.03,610.40 395.70,606.13 C394.37,601.87 394.03,604.00 394.70,599.73 C395.37,595.46 395.87,598.31 397.70,593.33 C399.53,588.34 399.53,589.77 400.20,584.78 C400.87,579.80 400.20,582.65 399.70,578.38 C399.20,574.11 398.70,576.42 398.70,571.97 C398.70,567.53 396.70,567.35 399.70,565.04 C402.70,562.72 404.70,562.72 407.70,565.04 Z" fill="#fff" stroke="#000" stroke-width="0.7"/>
<circle cx="313.10" cy="578.72" r="2.55" fill="#ef4b2b" stroke="#000" stroke-width="0.65"/>
<circle cx="313.10" cy="590.34" r="2.55" fill="#ef4b2b" stroke="#000" stroke-width="0.65"/>
<circle cx="313.10" cy="591.87" r="2.55" fill="#ef4b2b" stroke="#000" stroke-width="0.65"/>
<circle cx="313.10" cy="595.63" r="2.55" fill="#ef4b2b" stroke="#000" stroke-width="0.65"/>
<circle cx="313.10" cy="601.61" r="2.55" fill="#ef4b2b" stroke="#000" stroke-width="0.65"/>
<circle cx="313.10" cy="604.34" r="2.55" fill="#ef4b2b" stroke="#000" stroke-width="0.65"/>
<circle cx="313.10" cy="605.54" r="2.55" fill="#ef4b2b" stroke="#000" stroke-width="0.65"/>
<circle cx="313.10" cy="613.56" r="2.55" fill="#ef4b2b" stroke="#000" stroke-width="0.65"/>
<circle cx="313.10" cy="618.18" r="2.55" fill="#ef4b2b" stroke="#000" stroke-width="0.65"/>
<circle cx="313.10" cy="621.93" r="2.55" fill="#ef4b2b" stroke="#000" stroke-width="0.65"/>
<circle cx="313.10" cy="623.98" r="2.55" fill="#ef4b2b" stroke="#000" stroke-width="0.65"/>
<circle cx="313.10" cy="625.86" r="2.55" fill="#ef4b2b" stroke="#000" stroke-width="0.65"/>
<circle cx="313.10" cy="627.91" r="2.55" fill="#ef4b2b" stroke="#000" stroke-width="0.65"/>
<circle cx="340.90" cy="574.96" r="2.55" fill="#ef4b2b" stroke="#000" stroke-width="0.65"/>
<circle cx="340.90" cy="578.89" r="2.55" fill="#ef4b2b" stroke="#000" stroke-width="0.65"/>
<circle cx="340.90" cy="586.75" r="2.55" fill="#ef4b2b" stroke="#000" stroke-width="0.65"/>
<circle cx="340.90" cy="589.48" r="2.55" fill="#ef4b2b" stroke="#000" stroke-width="0.65"/>
<circle cx="340.90" cy="591.53" r="2.55" fill="#ef4b2b" stroke="#000" stroke-width="0.65"/>
<circle cx="340.90" cy="599.39" r="2.55" fill="#ef4b2b" stroke="#000" stroke-width="0.65"/>
<circle cx="340.90" cy="601.27" r="2.55" fill="#ef4b2b" stroke="#000" stroke-width="0.65"/>
<circle cx="340.90" cy="604.00" r="2.55" fill="#ef4b2b" stroke="#000" stroke-width="0.65"/>
<circle cx="340.90" cy="612.54" r="2.55" fill="#ef4b2b" stroke="#000" stroke-width="0.65"/>
<circle cx="340.90" cy="618.86" r="2.55" fill="#ef4b2b" stroke="#000" stroke-width="0.65"/>
<circle cx="340.90" cy="620.91" r="2.55" fill="#ef4b2b" stroke="#000" stroke-width="0.65"/>
<circle cx="340.90" cy="622.96" r="2.55" fill="#ef4b2b" stroke="#000" stroke-width="0.65"/>
<circle cx="340.90" cy="624.15" r="2.55" fill="#ef4b2b" stroke="#000" stroke-width="0.65"/>
<circle cx="372.70" cy="565.78" r="2.55" fill="#ef4b2b" stroke="#000" stroke-width="0.65"/>
<circle cx="368.80" cy="569.84" r="2.55" fill="#ef4b2b" stroke="#000" stroke-width="0.65"/>
<circle cx="376.70" cy="569.31" r="2.55" fill="#ef4b2b" stroke="#000" stroke-width="0.65"/>
<circle cx="368.80" cy="584.25" r="2.55" fill="#ef4b2b" stroke="#000" stroke-width="0.65"/>
<circle cx="375.40" cy="583.72" r="2.55" fill="#ef4b2b" stroke="#000" stroke-width="0.65"/>
<circle cx="363.50" cy="593.65" r="2.55" fill="#ef4b2b" stroke="#000" stroke-width="0.65"/>
<circle cx="368.80" cy="592.79" r="2.55" fill="#ef4b2b" stroke="#000" stroke-width="0.65"/>
<circle cx="374.00" cy="593.11" r="2.55" fill="#ef4b2b" stroke="#000" stroke-width="0.65"/>
<circle cx="380.10" cy="593.86" r="2.55" fill="#ef4b2b" stroke="#000" stroke-width="0.65"/>
<circle cx="368.80" cy="590.12" r="2.55" fill="#ef4b2b" stroke="#000" stroke-width="0.65"/>
<circle cx="375.40" cy="589.59" r="2.55" fill="#ef4b2b" stroke="#000" stroke-width="0.65"/>
<circle cx="368.80" cy="601.22" r="2.55" fill="#ef4b2b" stroke="#000" stroke-width="0.65"/>
<circle cx="375.40" cy="601.01" r="2.55" fill="#ef4b2b" stroke="#000" stroke-width="0.65"/>
<circle cx="372.20" cy="606.46" r="2.55" fill="#ef4b2b" stroke="#000" stroke-width="0.65"/>
<circle cx="372.20" cy="613.61" r="2.55" fill="#ef4b2b" stroke="#000" stroke-width="0.65"/>
<circle cx="372.20" cy="631.43" r="2.55" fill="#ef4b2b" stroke="#000" stroke-width="0.65"/>
<circle cx="372.20" cy="641.90" r="2.55" fill="#ef4b2b" stroke="#000" stroke-width="0.65"/>
<circle cx="403.70" cy="567.92" r="2.55" fill="#c4ae94" stroke="#000" stroke-width="0.65"/>
<circle cx="403.70" cy="577.63" r="2.55" fill="#c4ae94" stroke="#000" stroke-width="0.65"/>
<circle cx="403.70" cy="583.72" r="2.55" fill="#c4ae94" stroke="#000" stroke-width="0.65"/>
<circle cx="397.10" cy="599.41" r="2.55" fill="#c4ae94" stroke="#000" stroke-width="0.65"/>
<circle cx="403.70" cy="599.20" r="2.55" fill="#c4ae94" stroke="#000" stroke-width="0.65"/>
<circle cx="409.20" cy="600.26" r="2.55" fill="#c4ae94" stroke="#000" stroke-width="0.65"/>
<circle cx="403.70" cy="607.31" r="2.55" fill="#c4ae94" stroke="#000" stroke-width="0.65"/>
<circle cx="403.70" cy="614.35" r="2.55" fill="#c4ae94" stroke="#000" stroke-width="0.65"/>
<text x="330.00" y="565.11" font-size="9.2" text-anchor="middle" stroke="#231f20" stroke-width="0.16">(<tspan font-style="italic">P</tspan> = 0.0627)</text>
<polyline points="313.10,570.60 313.10,568.40 340.90,568.40 340.90,570.60" fill="none" stroke="#333" stroke-width="0.8"/>
<g stroke="#6d6e71" stroke-width="0.8" fill="none">
<line x1="522.50" y1="561.00" x2="522.50" y2="647.10"/>
<line x1="638.60" y1="561.00" x2="638.60" y2="647.10"/>
<line x1="522.50" y1="646.70" x2="579.00" y2="646.70"/>
<line x1="582.00" y1="646.70" x2="638.60" y2="646.70"/>
<line x1="518.70" y1="646.70" x2="522.50" y2="646.70"/>
<line x1="518.70" y1="625.38" x2="522.50" y2="625.38"/>
<line x1="518.70" y1="604.05" x2="522.50" y2="604.05"/>
<line x1="518.70" y1="582.73" x2="522.50" y2="582.73"/>
<line x1="518.70" y1="561.40" x2="522.50" y2="561.40"/>
<line x1="638.60" y1="646.70" x2="642.40" y2="646.70"/>
<line x1="638.60" y1="625.38" x2="642.40" y2="625.38"/>
<line x1="638.60" y1="604.05" x2="642.40" y2="604.05"/>
<line x1="638.60" y1="582.73" x2="642.40" y2="582.73"/>
<line x1="638.60" y1="561.40" x2="642.40" y2="561.40"/>
<line x1="533.00" y1="646.70" x2="533.00" y2="650.50"/>
<line x1="560.80" y1="646.70" x2="560.80" y2="650.50"/>
<line x1="592.20" y1="646.70" x2="592.20" y2="650.50"/>
<line x1="623.70" y1="646.70" x2="623.70" y2="650.50"/>
</g>
<text x="514.90" y="649.87" font-size="10.2" text-anchor="end" stroke="#231f20" stroke-width="0.16" >0</text>
<text x="514.90" y="628.55" font-size="10.2" text-anchor="end" stroke="#231f20" stroke-width="0.16" >5</text>
<text x="514.90" y="607.22" font-size="10.2" text-anchor="end" stroke="#231f20" stroke-width="0.16" >10</text>
<text x="514.90" y="585.90" font-size="10.2" text-anchor="end" stroke="#231f20" stroke-width="0.16" >15</text>
<text x="514.90" y="564.57" font-size="10.2" text-anchor="end" stroke="#231f20" stroke-width="0.16" >20</text>
<text x="646.00" y="649.87" font-size="10.2" text-anchor="start" stroke="#231f20" stroke-width="0.16" >−100</text>
<text x="646.00" y="628.55" font-size="10.2" text-anchor="start" stroke="#231f20" stroke-width="0.16" >−50</text>
<text x="646.00" y="607.22" font-size="10.2" text-anchor="start" stroke="#231f20" stroke-width="0.16" >0</text>
<text x="646.00" y="585.90" font-size="10.2" text-anchor="start" stroke="#231f20" stroke-width="0.16" >50</text>
<text x="646.00" y="564.57" font-size="10.2" text-anchor="start" stroke="#231f20" stroke-width="0.16" >100</text>
<text x="533.00" y="663.39" font-size="9.7" text-anchor="middle" stroke="#231f20" stroke-width="0.16" >Ctrl</text>
<text x="560.80" y="663.39" font-size="9.7" text-anchor="middle" stroke="#231f20" stroke-width="0.16" >TGOT</text>
<text x="592.20" y="663.39" font-size="9.7" text-anchor="middle" stroke="#231f20" stroke-width="0.16"  textLength="27.6" lengthAdjust="spacingAndGlyphs">ΔTGOT</text>
<text x="628.70" y="663.39" font-size="9.7" text-anchor="middle" stroke="#231f20" stroke-width="0.16"  textLength="35.4" lengthAdjust="spacingAndGlyphs">ΔVehicle</text>
<text x="0" y="3.92" font-size="10.9" text-anchor="middle" transform="translate(487.50,603.90) rotate(-90)" stroke="#231f20" stroke-width="0.16" >PNA amplitude (µV)</text>
<text x="0" y="3.78" font-size="10.5" text-anchor="middle" transform="translate(679.70,604.60) rotate(90)" stroke="#231f20" stroke-width="0.16" >Δ PNA amplitude (%)</text>
<line x1="597.50" y1="604.05" x2="638.60" y2="604.05" stroke="#555" stroke-width="0.6" stroke-dasharray="1.6,1.2"/>
<line x1="533.00" y1="571.64" x2="560.80" y2="571.64" stroke="#000" stroke-width="0.85" />
<line x1="533.00" y1="584.43" x2="560.80" y2="594.24" stroke="#000" stroke-width="0.85" />
<line x1="533.00" y1="587.42" x2="560.80" y2="572.49" stroke="#000" stroke-width="0.85" />
<line x1="533.00" y1="589.55" x2="560.80" y2="604.48" stroke="#000" stroke-width="0.85" />
<line x1="533.00" y1="592.11" x2="560.80" y2="596.37" stroke="#000" stroke-width="0.85" />
<line x1="533.00" y1="594.24" x2="560.80" y2="583.58" stroke="#000" stroke-width="0.85" />
<line x1="533.00" y1="598.08" x2="560.80" y2="611.30" stroke="#000" stroke-width="0.85" />
<line x1="533.00" y1="605.33" x2="560.80" y2="601.06" stroke="#000" stroke-width="0.85" />
<line x1="533.00" y1="607.46" x2="560.80" y2="625.38" stroke="#000" stroke-width="0.85" />
<line x1="533.00" y1="610.02" x2="560.80" y2="610.02" stroke="#000" stroke-width="0.85" />
<line x1="533.00" y1="621.96" x2="560.80" y2="616.42" stroke="#000" stroke-width="0.85" />
<line x1="533.00" y1="630.07" x2="560.80" y2="630.07" stroke="#000" stroke-width="0.85" />
<line x1="533.00" y1="635.18" x2="560.80" y2="641.16" stroke="#000" stroke-width="0.85" />
<line x1="533.00" y1="641.16" x2="560.80" y2="639.02" stroke="#000" stroke-width="0.85" />
<path d="M592.60,572.92 C592.90,577.61 592.17,578.74 592.70,586.99 C593.23,595.24 591.37,592.68 594.20,597.65 C597.03,602.63 599.20,598.36 601.20,601.92 C603.20,605.47 601.87,604.05 600.20,608.32 C598.53,612.58 598.53,609.74 596.20,614.71 C593.87,619.69 594.40,618.27 593.20,623.24 C592.00,628.22 593.07,627.51 592.60,629.64 C592.13,631.77 592.27,631.77 591.80,629.64 C591.33,627.51 592.40,628.22 591.20,623.24 C590.00,618.27 590.53,619.69 588.20,614.71 C585.87,609.74 585.87,612.58 584.20,608.32 C582.53,604.05 581.20,605.47 583.20,601.92 C585.20,598.36 587.37,602.63 590.20,597.65 C593.03,592.68 591.17,595.24 591.70,586.99 C592.23,578.74 591.50,577.61 591.80,572.92 C592.10,568.22 592.30,568.22 592.60,572.92 Z" fill="#fff" stroke="#000" stroke-width="0.7"/>
<circle cx="533.00" cy="571.64" r="2.55" fill="#ef4b2b" stroke="#000" stroke-width="0.65"/>
<circle cx="533.00" cy="584.43" r="2.55" fill="#ef4b2b" stroke="#000" stroke-width="0.65"/>
<circle cx="533.00" cy="587.42" r="2.55" fill="#ef4b2b" stroke="#000" stroke-width="0.65"/>
<circle cx="533.00" cy="589.55" r="2.55" fill="#ef4b2b" stroke="#000" stroke-width="0.65"/>
<circle cx="533.00" cy="592.11" r="2.55" fill="#ef4b2b" stroke="#000" stroke-width="0.65"/>
<circle cx="533.00" cy="594.24" r="2.55" fill="#ef4b2b" stroke="#000" stroke-width="0.65"/>
<circle cx="533.00" cy="598.08" r="2.55" fill="#ef4b2b" stroke="#000" stroke-width="0.65"/>
<circle cx="533.00" cy="605.33" r="2.55" fill="#ef4b2b" stroke="#000" stroke-width="0.65"/>
<circle cx="533.00" cy="607.46" r="2.55" fill="#ef4b2b" stroke="#000" stroke-width="0.65"/>
<circle cx="533.00" cy="610.02" r="2.55" fill="#ef4b2b" stroke="#000" stroke-width="0.65"/>
<circle cx="533.00" cy="621.96" r="2.55" fill="#ef4b2b" stroke="#000" stroke-width="0.65"/>
<circle cx="533.00" cy="630.07" r="2.55" fill="#ef4b2b" stroke="#000" stroke-width="0.65"/>
<circle cx="533.00" cy="635.18" r="2.55" fill="#ef4b2b" stroke="#000" stroke-width="0.65"/>
<circle cx="533.00" cy="641.16" r="2.55" fill="#ef4b2b" stroke="#000" stroke-width="0.65"/>
<circle cx="560.80" cy="571.64" r="2.55" fill="#ef4b2b" stroke="#000" stroke-width="0.65"/>
<circle cx="560.80" cy="572.49" r="2.55" fill="#ef4b2b" stroke="#000" stroke-width="0.65"/>
<circle cx="560.80" cy="583.58" r="2.55" fill="#ef4b2b" stroke="#000" stroke-width="0.65"/>
<circle cx="560.80" cy="594.24" r="2.55" fill="#ef4b2b" stroke="#000" stroke-width="0.65"/>
<circle cx="560.80" cy="596.37" r="2.55" fill="#ef4b2b" stroke="#000" stroke-width="0.65"/>
<circle cx="560.80" cy="601.06" r="2.55" fill="#ef4b2b" stroke="#000" stroke-width="0.65"/>
<circle cx="560.80" cy="604.48" r="2.55" fill="#ef4b2b" stroke="#000" stroke-width="0.65"/>
<circle cx="560.80" cy="610.02" r="2.55" fill="#ef4b2b" stroke="#000" stroke-width="0.65"/>
<circle cx="560.80" cy="611.30" r="2.55" fill="#ef4b2b" stroke="#000" stroke-width="0.65"/>
<circle cx="560.80" cy="616.42" r="2.55" fill="#ef4b2b" stroke="#000" stroke-width="0.65"/>
<circle cx="560.80" cy="625.38" r="2.55" fill="#ef4b2b" stroke="#000" stroke-width="0.65"/>
<circle cx="560.80" cy="630.07" r="2.55" fill="#ef4b2b" stroke="#000" stroke-width="0.65"/>
<circle cx="560.80" cy="639.02" r="2.55" fill="#ef4b2b" stroke="#000" stroke-width="0.65"/>
<circle cx="560.80" cy="641.16" r="2.55" fill="#ef4b2b" stroke="#000" stroke-width="0.65"/>
<circle cx="592.20" cy="573.34" r="2.55" fill="#ef4b2b" stroke="#000" stroke-width="0.65"/>
<circle cx="592.20" cy="588.95" r="2.55" fill="#ef4b2b" stroke="#000" stroke-width="0.65"/>
<circle cx="584.70" cy="601.92" r="2.55" fill="#ef4b2b" stroke="#000" stroke-width="0.65"/>
<circle cx="588.40" cy="600.64" r="2.55" fill="#ef4b2b" stroke="#000" stroke-width="0.65"/>
<circle cx="592.20" cy="602.34" r="2.55" fill="#ef4b2b" stroke="#000" stroke-width="0.65"/>
<circle cx="596.00" cy="600.64" r="2.55" fill="#ef4b2b" stroke="#000" stroke-width="0.65"/>
<circle cx="599.70" cy="601.92" r="2.55" fill="#ef4b2b" stroke="#000" stroke-width="0.65"/>
<circle cx="587.20" cy="604.90" r="2.55" fill="#ef4b2b" stroke="#000" stroke-width="0.65"/>
<circle cx="592.20" cy="605.76" r="2.55" fill="#ef4b2b" stroke="#000" stroke-width="0.65"/>
<circle cx="597.20" cy="604.90" r="2.55" fill="#ef4b2b" stroke="#000" stroke-width="0.65"/>
<circle cx="588.40" cy="607.46" r="2.55" fill="#ef4b2b" stroke="#000" stroke-width="0.65"/>
<circle cx="596.00" cy="607.89" r="2.55" fill="#ef4b2b" stroke="#000" stroke-width="0.65"/>
<circle cx="584.70" cy="605.76" r="2.55" fill="#ef4b2b" stroke="#000" stroke-width="0.65"/>
<circle cx="599.70" cy="605.33" r="2.55" fill="#ef4b2b" stroke="#000" stroke-width="0.65"/>
<circle cx="588.40" cy="613.01" r="2.55" fill="#ef4b2b" stroke="#000" stroke-width="0.65"/>
<circle cx="596.00" cy="613.43" r="2.55" fill="#ef4b2b" stroke="#000" stroke-width="0.65"/>
<circle cx="592.20" cy="621.96" r="2.55" fill="#ef4b2b" stroke="#000" stroke-width="0.65"/>
<circle cx="592.20" cy="629.21" r="2.55" fill="#ef4b2b" stroke="#000" stroke-width="0.65"/>
<circle cx="623.70" cy="596.37" r="2.55" fill="#c4ae94" stroke="#000" stroke-width="0.65"/>
<circle cx="618.70" cy="599.36" r="2.55" fill="#c4ae94" stroke="#000" stroke-width="0.65"/>
<circle cx="628.70" cy="599.36" r="2.55" fill="#c4ae94" stroke="#000" stroke-width="0.65"/>
<circle cx="623.70" cy="601.92" r="2.55" fill="#c4ae94" stroke="#000" stroke-width="0.65"/>
<circle cx="617.20" cy="605.33" r="2.55" fill="#c4ae94" stroke="#000" stroke-width="0.65"/>
<circle cx="628.20" cy="605.33" r="2.55" fill="#c4ae94" stroke="#000" stroke-width="0.65"/>
<circle cx="617.20" cy="610.45" r="2.55" fill="#c4ae94" stroke="#000" stroke-width="0.65"/>
<circle cx="629.20" cy="610.45" r="2.55" fill="#c4ae94" stroke="#000" stroke-width="0.65"/>
<g stroke="#6d6e71" stroke-width="0.8" fill="none">
<line x1="295.50" y1="693.30" x2="295.50" y2="779.70"/>
<line x1="414.50" y1="693.30" x2="414.50" y2="779.70"/>
<line x1="295.50" y1="779.30" x2="352.00" y2="779.30"/>
<line x1="355.00" y1="779.30" x2="414.50" y2="779.30"/>
<line x1="291.70" y1="779.30" x2="295.50" y2="779.30"/>
<line x1="291.70" y1="750.77" x2="295.50" y2="750.77"/>
<line x1="291.70" y1="722.23" x2="295.50" y2="722.23"/>
<line x1="291.70" y1="693.70" x2="295.50" y2="693.70"/>
<line x1="414.50" y1="779.30" x2="418.30" y2="779.30"/>
<line x1="414.50" y1="762.18" x2="418.30" y2="762.18"/>
<line x1="414.50" y1="745.06" x2="418.30" y2="745.06"/>
<line x1="414.50" y1="727.94" x2="418.30" y2="727.94"/>
<line x1="414.50" y1="710.82" x2="418.30" y2="710.82"/>
<line x1="414.50" y1="693.70" x2="418.30" y2="693.70"/>
<line x1="306.80" y1="779.30" x2="306.80" y2="783.10"/>
<line x1="334.90" y1="779.30" x2="334.90" y2="783.10"/>
<line x1="366.40" y1="779.30" x2="366.40" y2="783.10"/>
<line x1="398.50" y1="779.30" x2="398.50" y2="783.10"/>
</g>
<text x="287.90" y="782.47" font-size="10.2" text-anchor="end" stroke="#231f20" stroke-width="0.16" >0</text>
<text x="287.90" y="753.94" font-size="10.2" text-anchor="end" stroke="#231f20" stroke-width="0.16" >1</text>
<text x="287.90" y="725.41" font-size="10.2" text-anchor="end" stroke="#231f20" stroke-width="0.16" >2</text>
<text x="287.90" y="696.87" font-size="10.2" text-anchor="end" stroke="#231f20" stroke-width="0.16" >3</text>
<text x="421.90" y="782.47" font-size="10.2" text-anchor="start" stroke="#231f20" stroke-width="0.16" >−40</text>
<text x="421.90" y="765.35" font-size="10.2" text-anchor="start" stroke="#231f20" stroke-width="0.16" >−30</text>
<text x="421.90" y="748.23" font-size="10.2" text-anchor="start" stroke="#231f20" stroke-width="0.16" >−20</text>
<text x="421.90" y="731.11" font-size="10.2" text-anchor="start" stroke="#231f20" stroke-width="0.16" >−10</text>
<text x="421.90" y="713.99" font-size="10.2" text-anchor="start" stroke="#231f20" stroke-width="0.16" >0</text>
<text x="421.90" y="696.87" font-size="10.2" text-anchor="start" stroke="#231f20" stroke-width="0.16" >10</text>
<text x="306.80" y="795.99" font-size="9.7" text-anchor="middle" stroke="#231f20" stroke-width="0.16" >Ctrl</text>
<text x="334.90" y="795.99" font-size="9.7" text-anchor="middle" stroke="#231f20" stroke-width="0.16" >TGOT</text>
<text x="366.40" y="795.99" font-size="9.7" text-anchor="middle" stroke="#231f20" stroke-width="0.16"  textLength="27.6" lengthAdjust="spacingAndGlyphs">ΔTGOT</text>
<text x="403.50" y="795.99" font-size="9.7" text-anchor="middle" stroke="#231f20" stroke-width="0.16"  textLength="35.4" lengthAdjust="spacingAndGlyphs">ΔVehicle</text>
<text x="0" y="3.92" font-size="10.9" text-anchor="middle" transform="translate(270.90,738.00) rotate(-90)" stroke="#231f20" stroke-width="0.16" >VNA amplitude (µV)</text>
<text x="0" y="3.78" font-size="10.5" text-anchor="middle" transform="translate(458.20,738.00) rotate(90)" stroke="#231f20" stroke-width="0.16" >Δ VNA amplitude (%)</text>
<line x1="355.90" y1="710.82" x2="414.50" y2="710.82" stroke="#555" stroke-width="0.6" stroke-dasharray="1.6,1.2"/>
<line x1="306.80" y1="708.82" x2="334.90" y2="733.93" stroke="#000" stroke-width="0.85" />
<line x1="306.80" y1="714.24" x2="334.90" y2="714.81" stroke="#000" stroke-width="0.85" />
<line x1="306.80" y1="721.38" x2="334.90" y2="738.21" stroke="#000" stroke-width="0.85" />
<line x1="306.80" y1="727.94" x2="334.90" y2="728.51" stroke="#000" stroke-width="0.85" />
<line x1="306.80" y1="747.06" x2="334.90" y2="751.62" stroke="#000" stroke-width="0.85" />
<line x1="306.80" y1="752.19" x2="334.90" y2="754.76" stroke="#000" stroke-width="0.85" />
<path d="M372.40,711.68 C377.40,712.53 375.07,711.11 375.40,714.24 C375.73,717.38 375.07,715.39 373.40,721.09 C371.73,726.80 371.57,724.52 370.40,731.36 C369.23,738.21 369.57,734.79 369.90,741.64 C370.23,748.48 370.57,745.06 371.40,751.91 C372.23,758.76 372.40,755.90 372.40,762.18 C372.40,768.46 373.07,766.75 371.40,770.74 C369.73,774.73 369.40,773.02 367.40,774.16 C365.40,775.31 367.40,775.31 365.40,774.16 C363.40,773.02 363.07,774.73 361.40,770.74 C359.73,766.75 360.40,768.46 360.40,762.18 C360.40,755.90 360.57,758.76 361.40,751.91 C362.23,745.06 362.57,748.48 362.90,741.64 C363.23,734.79 363.57,738.21 362.40,731.36 C361.23,724.52 361.07,726.80 359.40,721.09 C357.73,715.39 357.07,717.38 357.40,714.24 C357.73,711.11 355.40,712.53 360.40,711.68 C365.40,710.82 367.40,710.82 372.40,711.68 Z" fill="#fff" stroke="#000" stroke-width="0.7"/>
<path d="M402.50,693.70 C406.33,696.55 404.50,696.55 406.00,702.26 C407.50,707.97 406.67,705.11 407.00,710.82 C407.33,716.53 407.50,713.67 407.00,719.38 C406.50,725.09 407.33,722.23 405.50,727.94 C403.67,733.65 403.17,729.65 401.50,736.50 C399.83,743.35 400.83,739.92 400.50,748.48 C400.17,757.04 400.83,753.62 400.50,762.18 C400.17,770.74 400.50,770.17 399.50,774.16 C398.50,778.16 398.50,778.16 397.50,774.16 C396.50,770.17 396.83,770.74 396.50,762.18 C396.17,753.62 396.83,757.04 396.50,748.48 C396.17,739.92 397.17,743.35 395.50,736.50 C393.83,729.65 393.33,733.65 391.50,727.94 C389.67,722.23 390.50,725.09 390.00,719.38 C389.50,713.67 389.67,716.53 390.00,710.82 C390.33,705.11 389.50,707.97 391.00,702.26 C392.50,696.55 390.67,696.55 394.50,693.70 C398.33,690.85 398.67,690.85 402.50,693.70 Z" fill="#fff" stroke="#000" stroke-width="0.7"/>
<line x1="361.90" y1="760.13" x2="370.90" y2="760.13" stroke="#555" stroke-width="0.5" stroke-dasharray="1.5,1"/>
<line x1="391.50" y1="721.09" x2="405.50" y2="721.09" stroke="#555" stroke-width="0.5" stroke-dasharray="1.5,1"/>
<line x1="395.50" y1="739.92" x2="401.50" y2="739.92" stroke="#555" stroke-width="0.5" stroke-dasharray="1.5,1"/>
<circle cx="306.80" cy="708.82" r="2.55" fill="#ef4b2b" stroke="#000" stroke-width="0.65"/>
<circle cx="306.80" cy="714.24" r="2.55" fill="#ef4b2b" stroke="#000" stroke-width="0.65"/>
<circle cx="306.80" cy="721.38" r="2.55" fill="#ef4b2b" stroke="#000" stroke-width="0.65"/>
<circle cx="306.80" cy="727.94" r="2.55" fill="#ef4b2b" stroke="#000" stroke-width="0.65"/>
<circle cx="306.80" cy="747.06" r="2.55" fill="#ef4b2b" stroke="#000" stroke-width="0.65"/>
<circle cx="306.80" cy="752.19" r="2.55" fill="#ef4b2b" stroke="#000" stroke-width="0.65"/>
<circle cx="334.90" cy="714.81" r="2.55" fill="#ef4b2b" stroke="#000" stroke-width="0.65"/>
<circle cx="334.90" cy="728.51" r="2.55" fill="#ef4b2b" stroke="#000" stroke-width="0.65"/>
<circle cx="334.90" cy="733.93" r="2.55" fill="#ef4b2b" stroke="#000" stroke-width="0.65"/>
<circle cx="334.90" cy="738.21" r="2.55" fill="#ef4b2b" stroke="#000" stroke-width="0.65"/>
<circle cx="334.90" cy="751.62" r="2.55" fill="#ef4b2b" stroke="#000" stroke-width="0.65"/>
<circle cx="334.90" cy="754.76" r="2.55" fill="#ef4b2b" stroke="#000" stroke-width="0.65"/>
<circle cx="363.20" cy="714.24" r="2.55" fill="#ef4b2b" stroke="#000" stroke-width="0.65"/>
<circle cx="369.00" cy="714.24" r="2.55" fill="#ef4b2b" stroke="#000" stroke-width="0.65"/>
<circle cx="366.40" cy="720.75" r="2.55" fill="#ef4b2b" stroke="#000" stroke-width="0.65"/>
<circle cx="366.40" cy="733.93" r="2.55" fill="#ef4b2b" stroke="#000" stroke-width="0.65"/>
<circle cx="366.40" cy="750.88" r="2.55" fill="#ef4b2b" stroke="#000" stroke-width="0.65"/>
<circle cx="366.40" cy="760.13" r="2.55" fill="#ef4b2b" stroke="#000" stroke-width="0.65"/>
<circle cx="366.40" cy="771.25" r="2.55" fill="#ef4b2b" stroke="#000" stroke-width="0.65"/>
<circle cx="398.50" cy="697.98" r="2.55" fill="#c4ae94" stroke="#000" stroke-width="0.65"/>
<circle cx="395.30" cy="705.51" r="2.55" fill="#c4ae94" stroke="#000" stroke-width="0.65"/>
<circle cx="401.90" cy="705.51" r="2.55" fill="#c4ae94" stroke="#000" stroke-width="0.65"/>
<circle cx="395.30" cy="721.26" r="2.55" fill="#c4ae94" stroke="#000" stroke-width="0.65"/>
<circle cx="401.90" cy="721.26" r="2.55" fill="#c4ae94" stroke="#000" stroke-width="0.65"/>
<circle cx="395.30" cy="728.62" r="2.55" fill="#c4ae94" stroke="#000" stroke-width="0.65"/>
<circle cx="401.90" cy="728.62" r="2.55" fill="#c4ae94" stroke="#000" stroke-width="0.65"/>
<circle cx="398.50" cy="748.83" r="2.55" fill="#c4ae94" stroke="#000" stroke-width="0.65"/>
<circle cx="398.50" cy="771.25" r="2.55" fill="#c4ae94" stroke="#000" stroke-width="0.65"/>
<text x="324.40" y="695.61" font-size="9.2" text-anchor="middle" stroke="#231f20" stroke-width="0.16">(<tspan font-style="italic">P</tspan> = 0.0578)</text>
<polyline points="306.80,701.10 306.80,698.90 334.90,698.90 334.90,701.10" fill="none" stroke="#333" stroke-width="0.8"/>
<g stroke="#6d6e71" stroke-width="0.8" fill="none">
<line x1="512.30" y1="693.10" x2="512.30" y2="779.20"/>
<line x1="629.70" y1="693.10" x2="629.70" y2="779.20"/>
<line x1="512.30" y1="778.80" x2="568.80" y2="778.80"/>
<line x1="571.80" y1="778.80" x2="629.70" y2="778.80"/>
<line x1="508.50" y1="778.80" x2="512.30" y2="778.80"/>
<line x1="508.50" y1="761.74" x2="512.30" y2="761.74"/>
<line x1="508.50" y1="744.68" x2="512.30" y2="744.68"/>
<line x1="508.50" y1="727.62" x2="512.30" y2="727.62"/>
<line x1="508.50" y1="710.56" x2="512.30" y2="710.56"/>
<line x1="508.50" y1="693.50" x2="512.30" y2="693.50"/>
<line x1="629.70" y1="778.80" x2="633.50" y2="778.80"/>
<line x1="629.70" y1="757.47" x2="633.50" y2="757.47"/>
<line x1="629.70" y1="736.15" x2="633.50" y2="736.15"/>
<line x1="629.70" y1="714.83" x2="633.50" y2="714.83"/>
<line x1="629.70" y1="693.50" x2="633.50" y2="693.50"/>
<line x1="523.40" y1="778.80" x2="523.40" y2="782.60"/>
<line x1="551.20" y1="778.80" x2="551.20" y2="782.60"/>
<line x1="582.70" y1="778.80" x2="582.70" y2="782.60"/>
<line x1="614.70" y1="778.80" x2="614.70" y2="782.60"/>
</g>
<text x="504.70" y="781.97" font-size="10.2" text-anchor="end" stroke="#231f20" stroke-width="0.16" >0</text>
<text x="504.70" y="764.91" font-size="10.2" text-anchor="end" stroke="#231f20" stroke-width="0.16" >1</text>
<text x="504.70" y="747.85" font-size="10.2" text-anchor="end" stroke="#231f20" stroke-width="0.16" >2</text>
<text x="504.70" y="730.79" font-size="10.2" text-anchor="end" stroke="#231f20" stroke-width="0.16" >3</text>
<text x="504.70" y="713.73" font-size="10.2" text-anchor="end" stroke="#231f20" stroke-width="0.16" >4</text>
<text x="504.70" y="696.67" font-size="10.2" text-anchor="end" stroke="#231f20" stroke-width="0.16" >5</text>
<text x="637.10" y="781.97" font-size="10.2" text-anchor="start" stroke="#231f20" stroke-width="0.16" >−20</text>
<text x="637.10" y="760.65" font-size="10.2" text-anchor="start" stroke="#231f20" stroke-width="0.16" >0</text>
<text x="637.10" y="739.32" font-size="10.2" text-anchor="start" stroke="#231f20" stroke-width="0.16" >20</text>
<text x="637.10" y="718.00" font-size="10.2" text-anchor="start" stroke="#231f20" stroke-width="0.16" >40</text>
<text x="637.10" y="696.67" font-size="10.2" text-anchor="start" stroke="#231f20" stroke-width="0.16" >60</text>
<text x="523.40" y="795.49" font-size="9.7" text-anchor="middle" stroke="#231f20" stroke-width="0.16" >Ctrl</text>
<text x="551.20" y="795.49" font-size="9.7" text-anchor="middle" stroke="#231f20" stroke-width="0.16" >TGOT</text>
<text x="582.70" y="795.49" font-size="9.7" text-anchor="middle" stroke="#231f20" stroke-width="0.16"  textLength="27.6" lengthAdjust="spacingAndGlyphs">ΔTGOT</text>
<text x="619.70" y="795.49" font-size="9.7" text-anchor="middle" stroke="#231f20" stroke-width="0.16"  textLength="35.4" lengthAdjust="spacingAndGlyphs">ΔVehicle</text>
<text x="0" y="3.92" font-size="10.9" text-anchor="middle" transform="translate(484.50,738.00) rotate(-90)" stroke="#231f20" stroke-width="0.16" >Mean tSNA activity (µV)</text>
<text x="0" y="3.78" font-size="10.5" text-anchor="middle" transform="translate(677.20,737.00) rotate(90)" stroke="#231f20" stroke-width="0.16" >Δ Mean tSNA</text>
<text x="0" y="3.78" font-size="10.5" text-anchor="middle" transform="translate(662.20,737.00) rotate(90)" stroke="#231f20" stroke-width="0.16" >activity (%)</text>
<line x1="574.30" y1="757.47" x2="629.70" y2="757.47" stroke="#555" stroke-width="0.6" stroke-dasharray="1.6,1.2"/>
<line x1="523.40" y1="704.76" x2="551.20" y2="701.52" stroke="#000" stroke-width="0.85" />
<line x1="523.40" y1="711.41" x2="551.20" y2="710.56" stroke="#000" stroke-width="0.85" />
<line x1="523.40" y1="725.57" x2="551.20" y2="726.43" stroke="#000" stroke-width="0.85" />
<line x1="523.40" y1="727.96" x2="551.20" y2="732.40" stroke="#000" stroke-width="0.85" />
<line x1="523.40" y1="731.54" x2="551.20" y2="728.47" stroke="#000" stroke-width="0.85" />
<line x1="523.40" y1="735.47" x2="551.20" y2="735.47" stroke="#000" stroke-width="0.85" />
<line x1="523.40" y1="740.59" x2="551.20" y2="739.90" stroke="#000" stroke-width="0.85" />
<line x1="523.40" y1="744.34" x2="551.20" y2="743.49" stroke="#000" stroke-width="0.85" />
<path d="M616.70,704.16 C618.37,707.72 617.53,707.72 617.70,714.83 C617.87,721.93 617.03,718.38 617.20,725.49 C617.37,732.60 616.70,729.04 618.20,736.15 C619.70,743.26 619.53,740.77 621.70,746.81 C623.87,752.85 624.03,748.95 624.70,754.28 C625.37,759.61 626.37,758.01 623.70,762.81 C621.03,767.60 620.37,766.72 616.70,768.67 C613.03,770.63 616.37,770.63 612.70,768.67 C609.03,766.72 608.37,767.60 605.70,762.81 C603.03,758.01 604.03,759.61 604.70,754.28 C605.37,748.95 605.53,752.85 607.70,746.81 C609.87,740.77 609.70,743.26 611.20,736.15 C612.70,729.04 612.03,732.60 612.20,725.49 C612.37,718.38 611.53,721.93 611.70,714.83 C611.87,707.72 611.03,707.72 612.70,704.16 C614.37,700.61 615.03,700.61 616.70,704.16 Z" fill="#fff" stroke="#000" stroke-width="0.7"/>
<circle cx="523.40" cy="704.76" r="2.55" fill="#ef4b2b" stroke="#000" stroke-width="0.65"/>
<circle cx="523.40" cy="711.41" r="2.55" fill="#ef4b2b" stroke="#000" stroke-width="0.65"/>
<circle cx="523.40" cy="725.57" r="2.55" fill="#ef4b2b" stroke="#000" stroke-width="0.65"/>
<circle cx="523.40" cy="727.96" r="2.55" fill="#ef4b2b" stroke="#000" stroke-width="0.65"/>
<circle cx="523.40" cy="731.54" r="2.55" fill="#ef4b2b" stroke="#000" stroke-width="0.65"/>
<circle cx="523.40" cy="735.47" r="2.55" fill="#ef4b2b" stroke="#000" stroke-width="0.65"/>
<circle cx="523.40" cy="740.59" r="2.55" fill="#ef4b2b" stroke="#000" stroke-width="0.65"/>
<circle cx="523.40" cy="744.34" r="2.55" fill="#ef4b2b" stroke="#000" stroke-width="0.65"/>
<circle cx="551.20" cy="701.52" r="2.55" fill="#ef4b2b" stroke="#000" stroke-width="0.65"/>
<circle cx="551.20" cy="710.56" r="2.55" fill="#ef4b2b" stroke="#000" stroke-width="0.65"/>
<circle cx="551.20" cy="726.43" r="2.55" fill="#ef4b2b" stroke="#000" stroke-width="0.65"/>
<circle cx="551.20" cy="728.47" r="2.55" fill="#ef4b2b" stroke="#000" stroke-width="0.65"/>
<circle cx="551.20" cy="732.40" r="2.55" fill="#ef4b2b" stroke="#000" stroke-width="0.65"/>
<circle cx="551.20" cy="735.47" r="2.55" fill="#ef4b2b" stroke="#000" stroke-width="0.65"/>
<circle cx="551.20" cy="739.90" r="2.55" fill="#ef4b2b" stroke="#000" stroke-width="0.65"/>
<circle cx="551.20" cy="743.49" r="2.55" fill="#ef4b2b" stroke="#000" stroke-width="0.65"/>
<circle cx="574.30" cy="752.89" r="2.55" fill="#ef4b2b" stroke="#000" stroke-width="0.65"/>
<circle cx="578.80" cy="753.10" r="2.55" fill="#ef4b2b" stroke="#000" stroke-width="0.65"/>
<circle cx="583.30" cy="752.89" r="2.55" fill="#ef4b2b" stroke="#000" stroke-width="0.65"/>
<circle cx="587.20" cy="752.57" r="2.55" fill="#ef4b2b" stroke="#000" stroke-width="0.65"/>
<circle cx="590.80" cy="751.61" r="2.55" fill="#ef4b2b" stroke="#000" stroke-width="0.65"/>
<circle cx="578.80" cy="758.43" r="2.55" fill="#ef4b2b" stroke="#000" stroke-width="0.65"/>
<circle cx="584.30" cy="758.75" r="2.55" fill="#ef4b2b" stroke="#000" stroke-width="0.65"/>
<circle cx="580.30" cy="762.27" r="2.55" fill="#ef4b2b" stroke="#000" stroke-width="0.65"/>
<circle cx="614.70" cy="707.36" r="2.55" fill="#c4ae94" stroke="#000" stroke-width="0.65"/>
<circle cx="614.70" cy="734.02" r="2.55" fill="#c4ae94" stroke="#000" stroke-width="0.65"/>
<circle cx="614.70" cy="744.36" r="2.55" fill="#c4ae94" stroke="#000" stroke-width="0.65"/>
<circle cx="608.70" cy="752.68" r="2.55" fill="#c4ae94" stroke="#000" stroke-width="0.65"/>
<circle cx="614.70" cy="752.68" r="2.55" fill="#c4ae94" stroke="#000" stroke-width="0.65"/>
<circle cx="608.70" cy="758.43" r="2.55" fill="#c4ae94" stroke="#000" stroke-width="0.65"/>
<circle cx="617.70" cy="758.43" r="2.55" fill="#c4ae94" stroke="#000" stroke-width="0.65"/>
<circle cx="614.70" cy="766.75" r="2.55" fill="#c4ae94" stroke="#000" stroke-width="0.65"/>
<g stroke="#6d6e71" stroke-width="0.8" fill="none">
<line x1="307.30" y1="813.50" x2="307.30" y2="899.70"/>
<line x1="425.00" y1="813.50" x2="425.00" y2="899.70"/>
<line x1="307.30" y1="899.30" x2="363.80" y2="899.30"/>
<line x1="366.80" y1="899.30" x2="425.00" y2="899.30"/>
<line x1="303.50" y1="899.30" x2="307.30" y2="899.30"/>
<line x1="303.50" y1="877.95" x2="307.30" y2="877.95"/>
<line x1="303.50" y1="856.60" x2="307.30" y2="856.60"/>
<line x1="303.50" y1="835.25" x2="307.30" y2="835.25"/>
<line x1="303.50" y1="813.90" x2="307.30" y2="813.90"/>
<line x1="425.00" y1="899.30" x2="428.80" y2="899.30"/>
<line x1="425.00" y1="885.07" x2="428.80" y2="885.07"/>
<line x1="425.00" y1="870.83" x2="428.80" y2="870.83"/>
<line x1="425.00" y1="856.60" x2="428.80" y2="856.60"/>
<line x1="425.00" y1="842.37" x2="428.80" y2="842.37"/>
<line x1="425.00" y1="828.13" x2="428.80" y2="828.13"/>
<line x1="425.00" y1="813.90" x2="428.80" y2="813.90"/>
<line x1="318.90" y1="899.30" x2="318.90" y2="903.10"/>
<line x1="346.70" y1="899.30" x2="346.70" y2="903.10"/>
<line x1="376.90" y1="899.30" x2="376.90" y2="903.10"/>
<line x1="409.00" y1="899.30" x2="409.00" y2="903.10"/>
</g>
<text x="299.70" y="902.47" font-size="10.2" text-anchor="end" stroke="#231f20" stroke-width="0.16" >0</text>
<text x="299.70" y="881.12" font-size="10.2" text-anchor="end" stroke="#231f20" stroke-width="0.16" >50</text>
<text x="299.70" y="859.77" font-size="10.2" text-anchor="end" stroke="#231f20" stroke-width="0.16" >100</text>
<text x="299.70" y="838.42" font-size="10.2" text-anchor="end" stroke="#231f20" stroke-width="0.16" >150</text>
<text x="299.70" y="817.07" font-size="10.2" text-anchor="end" stroke="#231f20" stroke-width="0.16" >200</text>
<text x="432.40" y="902.47" font-size="10.2" text-anchor="start" stroke="#231f20" stroke-width="0.16" >−20</text>
<text x="432.40" y="888.24" font-size="10.2" text-anchor="start" stroke="#231f20" stroke-width="0.16" >−15</text>
<text x="432.40" y="874.01" font-size="10.2" text-anchor="start" stroke="#231f20" stroke-width="0.16" >−10</text>
<text x="432.40" y="859.77" font-size="10.2" text-anchor="start" stroke="#231f20" stroke-width="0.16" >−5</text>
<text x="432.40" y="845.54" font-size="10.2" text-anchor="start" stroke="#231f20" stroke-width="0.16" >0</text>
<text x="432.40" y="831.31" font-size="10.2" text-anchor="start" stroke="#231f20" stroke-width="0.16" >5</text>
<text x="432.40" y="817.07" font-size="10.2" text-anchor="start" stroke="#231f20" stroke-width="0.16" >10</text>
<text x="318.90" y="915.99" font-size="9.7" text-anchor="middle" stroke="#231f20" stroke-width="0.16" >Ctrl</text>
<text x="346.70" y="915.99" font-size="9.7" text-anchor="middle" stroke="#231f20" stroke-width="0.16" >TGOT</text>
<text x="376.90" y="915.99" font-size="9.7" text-anchor="middle" stroke="#231f20" stroke-width="0.16"  textLength="27.6" lengthAdjust="spacingAndGlyphs">ΔTGOT</text>
<text x="414.00" y="915.99" font-size="9.7" text-anchor="middle" stroke="#231f20" stroke-width="0.16"  textLength="35.4" lengthAdjust="spacingAndGlyphs">ΔVehicle</text>
<text x="0" y="3.92" font-size="10.9" text-anchor="middle" transform="translate(272.60,856.50) rotate(-90)" stroke="#231f20" stroke-width="0.16" >mPP (mmHg)</text>
<text x="0" y="3.78" font-size="10.5" text-anchor="middle" transform="translate(461.50,857.00) rotate(90)" stroke="#231f20" stroke-width="0.16" >Δ mPP (%)</text>
<line x1="367.30" y1="842.37" x2="425.00" y2="842.37" stroke="#555" stroke-width="0.6" stroke-dasharray="1.6,1.2"/>
<line x1="318.90" y1="839.95" x2="346.70" y2="836.02" stroke="#000" stroke-width="0.85" />
<line x1="318.90" y1="863.09" x2="346.70" y2="867.79" stroke="#000" stroke-width="0.85" />
<line x1="318.90" y1="865.70" x2="346.70" y2="870.39" stroke="#000" stroke-width="0.85" />
<line x1="318.90" y1="868.81" x2="346.70" y2="872.31" stroke="#000" stroke-width="0.85" />
<line x1="318.90" y1="870.69" x2="346.70" y2="874.92" stroke="#000" stroke-width="0.85" />
<line x1="318.90" y1="872.31" x2="346.70" y2="873.68" stroke="#000" stroke-width="0.85" />
<line x1="318.90" y1="874.53" x2="346.70" y2="876.24" stroke="#000" stroke-width="0.85" />
<line x1="318.90" y1="876.20" x2="346.70" y2="880.08" stroke="#000" stroke-width="0.85" />
<line x1="318.90" y1="878.80" x2="346.70" y2="877.52" stroke="#000" stroke-width="0.85" />
<line x1="318.90" y1="881.49" x2="346.70" y2="882.22" stroke="#000" stroke-width="0.85" />
<line x1="318.90" y1="883.59" x2="346.70" y2="883.59" stroke="#000" stroke-width="0.85" />
<path d="M377.40,822.44 C379.57,826.24 379.73,827.18 382.90,833.83 C386.07,840.47 385.90,836.67 386.90,842.37 C387.90,848.06 387.23,845.21 385.90,850.91 C384.57,856.60 384.57,853.75 382.90,859.45 C381.23,865.14 382.23,862.29 380.90,867.99 C379.57,873.68 380.03,870.26 378.90,876.53 C377.77,882.79 378.37,883.36 377.50,886.77 C376.63,890.19 377.17,890.19 376.30,886.77 C375.43,883.36 376.03,882.79 374.90,876.53 C373.77,870.26 374.23,873.68 372.90,867.99 C371.57,862.29 372.57,865.14 370.90,859.45 C369.23,853.75 369.23,856.60 367.90,850.91 C366.57,845.21 365.90,848.06 366.90,842.37 C367.90,836.67 367.73,840.47 370.90,833.83 C374.07,827.18 374.23,826.24 376.40,822.44 C378.57,818.64 375.23,818.64 377.40,822.44 Z" fill="#fff" stroke="#000" stroke-width="0.7"/>
<path d="M409.50,816.18 C410.67,820.16 409.17,820.35 412.00,828.13 C414.83,835.91 416.67,832.88 418.00,839.52 C419.33,846.16 418.00,842.37 416.00,848.06 C414.00,853.75 413.83,850.91 412.00,856.60 C410.17,862.29 411.33,860.40 410.50,865.14 C409.67,869.88 410.17,868.94 409.50,870.83 C408.83,872.73 409.17,872.73 408.50,870.83 C407.83,868.94 408.33,869.88 407.50,865.14 C406.67,860.40 407.83,862.29 406.00,856.60 C404.17,850.91 404.00,853.75 402.00,848.06 C400.00,842.37 398.67,846.16 400.00,839.52 C401.33,832.88 403.17,835.91 406.00,828.13 C408.83,820.35 407.33,820.16 408.50,816.18 C409.67,812.19 408.33,812.19 409.50,816.18 Z" fill="#fff" stroke="#000" stroke-width="0.7"/>
<circle cx="318.90" cy="839.95" r="2.55" fill="#ef4b2b" stroke="#000" stroke-width="0.65"/>
<circle cx="318.90" cy="863.09" r="2.55" fill="#ef4b2b" stroke="#000" stroke-width="0.65"/>
<circle cx="318.90" cy="865.70" r="2.55" fill="#ef4b2b" stroke="#000" stroke-width="0.65"/>
<circle cx="318.90" cy="868.81" r="2.55" fill="#ef4b2b" stroke="#000" stroke-width="0.65"/>
<circle cx="318.90" cy="870.69" r="2.55" fill="#ef4b2b" stroke="#000" stroke-width="0.65"/>
<circle cx="318.90" cy="872.31" r="2.55" fill="#ef4b2b" stroke="#000" stroke-width="0.65"/>
<circle cx="318.90" cy="874.53" r="2.55" fill="#ef4b2b" stroke="#000" stroke-width="0.65"/>
<circle cx="318.90" cy="876.20" r="2.55" fill="#ef4b2b" stroke="#000" stroke-width="0.65"/>
<circle cx="318.90" cy="878.80" r="2.55" fill="#ef4b2b" stroke="#000" stroke-width="0.65"/>
<circle cx="318.90" cy="881.49" r="2.55" fill="#ef4b2b" stroke="#000" stroke-width="0.65"/>
<circle cx="318.90" cy="883.59" r="2.55" fill="#ef4b2b" stroke="#000" stroke-width="0.65"/>
<circle cx="346.70" cy="836.02" r="2.55" fill="#ef4b2b" stroke="#000" stroke-width="0.65"/>
<circle cx="346.70" cy="867.79" r="2.55" fill="#ef4b2b" stroke="#000" stroke-width="0.65"/>
<circle cx="346.70" cy="870.39" r="2.55" fill="#ef4b2b" stroke="#000" stroke-width="0.65"/>
<circle cx="346.70" cy="872.31" r="2.55" fill="#ef4b2b" stroke="#000" stroke-width="0.65"/>
<circle cx="346.70" cy="873.68" r="2.55" fill="#ef4b2b" stroke="#000" stroke-width="0.65"/>
<circle cx="346.70" cy="874.92" r="2.55" fill="#ef4b2b" stroke="#000" stroke-width="0.65"/>
<circle cx="346.70" cy="876.24" r="2.55" fill="#ef4b2b" stroke="#000" stroke-width="0.65"/>
<circle cx="346.70" cy="877.52" r="2.55" fill="#ef4b2b" stroke="#000" stroke-width="0.65"/>
<circle cx="346.70" cy="880.08" r="2.55" fill="#ef4b2b" stroke="#000" stroke-width="0.65"/>
<circle cx="346.70" cy="882.22" r="2.55" fill="#ef4b2b" stroke="#000" stroke-width="0.65"/>
<circle cx="346.70" cy="883.59" r="2.55" fill="#ef4b2b" stroke="#000" stroke-width="0.65"/>
<circle cx="376.90" cy="825.57" r="2.55" fill="#ef4b2b" stroke="#000" stroke-width="0.65"/>
<circle cx="373.50" cy="834.11" r="2.55" fill="#ef4b2b" stroke="#000" stroke-width="0.65"/>
<circle cx="379.50" cy="833.54" r="2.55" fill="#ef4b2b" stroke="#000" stroke-width="0.65"/>
<circle cx="369.00" cy="841.80" r="2.55" fill="#ef4b2b" stroke="#000" stroke-width="0.65"/>
<circle cx="375.60" cy="841.51" r="2.55" fill="#ef4b2b" stroke="#000" stroke-width="0.65"/>
<circle cx="381.40" cy="842.08" r="2.55" fill="#ef4b2b" stroke="#000" stroke-width="0.65"/>
<circle cx="384.80" cy="841.80" r="2.55" fill="#ef4b2b" stroke="#000" stroke-width="0.65"/>
<circle cx="368.20" cy="850.05" r="2.55" fill="#ef4b2b" stroke="#000" stroke-width="0.65"/>
<circle cx="373.50" cy="850.05" r="2.55" fill="#ef4b2b" stroke="#000" stroke-width="0.65"/>
<circle cx="379.50" cy="848.91" r="2.55" fill="#ef4b2b" stroke="#000" stroke-width="0.65"/>
<circle cx="376.90" cy="857.17" r="2.55" fill="#ef4b2b" stroke="#000" stroke-width="0.65"/>
<circle cx="373.50" cy="862.86" r="2.55" fill="#ef4b2b" stroke="#000" stroke-width="0.65"/>
<circle cx="379.50" cy="864.29" r="2.55" fill="#ef4b2b" stroke="#000" stroke-width="0.65"/>
<circle cx="376.90" cy="873.68" r="2.55" fill="#ef4b2b" stroke="#000" stroke-width="0.65"/>
<circle cx="376.90" cy="877.38" r="2.55" fill="#ef4b2b" stroke="#000" stroke-width="0.65"/>
<circle cx="376.90" cy="883.93" r="2.55" fill="#ef4b2b" stroke="#000" stroke-width="0.65"/>
<circle cx="409.00" cy="817.89" r="2.55" fill="#c4ae94" stroke="#000" stroke-width="0.65"/>
<circle cx="403.20" cy="842.08" r="2.55" fill="#c4ae94" stroke="#000" stroke-width="0.65"/>
<circle cx="409.00" cy="840.94" r="2.55" fill="#c4ae94" stroke="#000" stroke-width="0.65"/>
<circle cx="415.00" cy="842.08" r="2.55" fill="#c4ae94" stroke="#000" stroke-width="0.65"/>
<circle cx="406.40" cy="846.35" r="2.55" fill="#c4ae94" stroke="#000" stroke-width="0.65"/>
<circle cx="412.40" cy="845.78" r="2.55" fill="#c4ae94" stroke="#000" stroke-width="0.65"/>
<circle cx="409.00" cy="855.75" r="2.55" fill="#c4ae94" stroke="#000" stroke-width="0.65"/>
<circle cx="409.00" cy="868.84" r="2.55" fill="#c4ae94" stroke="#000" stroke-width="0.65"/>
<g stroke="#6d6e71" stroke-width="0.8" fill="none">
<line x1="556.30" y1="813.70" x2="556.30" y2="899.80"/>
<line x1="643.10" y1="813.70" x2="643.10" y2="899.80"/>
<line x1="556.30" y1="899.40" x2="608.10" y2="899.40"/>
<line x1="611.70" y1="899.40" x2="643.10" y2="899.40"/>
<line x1="552.50" y1="899.40" x2="556.30" y2="899.40"/>
<line x1="552.50" y1="878.08" x2="556.30" y2="878.08"/>
<line x1="552.50" y1="856.75" x2="556.30" y2="856.75"/>
<line x1="552.50" y1="835.43" x2="556.30" y2="835.43"/>
<line x1="552.50" y1="814.10" x2="556.30" y2="814.10"/>
<line x1="643.10" y1="899.40" x2="646.90" y2="899.40"/>
<line x1="643.10" y1="870.97" x2="646.90" y2="870.97"/>
<line x1="643.10" y1="842.53" x2="646.90" y2="842.53"/>
<line x1="643.10" y1="814.10" x2="646.90" y2="814.10"/>
<line x1="567.40" y1="899.40" x2="567.40" y2="903.20"/>
<line x1="595.80" y1="899.40" x2="595.80" y2="903.20"/>
<line x1="626.00" y1="899.40" x2="626.00" y2="903.20"/>
</g>
<text x="548.70" y="902.57" font-size="10.2" text-anchor="end" stroke="#231f20" stroke-width="0.16" >0.0</text>
<text x="548.70" y="881.25" font-size="10.2" text-anchor="end" stroke="#231f20" stroke-width="0.16" >0.1</text>
<text x="548.70" y="859.92" font-size="10.2" text-anchor="end" stroke="#231f20" stroke-width="0.16" >0.2</text>
<text x="548.70" y="838.60" font-size="10.2" text-anchor="end" stroke="#231f20" stroke-width="0.16" >0.3</text>
<text x="548.70" y="817.27" font-size="10.2" text-anchor="end" stroke="#231f20" stroke-width="0.16" >0.4</text>
<text x="650.50" y="902.57" font-size="10.2" text-anchor="start" stroke="#231f20" stroke-width="0.16" >0</text>
<text x="650.50" y="874.14" font-size="10.2" text-anchor="start" stroke="#231f20" stroke-width="0.16" >50</text>
<text x="650.50" y="845.71" font-size="10.2" text-anchor="start" stroke="#231f20" stroke-width="0.16" >100</text>
<text x="650.50" y="817.27" font-size="10.2" text-anchor="start" stroke="#231f20" stroke-width="0.16" >150</text>
<text x="567.40" y="916.09" font-size="9.7" text-anchor="middle" stroke="#231f20" stroke-width="0.16" >Ctrl</text>
<text x="595.80" y="916.09" font-size="9.7" text-anchor="middle" stroke="#231f20" stroke-width="0.16" >TGOT</text>
<text x="626.00" y="916.09" font-size="9.7" text-anchor="middle" stroke="#231f20" stroke-width="0.16"  textLength="27.6" lengthAdjust="spacingAndGlyphs">ΔTGOT</text>
<text x="0" y="3.92" font-size="10.9" text-anchor="middle" transform="translate(524.30,856.90) rotate(-90)" stroke="#231f20" stroke-width="0.16" >CVBA activity (µV)</text>
<text x="0" y="3.78" font-size="10.5" text-anchor="middle" transform="translate(681.20,856.90) rotate(90)" stroke="#231f20" stroke-width="0.16" >Δ CVBA activity (%)</text>
<line x1="567.40" y1="864.43" x2="595.80" y2="842.89" stroke="#000" stroke-width="0.85" />
<line x1="567.40" y1="867.41" x2="595.80" y2="861.44" stroke="#000" stroke-width="0.85" />
<line x1="567.40" y1="875.52" x2="595.80" y2="864.43" stroke="#000" stroke-width="0.85" />
<line x1="567.40" y1="877.01" x2="595.80" y2="853.98" stroke="#000" stroke-width="0.85" />
<line x1="567.40" y1="880.85" x2="595.80" y2="866.35" stroke="#000" stroke-width="0.85" />
<line x1="567.40" y1="891.30" x2="595.80" y2="882.34" stroke="#000" stroke-width="0.85" />
<line x1="567.40" y1="866.35" x2="595.80" y2="833.51" stroke="#000" stroke-width="0.85" />
<path d="M627.00,835.03 C629.93,835.06 632.13,832.64 633.80,835.14 C635.47,837.64 633.37,838.17 632.00,842.53 C630.63,846.89 630.03,843.48 629.70,848.22 C629.37,852.96 629.40,851.06 631.00,856.75 C632.60,862.44 633.17,860.16 634.50,865.28 C635.83,870.40 635.17,868.50 635.00,872.10 C634.83,875.71 636.67,874.68 634.00,876.08 C631.33,877.49 630.00,876.24 627.00,876.31 C624.00,876.39 628.00,876.39 625.00,876.31 C622.00,876.24 620.67,877.49 618.00,876.08 C615.33,874.68 617.17,875.71 617.00,872.10 C616.83,868.50 616.17,870.40 617.50,865.28 C618.83,860.16 619.40,862.44 621.00,856.75 C622.60,851.06 622.63,852.96 622.30,848.22 C621.97,843.48 621.37,846.89 620.00,842.53 C618.63,838.17 616.53,837.64 618.20,835.14 C619.87,832.64 622.07,835.06 625.00,835.03 C627.93,834.99 624.07,834.99 627.00,835.03 Z" fill="#fff" stroke="#000" stroke-width="0.7"/>
<line x1="618.00" y1="861.30" x2="634.00" y2="861.30" stroke="#555" stroke-width="0.5" stroke-dasharray="1.5,1"/>
<line x1="617.50" y1="873.24" x2="634.50" y2="873.24" stroke="#555" stroke-width="0.5" stroke-dasharray="1.5,1"/>
<circle cx="567.40" cy="864.43" r="2.55" fill="#ef4b2b" stroke="#000" stroke-width="0.65"/>
<circle cx="567.40" cy="867.41" r="2.55" fill="#ef4b2b" stroke="#000" stroke-width="0.65"/>
<circle cx="567.40" cy="875.52" r="2.55" fill="#ef4b2b" stroke="#000" stroke-width="0.65"/>
<circle cx="567.40" cy="877.01" r="2.55" fill="#ef4b2b" stroke="#000" stroke-width="0.65"/>
<circle cx="567.40" cy="880.85" r="2.55" fill="#ef4b2b" stroke="#000" stroke-width="0.65"/>
<circle cx="567.40" cy="891.30" r="2.55" fill="#ef4b2b" stroke="#000" stroke-width="0.65"/>
<circle cx="567.40" cy="866.35" r="2.55" fill="#ef4b2b" stroke="#000" stroke-width="0.65"/>
<circle cx="595.80" cy="833.51" r="2.55" fill="#ef4b2b" stroke="#000" stroke-width="0.65"/>
<circle cx="595.80" cy="842.89" r="2.55" fill="#ef4b2b" stroke="#000" stroke-width="0.65"/>
<circle cx="595.80" cy="853.98" r="2.55" fill="#ef4b2b" stroke="#000" stroke-width="0.65"/>
<circle cx="595.80" cy="861.44" r="2.55" fill="#ef4b2b" stroke="#000" stroke-width="0.65"/>
<circle cx="595.80" cy="864.43" r="2.55" fill="#ef4b2b" stroke="#000" stroke-width="0.65"/>
<circle cx="595.80" cy="866.35" r="2.55" fill="#ef4b2b" stroke="#000" stroke-width="0.65"/>
<circle cx="595.80" cy="882.34" r="2.55" fill="#ef4b2b" stroke="#000" stroke-width="0.65"/>
<circle cx="626.90" cy="835.31" r="2.55" fill="#ef4b2b" stroke="#000" stroke-width="0.65"/>
<circle cx="626.00" cy="839.80" r="2.55" fill="#ef4b2b" stroke="#000" stroke-width="0.65"/>
<circle cx="626.00" cy="854.48" r="2.55" fill="#ef4b2b" stroke="#000" stroke-width="0.65"/>
<circle cx="624.50" cy="862.89" r="2.55" fill="#ef4b2b" stroke="#000" stroke-width="0.65"/>
<circle cx="628.40" cy="862.89" r="2.55" fill="#ef4b2b" stroke="#000" stroke-width="0.65"/>
<circle cx="626.00" cy="870.91" r="2.55" fill="#ef4b2b" stroke="#000" stroke-width="0.65"/>
<circle cx="626.00" cy="874.78" r="2.55" fill="#ef4b2b" stroke="#000" stroke-width="0.65"/>
<text x="582.00" y="816.81" font-size="9.2" text-anchor="middle" stroke="#231f20" stroke-width="0.16" >P = 0.0020</text>
<polyline points="567.40,822.20 567.40,820.00 595.80,820.00 595.80,822.20" fill="none" stroke="#333" stroke-width="0.8"/>
<text x="46.20" y="21.69" font-size="10.8" text-anchor="middle" stroke="#231f20" stroke-width="0.16" >Wistar rats</text>
<text x="113.00" y="29.39" font-size="10.8" text-anchor="middle" fill="#e82ce8" stroke="#e82ce8" stroke-width="0.16" >TGOT</text>
<text x="112.30" y="42.29" font-size="10.8" text-anchor="middle" fill="#e82ce8" stroke="#e82ce8" stroke-width="0.16" >or vehicle</text>
<path d="M0,45.9 C12,40 28,35.2 40,35.3 C48,35.4 53,37 55.4,41.1 C60,43 66,43.2 70.8,41.5 C74,40.8 79,40.8 83.2,42.2 C85.5,43 87.5,43.6 88.4,44.4 C89.8,45.6 90.6,46.8 91.3,48 C92.5,50 93.5,52.5 94.2,54.6 C95.5,57.5 96.6,60.5 97.2,63.4 C97.5,65.5 96.8,67.8 95.7,69.2 C97,70 98.5,70.8 100,71.4" fill="none" stroke="#000" stroke-width="0.8" stroke-linejoin="round" stroke-linecap="round" />
<path d="M55.4,41.1 L48.2,47.5" fill="none" stroke="#000" stroke-width="0.8" stroke-linejoin="round" stroke-linecap="round" />
<path d="M70.1,42.8 C71.5,44.5 72.6,45.8 72.3,47.3 C71.5,50 68.5,52.5 67.2,54.6 C66.3,56 66.4,57.5 66.8,58.5 C67.5,60 68.3,61 69.4,61.9 C70.5,63.3 71.6,64.6 73,65.5 C75,66.5 77.5,66.9 79.6,67 C82,67.2 84.5,67.3 86.9,67.7 C89.5,68.2 92,69.1 94.2,69.9 C96,70.5 97.7,70.9 99.3,71.4" fill="none" stroke="#000" stroke-width="0.8" stroke-linejoin="round" stroke-linecap="round" />
<path d="M0,76.4 C10,78 20,82 28.1,84.4 L29.7,83.2 C37,83.6 46,81 52.2,74.6 L53,73.2 L53.6,75.4 C54,79.5 57,83 62,84.3 C68,85.6 74,86.5 79.6,86.7 C84,86.8 87.5,84.8 90.5,83.8 C93.5,82.8 96.5,82.2 99.3,82.1" fill="none" stroke="#000" stroke-width="0.8" stroke-linejoin="round" stroke-linecap="round" />
<circle cx="78.8" cy="80.5" r="8.5" fill="url(#glow)"/>
<polygon points="78.6,78.3 90.5,53.1 94.9,55.3 81.2,78.6" fill="#e600e8"/>
<path d="M79.6,78.2 L92.4,47.3 M80.1,78.3 L94.9,46.9 M80.6,78.4 L98.2,50.2" fill="none" stroke="#000" stroke-width="0.65" stroke-linejoin="round" stroke-linecap="round" />
<path d="M97.1,45.1 L105.9,49.5" fill="none" stroke="#000" stroke-width="0.7" stroke-linejoin="round" stroke-linecap="round" />
<path d="M100.5,51.5 L103,53.5 M100,54.6 L103.2,51.2" fill="none" stroke="#000" stroke-width="0.6" stroke-linejoin="round" stroke-linecap="round" />
<path d="M104.4,51.1 L108.8,48.8 L109.5,53.5 Z" fill="#fff" stroke="#000" stroke-width="0.7" stroke-linejoin="round" stroke-linecap="round" />
<rect x="70.1" y="75.4" width="16.8" height="2.2" fill="#fff" stroke="#000" stroke-width="0.65"/>
<rect x="75.9" y="78" width="5.9" height="5.1" fill="#e600e8" stroke="#000" stroke-width="0.65"/>
<text x="95.80" y="81.29" font-size="10.8" text-anchor="middle" stroke="#231f20" stroke-width="0.16" >nA</text>
<text x="76.20" y="99.59" font-size="10.8" text-anchor="middle" stroke="#231f20" stroke-width="0.16" >preBötC</text>
<text x="45.70" y="294.29" font-size="10.8" text-anchor="middle" stroke="#231f20" stroke-width="0.16" >Wistar rats</text>
<text x="60.60" y="317.39" font-size="10.8" text-anchor="middle" fill="#e82ce8" stroke="#e82ce8" stroke-width="0.16" >TGOT</text>
<text x="60.20" y="330.09" font-size="10.8" text-anchor="middle" fill="#e82ce8" stroke="#e82ce8" stroke-width="0.16" >or vehicle</text>
<path d="M8,329.9 L26.3,332.8 C29,334.5 28.5,336.5 26,339 C22,343 21,348 23,351.5 C25.5,356 28,358.8 31.4,359.8 C37,361.3 44,361.5 48.2,362 C53,363 58,365 62.8,367.1" fill="none" stroke="#000" stroke-width="0.75" stroke-linejoin="round" stroke-linecap="round" />
<path d="M8,329.9 L6.6,369.3 L8,370.7 M6.6,370.7 C7,375 10,378.5 14.6,380.2 C22,382.6 30,383.4 36.5,383.1 C42,382.8 46,381.8 49.6,381 C54,380 58,379.4 61.3,378.8" fill="none" stroke="#000" stroke-width="0.75" stroke-linejoin="round" stroke-linecap="round" />
<polygon points="36.6,374.3 51.6,345.2 55.8,346.6 38.6,374.8" fill="#e600e8"/>
<path d="M37.2,374.2 L54,337.2 M37.8,374.2 L57,339 M38.4,374.4 L59.9,340.8" fill="none" stroke="#000" stroke-width="0.6" stroke-linejoin="round" stroke-linecap="round" />
<path d="M58.4,335 L62.5,335 L62.5,341.5 M62.5,342.5 L60.5,344.2" fill="none" stroke="#000" stroke-width="0.6" stroke-linejoin="round" stroke-linecap="round" />
<path d="M66.6,344 L73.7,344.5 L69,339.6 Z" fill="#fff" stroke="#000" stroke-width="0.6" stroke-linejoin="round" stroke-linecap="round" />
<circle cx="36.8" cy="376.8" r="8" fill="url(#glow)"/>
<rect x="27" y="371.4" width="20.4" height="1.8" fill="#fff" stroke="#000" stroke-width="0.6"/>
<rect x="34.3" y="373.4" width="5.1" height="6.2" fill="#e600e8" stroke="#000" stroke-width="0.6"/>
<text x="55.80" y="377.89" font-size="10.8" text-anchor="middle" stroke="#231f20" stroke-width="0.16" >nA</text>
<text x="34.60" y="396.49" font-size="10.8" text-anchor="middle" stroke="#231f20" stroke-width="0.16" >preBötC</text>
<defs><linearGradient id="bluebar" x1="0" x2="1" y1="0" y2="0"><stop offset="0" stop-color="#ffffff"/><stop offset="0.45" stop-color="#5f78e0"/><stop offset="1" stop-color="#1d3fc4"/></linearGradient></defs>
<path d="M94.6,384.5 L94.6,396.5 L292.3,401.1" fill="none" stroke="#000" stroke-width="0.9" stroke-linejoin="round" stroke-linecap="round" />
<polygon points="180,396.9 292.3,399.2 292.3,403.2 180,400.9" fill="url(#bluebar)"/>
<path d="M292.1,385 L292.1,403.6" fill="none" stroke="#000" stroke-width="0.9" stroke-linejoin="round" stroke-linecap="round" />
<path d="M109.6,361 C113,358 116,357 119.5,356 C126,353.5 133,350.5 139.5,349.5 C141,351 142,353.5 142.5,354.5 C144,357.5 146,359.5 148,360.5 C150,361.7 152.5,362.4 155,362.4 M179.3,351.4 C182,348.5 184.5,345.5 187,343.7 C191,341.2 195.5,339.6 200,338.4 C211,334.5 222,331 233.3,328.4 C241,326 249,324 256.3,322.3 C264,320.6 272,319.4 280.8,318.4 C288,317.4 294,316.6 300,316.1 C306,315.8 312,315.7 316.5,316 C319.5,316.5 320,319 318.5,321" fill="none" stroke="#000" stroke-width="0.8" stroke-linejoin="round" stroke-linecap="round" />
<path d="M109.6,361 C108.5,364 109,367.5 110.3,369.8 C112,372.5 115,374.5 118,375.9 C123,378.5 128,381 133.3,382 C141,383 149,381.8 156.3,381.3 C163,380.5 170,378.5 176.2,376.7 C173,378.5 170,379.5 168,379.8 M172,379 C180,380 188,381 195,381.3 C203,381.8 211,382.5 218,383.6 C225,384.6 230,386 234.9,388.2 C239,391 242.5,394 245.6,397.4 C247.5,400 249,402.5 250.2,405" fill="none" stroke="#000" stroke-width="0.8" stroke-linejoin="round" stroke-linecap="round" />
<path d="M231,359.5 C232,365 233,371 234.9,375.9 C243,378 252,379 259.4,379 C266,379 274,378.7 280.8,379 C284,379.4 286,380.3 285.8,381.5 C285,382.8 283.5,383 282.4,382.8 C273,382.6 264,382.3 256.3,382 C252,381.8 248,381.7 244,381.8" fill="none" stroke="#000" stroke-width="0.8" stroke-linejoin="round" stroke-linecap="round" />
<path d="M254.8,382 C256.5,387 258,391.5 259.4,395.8 C260.5,399 261.5,402 262.4,405" fill="none" stroke="#000" stroke-width="0.8" stroke-linejoin="round" stroke-linecap="round" />
<path d="M119.5,362.9 C122.5,364 124.5,366 124.1,368.5 C123.8,370 123.2,371.2 122.6,372.1" fill="none" stroke="#000" stroke-width="0.7" stroke-linejoin="round" stroke-linecap="round" />
<path d="M110.8,363 C111.5,365 111.3,367 110.5,368.5" fill="none" stroke="#000" stroke-width="0.6" stroke-linejoin="round" stroke-linecap="round" />
<ellipse cx="136" cy="358" rx="3.4" ry="2.2" fill="#fff" stroke="#000" stroke-width="0.7" transform="rotate(-25 136 358)"/>
<path d="M154.5,362.5 C155,356 155.3,351 156.3,346.8 C158.5,349 160,351 162.4,352.2 C168,352.5 174,351.8 179.3,351.4 C178.5,353 178,354.2 177.8,355.2 C175,357.5 172,359.5 168.6,360.6 C164,362 160,362.5 156.3,362.5 Z" fill="#f2de36" stroke="#000" stroke-width="0.6" stroke-linejoin="round" stroke-linecap="round" />
<path d="M260.9,335.3 C256,339 253.5,342 253.2,345.3 C251.5,349 250.5,352 250.2,356 C250,359 250.3,361.5 251,363.6 C252,365.5 253,367 254.8,368.2" fill="none" stroke="#000" stroke-width="0.75" stroke-linejoin="round" stroke-linecap="round" />
<rect x="218.8" y="346.5" width="26" height="12.5" rx="5.5" fill="#fff" stroke="#000" stroke-width="0.7"/>
<path d="M219.5,353.7 L229.5,353.7 M234,352.6 C238,352.8 241,353.2 244,353.7" fill="none" stroke="#000" stroke-width="1.5" stroke-linejoin="round" stroke-linecap="round" />
<path d="M219.5,353.7 L229.5,353.7 M234,352.6 C238,352.8 241,353.2 244,353.7" fill="none" stroke="#f2de36" stroke-width="0.9" stroke-linejoin="round" stroke-linecap="round" />
<path d="M230.3,341 L230.3,353.5" fill="none" stroke="#000" stroke-width="1.5" stroke-linejoin="round" stroke-linecap="round" />
<path d="M230.3,341 L230.3,353.5" fill="none" stroke="#f2de36" stroke-width="0.9" stroke-linejoin="round" stroke-linecap="round" />
<path d="M267,331.3 C278,327.5 290,325 301,323.8 L301,328.6 C290,329.2 279,331 268,333.3 Z" fill="#d3262b" stroke="#000" stroke-width="0.5" stroke-linejoin="round" stroke-linecap="round" />
<path d="M250.5,356.5 C252.5,358.5 254,361 257,363 C261,362 267,362.5 273,364.8 C279,367.5 283,371.5 282.6,375.5 C281,378.2 273,378 265,376.5 C258.5,375 254,372 252,368 C250.5,364.5 250,360 250.5,356.5 Z" fill="#d3262b" stroke="#000" stroke-width="0.6" stroke-linejoin="round" stroke-linecap="round" />
<path d="M252.5,361 C254,363.5 256,366 258.5,367.5 M255,360 C257,362.5 259,364.5 262,366" fill="none" stroke="#fff" stroke-width="0.5" stroke-linejoin="round" stroke-linecap="round" />
<path d="M251.7,314.5 C252,318 252.8,321 253.2,322.3 C255,326 257,328.5 259.4,330 C263,333 267.5,335 271.6,336.8 C274.5,338.5 277,340 277.8,342.2 C278.5,345 277.5,347 276.2,347.6 C273,348.8 270,348.6 267,348.3 C263,347.8 259.5,346.5 256.3,345.3 M251.7,356 C254,358.5 257.5,361 260.9,362.9" fill="none" stroke="#000" stroke-width="1.6" stroke-linejoin="round" stroke-linecap="round" />
<path d="M251.7,314.5 C252,318 252.8,321 253.2,322.3 C255,326 257,328.5 259.4,330 C263,333 267.5,335 271.6,336.8 C274.5,338.5 277,340 277.8,342.2 C278.5,345 277.5,347 276.2,347.6 C273,348.8 270,348.6 267,348.3 C263,347.8 259.5,346.5 256.3,345.3 M251.7,356 C254,358.5 257.5,361 260.9,362.9" fill="none" stroke="#f2de36" stroke-width="0.95" stroke-linejoin="round" stroke-linecap="round" />
<rect x="281" y="317.6" width="19.5" height="3.6" fill="#f2de36" stroke="#000" stroke-width="0.5"/>
<path d="M283,319.4 L298.5,319.4" fill="none" stroke="#6b5d00" stroke-width="0.5" stroke-linejoin="round" stroke-linecap="round" stroke-dasharray="1,0.8"/>
<rect x="301" y="325.4" width="8.5" height="4" fill="#1c2473" stroke="#000" stroke-width="0.4"/>
<path d="M280.7,287.7 L285.7,285.09999999999997 L285.7,290.3 Z" fill="#fff" stroke="#000" stroke-width="0.6" stroke-linejoin="round" stroke-linecap="round" />
<path d="M285.7,287.7 L288,287.7 L288,284.3 L291.4,284.3 L291.4,309" fill="none" stroke="#000" stroke-width="0.7" stroke-linejoin="round" stroke-linecap="round" />
<path d="M289.0,309 L293.79999999999995,309 L291.4,314 Z" fill="#fff" stroke="#000" stroke-width="0.6" stroke-linejoin="round" stroke-linecap="round" />
<path d="M286.5,284.3 L290,284.3" fill="none" stroke="#000" stroke-width="0.6" stroke-linejoin="round" stroke-linecap="round" />
<path d="M229.5,303 L234.5,300.4 L234.5,305.6 Z" fill="#fff" stroke="#000" stroke-width="0.6" stroke-linejoin="round" stroke-linecap="round" />
<path d="M234.5,303 L237,303 L237,300 L239,300 L239,305 L251,305 L251,310.5" fill="none" stroke="#000" stroke-width="0.7" stroke-linejoin="round" stroke-linecap="round" />
<path d="M248.6,310.5 L253.4,310.5 L251,315.5 Z" fill="#fff" stroke="#000" stroke-width="0.6" stroke-linejoin="round" stroke-linecap="round" />
<path d="M218.5,321.4 L223.5,318.79999999999995 L223.5,324.0 Z" fill="#fff" stroke="#000" stroke-width="0.6" stroke-linejoin="round" stroke-linecap="round" />
<path d="M223.5,321.4 L226,321.4 L226,318.3 L228,318.3 L228,320.5 L230.4,320.5 L230.4,338" fill="none" stroke="#000" stroke-width="0.7" stroke-linejoin="round" stroke-linecap="round" />
<path d="M228.0,338 L232.8,338 L230.4,343 Z" fill="#fff" stroke="#000" stroke-width="0.6" stroke-linejoin="round" stroke-linecap="round" />
<text x="222.90" y="291.66" font-size="11" text-anchor="middle" stroke="#231f20" stroke-width="0.16" >T8 sympathetic chain</text>
<text x="189.40" y="306.96" font-size="11" text-anchor="middle" stroke="#231f20" stroke-width="0.16" >Phrenic nerve</text>
<text x="163.30" y="325.36" font-size="11" text-anchor="middle" stroke="#231f20" stroke-width="0.16" >Cardiac vagal nerve</text>
<text x="356.80" y="290.66" font-size="11" text-anchor="middle" stroke="#231f20" stroke-width="0.16" >Blood pressure</text>
<text x="260.80" y="359.26" font-size="11" text-anchor="start" stroke="#231f20" stroke-width="0.16" >ECG (HR)</text>
<path d="M309.5,327.4 C318,327.4 322,325.5 327,316 C333,304 340,298.6 351,298.5 L360,298.5" fill="none" stroke="#1d3fc4" stroke-width="1.9" stroke-linejoin="round" stroke-linecap="round" />
<rect x="358.6" y="294.8" width="7.4" height="7.4" fill="#000"/>
<path d="M309.5,328 C316,328 321.8,330 321.8,335 L321.8,369 L354.2,369 L354.2,316.8 L369.5,316.8 L369.5,392" fill="none" stroke="#1d3fc4" stroke-width="1.9" stroke-linejoin="round" stroke-linecap="round" />
<rect x="335.6" y="363.2" width="7.8" height="11.6" rx="2" fill="#fff" stroke="#000" stroke-width="0.6"/>
<path d="M334.5,366 L344.5,366 M334.5,372 L344.5,372" fill="none" stroke="#000" stroke-width="0.6" stroke-linejoin="round" stroke-linecap="round" />
<rect x="351.3" y="327.5" width="5.8" height="30.5" rx="1.5" fill="#fff" stroke="#000" stroke-width="0.6"/>
<path d="M354.2,330 L354.2,355" fill="none" stroke="#1d3fc4" stroke-width="1.4" stroke-linejoin="round" stroke-linecap="round" />
<rect x="363.4" y="319.9" width="10.7" height="21.4" rx="2.5" fill="#fff" stroke="#000" stroke-width="0.7"/>
<path d="M365.5,358.5 L365.5,350" fill="none" stroke="#000" stroke-width="0.8" stroke-linejoin="round" stroke-linecap="round" />
<path d="M363.8,351.5 L365.5,348 L367.2,351.5 Z" fill="#000" stroke="#000" stroke-width="0.5" stroke-linejoin="round" stroke-linecap="round" />
<defs><linearGradient id="flask" x1="0" x2="0" y1="0" y2="1"><stop offset="0" stop-color="#3552e0"/><stop offset="1" stop-color="#1d36c0"/></linearGradient></defs>
<path d="M362,373.4 L362,378.5 L354.3,404.2 L386.2,404.2 L378.5,378.5 L378.5,373.4" fill="url(#flask)" stroke="#000" stroke-width="0.7" stroke-linejoin="round" stroke-linecap="round" />
<ellipse cx="370.2" cy="373.6" rx="8.3" ry="1.6" fill="#8c9ef0" stroke="#000" stroke-width="0.5"/>
<circle cx="366" cy="392" r="0.55" fill="#fff"/>
<circle cx="370" cy="398" r="0.55" fill="#fff"/>
<circle cx="373" cy="389" r="0.55" fill="#fff"/>
<circle cx="368" cy="385" r="0.55" fill="#fff"/>
<circle cx="375" cy="400" r="0.55" fill="#fff"/>
<circle cx="372" cy="395" r="0.55" fill="#fff"/>
<circle cx="364" cy="399" r="0.55" fill="#fff"/>
<circle cx="371" cy="383" r="0.55" fill="#fff"/>
<path d="M372.5,378 L372.5,368.9 L392.5,368.9 L392.5,375" fill="none" stroke="#9a9a9a" stroke-width="0.9" stroke-linejoin="round" stroke-linecap="round" />
<path d="M372.8,378 L372.8,400" fill="none" stroke="#bbbbbb" stroke-width="0.7" stroke-linejoin="round" stroke-linecap="round" />
<path d="M365.2,392 L365.2,369.9 L361.7,369.9 L333.7,394.4 C331,396.5 328,398.5 322,399.2 L292.5,400" fill="none" stroke="#1d3fc4" stroke-width="1.9" stroke-linejoin="round" stroke-linecap="round" />
<circle cx="377.1" cy="356" r="6.7" fill="#1c2473" stroke="#000" stroke-width="0.5"/>
<circle cx="377.10" cy="353.00" r="1.5" fill="#fff"/>
<circle cx="374.50" cy="357.50" r="1.5" fill="#fff"/>
<circle cx="379.70" cy="357.50" r="1.5" fill="#fff"/>
<circle cx="326.6" cy="392.8" r="6.7" fill="#1c2473" stroke="#000" stroke-width="0.5"/>
<circle cx="326.60" cy="389.80" r="1.5" fill="#fff"/>
<circle cx="324.00" cy="394.30" r="1.5" fill="#fff"/>
<circle cx="329.20" cy="394.30" r="1.5" fill="#fff"/>
<path d="M314.3,403.8 L325,403.8" fill="none" stroke="#000" stroke-width="0.9" stroke-linejoin="round" stroke-linecap="round" />
<path d="M324,402.1 L327.5,403.8 L324,405.5 Z" fill="#000" stroke="#000" stroke-width="0.5" stroke-linejoin="round" stroke-linecap="round" />
<text x="332.70" y="336.01" font-size="9.2" text-anchor="middle" stroke="#231f20" stroke-width="0.16" >Bubble</text>
<text x="332.70" y="344.01" font-size="9.2" text-anchor="middle" stroke="#231f20" stroke-width="0.16" >trap</text>
<text x="338.80" y="360.61" font-size="9.2" text-anchor="middle" stroke="#231f20" stroke-width="0.16" >Filter</text>
<text x="396.50" y="330.81" font-size="9.2" text-anchor="middle" stroke="#231f20" stroke-width="0.16" >Heat</text>
<text x="396.50" y="338.51" font-size="9.2" text-anchor="middle" stroke="#231f20" stroke-width="0.16" >exchanger</text>
<text x="386.30" y="354.31" font-size="9.2" text-anchor="start" stroke="#231f20" stroke-width="0.16" >Roller</text>
<text x="386.30" y="362.31" font-size="9.2" text-anchor="start" stroke="#231f20" stroke-width="0.16" >pump</text>
<text x="295.30" y="389.11" font-size="9.2" text-anchor="start" stroke="#231f20" stroke-width="0.16" >Roller</text>
<text x="295.30" y="397.31" font-size="9.2" text-anchor="start" stroke="#231f20" stroke-width="0.16" >pump</text>
<text x="380.00" y="383.51" font-size="9.2" text-anchor="start" stroke="#231f20" stroke-width="0.16" >Carbogen</text>
<g stroke="#6d6e71" stroke-width="0.8">
<line x1="535.4" y1="290.1" x2="535.4" y2="376.2"/>
<line x1="535" y1="375.8" x2="634.6" y2="375.8"/>
<line x1="531.6" y1="375.80" x2="535.4" y2="375.80"/>
<line x1="531.6" y1="358.74" x2="535.4" y2="358.74"/>
<line x1="531.6" y1="341.68" x2="535.4" y2="341.68"/>
<line x1="531.6" y1="324.62" x2="535.4" y2="324.62"/>
<line x1="531.6" y1="307.56" x2="535.4" y2="307.56"/>
<line x1="531.6" y1="290.50" x2="535.4" y2="290.50"/>
<line x1="535.40" y1="375.8" x2="535.40" y2="379.6"/>
<line x1="560.10" y1="375.8" x2="560.10" y2="379.6"/>
<line x1="584.80" y1="375.8" x2="584.80" y2="379.6"/>
<line x1="609.50" y1="375.8" x2="609.50" y2="379.6"/>
<line x1="634.20" y1="375.8" x2="634.20" y2="379.6"/>
</g>
<text x="528.40" y="378.97" font-size="10.2" text-anchor="end" stroke="#231f20" stroke-width="0.16" >0</text>
<text x="528.40" y="361.91" font-size="10.2" text-anchor="end" stroke="#231f20" stroke-width="0.16" >1</text>
<text x="528.40" y="344.85" font-size="10.2" text-anchor="end" stroke="#231f20" stroke-width="0.16" >2</text>
<text x="528.40" y="327.79" font-size="10.2" text-anchor="end" stroke="#231f20" stroke-width="0.16" >3</text>
<text x="528.40" y="310.73" font-size="10.2" text-anchor="end" stroke="#231f20" stroke-width="0.16" >4</text>
<text x="528.40" y="293.67" font-size="10.2" text-anchor="end" stroke="#231f20" stroke-width="0.16" >5</text>
<text x="535.40" y="392.07" font-size="10.2" text-anchor="middle" stroke="#231f20" stroke-width="0.16" >0</text>
<text x="560.10" y="392.07" font-size="10.2" text-anchor="middle" stroke="#231f20" stroke-width="0.16" >1</text>
<text x="584.80" y="392.07" font-size="10.2" text-anchor="middle" stroke="#231f20" stroke-width="0.16" >2</text>
<text x="609.50" y="392.07" font-size="10.2" text-anchor="middle" stroke="#231f20" stroke-width="0.16" >3</text>
<text x="634.20" y="392.07" font-size="10.2" text-anchor="middle" stroke="#231f20" stroke-width="0.16" >4</text>
<line x1="541.90" y1="371.60" x2="619.70" y2="322.70" stroke="#111" stroke-width="0.9" />
<circle cx="541.90" cy="363.63" r="2.55" fill="#ef4b2b" stroke="#000" stroke-width="0.65"/>
<circle cx="543.54" cy="365.96" r="2.55" fill="#ef4b2b" stroke="#000" stroke-width="0.65"/>
<circle cx="549.14" cy="356.15" r="2.55" fill="#ef4b2b" stroke="#000" stroke-width="0.65"/>
<circle cx="557.79" cy="365.96" r="2.55" fill="#ef4b2b" stroke="#000" stroke-width="0.65"/>
<circle cx="559.65" cy="375.30" r="2.55" fill="#ef4b2b" stroke="#000" stroke-width="0.65"/>
<circle cx="565.03" cy="355.68" r="2.55" fill="#ef4b2b" stroke="#000" stroke-width="0.65"/>
<circle cx="566.43" cy="355.22" r="2.55" fill="#ef4b2b" stroke="#000" stroke-width="0.65"/>
<circle cx="570.63" cy="352.65" r="2.55" fill="#ef4b2b" stroke="#000" stroke-width="0.65"/>
<circle cx="570.17" cy="323.91" r="2.55" fill="#ef4b2b" stroke="#000" stroke-width="0.65"/>
<circle cx="577.41" cy="371.57" r="2.55" fill="#ef4b2b" stroke="#000" stroke-width="0.65"/>
<circle cx="577.41" cy="348.44" r="2.55" fill="#ef4b2b" stroke="#000" stroke-width="0.65"/>
<circle cx="580.44" cy="343.77" r="2.55" fill="#ef4b2b" stroke="#000" stroke-width="0.65"/>
<circle cx="583.01" cy="373.44" r="2.55" fill="#ef4b2b" stroke="#000" stroke-width="0.65"/>
<circle cx="584.88" cy="354.52" r="2.55" fill="#ef4b2b" stroke="#000" stroke-width="0.65"/>
<circle cx="591.42" cy="335.36" r="2.55" fill="#ef4b2b" stroke="#000" stroke-width="0.65"/>
<circle cx="598.43" cy="349.14" r="2.55" fill="#ef4b2b" stroke="#000" stroke-width="0.65"/>
<circle cx="619.45" cy="297.29" r="2.55" fill="#ef4b2b" stroke="#000" stroke-width="0.65"/>
<text x="581.9" y="292.61" font-size="9.2" text-anchor="middle"><tspan font-style="italic">R</tspan><tspan font-size="6" dy="-3.5">2</tspan><tspan dy="3.5"> = 42%, </tspan><tspan font-style="italic">P</tspan> = 0.0050</text>
<text x="0" y="3.71" font-size="10.3" text-anchor="middle" transform="translate(497.50,333.70) rotate(-90)" stroke="#231f20" stroke-width="0.16" >Δ RespHRV</text>
<text x="0" y="3.71" font-size="10.3" text-anchor="middle" transform="translate(510.40,333.70) rotate(-90)" stroke="#231f20" stroke-width="0.16" >(bpm)</text>
<text x="585.00" y="407.62" font-size="10.6" text-anchor="middle" stroke="#231f20" stroke-width="0.16" >Pre-injection RespHRV</text>
<text x="585.00" y="419.32" font-size="10.6" text-anchor="middle" stroke="#231f20" stroke-width="0.16" >(bpm)</text>
<rect x="146.3" y="5.3" width="85.3" height="95.1" fill="#040207" stroke="#9a9a9a" stroke-width="0.3"/>
<path d="M147.30,42.70 C149.16,37.78 148.25,33.08 153.50,26.30 C158.75,19.52 156.49,22.71 164.80,20.10 C173.11,17.49 172.53,17.99 181.20,17.60 C189.87,17.21 187.31,17.30 193.70,18.80 C200.09,20.30 197.97,20.53 202.50,22.60 C207.03,24.67 204.66,24.38 208.80,25.70 C212.94,27.02 212.16,25.29 216.30,27.00 C220.44,28.71 219.21,28.22 222.60,31.40 C225.99,34.58 225.53,34.78 227.60,37.60 C229.67,40.42 228.93,39.84 229.50,40.80 L229.5,85.4  C227.04,85.58 228.26,86.00 221.30,86.00 C214.34,86.00 214.58,86.72 206.30,85.40 C198.02,84.08 200.48,83.70 193.70,81.60 C186.92,79.50 190.48,80.29 183.70,78.40 C176.92,76.51 177.88,77.73 171.10,75.30 C164.32,72.87 166.74,74.05 161.10,70.30 C155.46,66.55 156.44,67.33 152.30,62.80 C148.16,58.27 148.80,57.48 147.30,55.20 Z" fill="url(#agrad)"/>
<path d="M147.30,42.70 C149.16,37.78 148.25,33.08 153.50,26.30 C158.75,19.52 156.49,22.71 164.80,20.10 C173.11,17.49 172.53,17.99 181.20,17.60 C189.87,17.21 187.31,17.30 193.70,18.80 C200.09,20.30 197.97,20.53 202.50,22.60 C207.03,24.67 204.66,24.38 208.80,25.70 C212.94,27.02 212.16,25.29 216.30,27.00 C220.44,28.71 219.21,28.22 222.60,31.40 C225.99,34.58 225.53,34.78 227.60,37.60 C229.67,40.42 228.93,39.84 229.50,40.80 L229.5,85.4  C227.04,85.58 228.26,86.00 221.30,86.00 C214.34,86.00 214.58,86.72 206.30,85.40 C198.02,84.08 200.48,83.70 193.70,81.60 C186.92,79.50 190.48,80.29 183.70,78.40 C176.92,76.51 177.88,77.73 171.10,75.30 C164.32,72.87 166.74,74.05 161.10,70.30 C155.46,66.55 156.44,67.33 152.30,62.80 C148.16,58.27 148.80,57.48 147.30,55.20 Z" fill="url(#texY)" opacity="0.35" clip-path="url(#clipA)"/>
<line x1="205" y1="36" x2="218" y2="33" stroke="#7d750f" stroke-width="1.1" opacity="0.6"/>
<line x1="207" y1="40" x2="224" y2="38" stroke="#7d750f" stroke-width="1.1" opacity="0.55"/>
<line x1="214" y1="46" x2="227" y2="44" stroke="#7d750f" stroke-width="1.1" opacity="0.5"/>
<line x1="220" y1="14" x2="228" y2="12" stroke="#7d750f" stroke-width="1.1" opacity="0.7"/>
<line x1="222" y1="17" x2="229" y2="16" stroke="#7d750f" stroke-width="1.1" opacity="0.5"/>
<line x1="180" y1="35" x2="188" y2="30" stroke="#7d750f" stroke-width="1.1" opacity="0.35"/>
<line x1="165" y1="45" x2="172" y2="40" stroke="#7d750f" stroke-width="1.1" opacity="0.3"/>
<line x1="195" y1="60" x2="205" y2="64" stroke="#7d750f" stroke-width="1.1" opacity="0.3"/>
<path d="M147.30,42.70 C149.16,37.78 148.25,33.08 153.50,26.30 C158.75,19.52 156.49,22.71 164.80,20.10 C173.11,17.49 172.53,17.99 181.20,17.60 C189.87,17.21 187.31,17.30 193.70,18.80 C200.09,20.30 197.97,20.53 202.50,22.60 C207.03,24.67 204.66,24.38 208.80,25.70 C212.94,27.02 212.16,25.29 216.30,27.00 C220.44,28.71 219.21,28.22 222.60,31.40 C225.99,34.58 225.53,34.78 227.60,37.60 C229.67,40.42 228.93,39.84 229.50,40.80 L229.5,85.4  C227.04,85.58 228.26,86.00 221.30,86.00 C214.34,86.00 214.58,86.72 206.30,85.40 C198.02,84.08 200.48,83.70 193.70,81.60 C186.92,79.50 190.48,80.29 183.70,78.40 C176.92,76.51 177.88,77.73 171.10,75.30 C164.32,72.87 166.74,74.05 161.10,70.30 C155.46,66.55 156.44,67.33 152.30,62.80 C148.16,58.27 148.80,57.48 147.30,55.20 Z" stroke="#fff" stroke-width="1.1" stroke-dasharray="2.6,1.6" fill="none"/>
<ellipse cx="186.2" cy="58.4" rx="3.8" ry="4.4" stroke="#fff" stroke-width="1.1" stroke-dasharray="2.6,1.6" fill="none"/>
<ellipse cx="185.5" cy="66.2" rx="7.5" ry="7.2" stroke="#fff" stroke-width="1.1" stroke-dasharray="2.6,1.6" fill="none"/>
<path d="M183,60 C185,59.3 186.8,61 186.6,63.5 C186.8,65.5 185.2,66.8 183.6,66.2 C182.2,65 182,62 183,60 Z" fill="#ff2cff"/>
<text x="147.70" y="17.32" font-size="10.6" text-anchor="start" fill="#b3ad0c" stroke="#b3ad0c" stroke-width="0.16"  textLength="35" lengthAdjust="spacingAndGlyphs">FG<tspan font-family="DejaVu Sans" font-size="9">→</tspan>nA</text>
<text x="147.70" y="28.32" font-size="10.6" text-anchor="start" fill="#d81ed8" stroke="#d81ed8" stroke-width="0.16"  textLength="35.6" lengthAdjust="spacingAndGlyphs">µBeads</text>
<text x="197.50" y="55.92" font-size="10.6" text-anchor="middle" fill="#eeeeee" stroke="#eeeeee" stroke-width="0.16" >nA</text>
<text x="201.90" y="81.62" font-size="10.6" text-anchor="middle" fill="#eeeeee" stroke="#eeeeee" stroke-width="0.16"  textLength="40" lengthAdjust="spacingAndGlyphs">preBötC</text>
<rect x="221.3" y="96.9" width="7.6" height="2" fill="#fff"/>
<rect x="308.4" y="921" width="211.6" height="134" fill="#000"/>
<path d="M317.60,1000.00 C315.52,997.28 314.74,998.18 313.40,995.20 C312.06,992.22 311.24,989.46 310.90,985.10 C310.56,980.74 310.86,977.76 311.70,973.40 C312.54,969.04 313.08,967.32 315.10,963.30 C317.12,959.28 318.78,956.82 321.80,953.30 C324.82,949.78 326.84,948.74 330.20,945.70 C333.56,942.66 335.24,940.96 338.60,938.10 C341.96,935.24 343.98,933.90 347.00,931.40 C350.02,928.90 351.02,927.00 353.70,925.60 C356.38,924.20 357.38,924.24 360.40,924.40 C363.42,924.56 365.10,925.32 368.80,926.40 C372.50,927.48 375.54,928.12 378.90,929.80 C382.26,931.48 383.60,932.80 385.60,934.80 C387.60,936.80 386.90,938.12 388.90,939.80 C390.90,941.48 392.58,941.36 395.60,943.20 C398.62,945.04 401.30,946.48 404.00,949.00 C406.70,951.52 406.74,953.30 409.10,955.80 C411.46,958.30 413.44,961.50 415.80,961.50 C418.16,961.50 418.66,959.18 420.90,955.80 C423.14,952.42 424.14,947.86 427.00,944.60 C429.86,941.34 431.52,941.14 435.20,939.50 C438.88,937.86 442.04,938.20 445.40,936.40 C448.76,934.60 448.74,932.44 452.00,930.50 C455.26,928.56 457.70,927.76 461.70,926.70 C465.70,925.64 467.90,924.90 472.00,925.20 C476.10,925.50 477.72,925.56 482.20,928.20 C486.68,930.84 489.50,933.50 494.40,938.40 C499.30,943.30 502.60,946.98 506.70,952.70 C510.80,958.42 512.84,960.46 514.90,967.00 C516.96,973.54 517.00,978.86 517.00,985.40 C517.00,991.94 517.12,994.38 514.90,999.70 C512.68,1005.02 510.84,1006.40 505.90,1012.00 C500.96,1017.60 497.10,1022.06 490.20,1027.70 C483.30,1033.34 478.94,1036.12 471.40,1040.20 C463.86,1044.28 459.42,1046.22 452.50,1048.10 C445.58,1049.98 443.08,1049.92 436.80,1049.60 C430.52,1049.28 425.18,1048.38 421.10,1046.50 C417.02,1044.62 417.96,1041.46 416.40,1040.20 C414.84,1038.94 414.86,1038.94 413.30,1040.20 C411.74,1041.46 412.06,1044.62 408.60,1046.50 C405.14,1048.38 402.28,1049.60 396.00,1049.60 C389.72,1049.60 384.10,1049.00 377.20,1046.50 C370.30,1044.00 368.40,1041.50 361.50,1037.10 C354.60,1032.70 350.24,1030.16 342.70,1024.50 C335.16,1018.84 328.82,1013.70 323.80,1008.80 C318.78,1003.90 319.68,1002.72 317.60,1000.00 Z" fill="#12170b"/>
<g clip-path="url(#clipJsec)">
<ellipse cx="360" cy="958" rx="30" ry="13" fill="#1a4640" opacity="0.55" filter="url(#blur3)"/>
<ellipse cx="462" cy="958" rx="26" ry="12" fill="#1a4640" opacity="0.45" filter="url(#blur3)"/>
<ellipse cx="490" cy="975" rx="20" ry="22" fill="#1b2a18" opacity="0.8" filter="url(#blur3)"/>
<ellipse cx="335" cy="985" rx="18" ry="25" fill="#1b220e" opacity="0.8" filter="url(#blur3)"/>
<ellipse cx="415" cy="1015" rx="45" ry="22" fill="#141a0b" opacity="0.9" filter="url(#blur3)"/>
<ellipse cx="392" cy="957" rx="8" ry="6" fill="#2a9a8c" opacity="0.75" filter="url(#blur2)"/>
<ellipse cx="439" cy="957" rx="8" ry="6" fill="#2a9a8c" opacity="0.65" filter="url(#blur2)"/>
<path d="M397,950 C402,955 409,958 415.8,961.5 C422,958 429,955 435,950 L436,974 C431,980 422,981.5 416,981.5 C409,981.5 401,980 397,974 Z" fill="#aab41c" filter="url(#blur2)"/>
<ellipse cx="416" cy="971" rx="13" ry="8" fill="#e2e232" opacity="0.9" filter="url(#blur2)"/>
<ellipse cx="395" cy="1044" rx="14" ry="5" fill="#34361a" opacity="0.8" filter="url(#blur2)"/>
<ellipse cx="408" cy="1030" rx="9" ry="6" fill="#1f5a52" opacity="0.7" filter="url(#blur2)"/>
<ellipse cx="428" cy="1030" rx="9" ry="6" fill="#1f5a52" opacity="0.6" filter="url(#blur2)"/>
<ellipse cx="440" cy="1044" rx="14" ry="5" fill="#34361a" opacity="0.8" filter="url(#blur2)"/>
<rect x="308" y="921" width="212" height="134" fill="url(#texG)" opacity="0.5"/>
</g>
<path d="M317.60,1000.00 C315.52,997.28 314.74,998.18 313.40,995.20 C312.06,992.22 311.24,989.46 310.90,985.10 C310.56,980.74 310.86,977.76 311.70,973.40 C312.54,969.04 313.08,967.32 315.10,963.30 C317.12,959.28 318.78,956.82 321.80,953.30 C324.82,949.78 326.84,948.74 330.20,945.70 C333.56,942.66 335.24,940.96 338.60,938.10 C341.96,935.24 343.98,933.90 347.00,931.40 C350.02,928.90 351.02,927.00 353.70,925.60 C356.38,924.20 357.38,924.24 360.40,924.40 C363.42,924.56 365.10,925.32 368.80,926.40 C372.50,927.48 375.54,928.12 378.90,929.80 C382.26,931.48 383.60,932.80 385.60,934.80 C387.60,936.80 386.90,938.12 388.90,939.80 C390.90,941.48 392.58,941.36 395.60,943.20 C398.62,945.04 401.30,946.48 404.00,949.00 C406.70,951.52 406.74,953.30 409.10,955.80 C411.46,958.30 413.44,961.50 415.80,961.50 C418.16,961.50 418.66,959.18 420.90,955.80 C423.14,952.42 424.14,947.86 427.00,944.60 C429.86,941.34 431.52,941.14 435.20,939.50 C438.88,937.86 442.04,938.20 445.40,936.40 C448.76,934.60 448.74,932.44 452.00,930.50 C455.26,928.56 457.70,927.76 461.70,926.70 C465.70,925.64 467.90,924.90 472.00,925.20 C476.10,925.50 477.72,925.56 482.20,928.20 C486.68,930.84 489.50,933.50 494.40,938.40 C499.30,943.30 502.60,946.98 506.70,952.70 C510.80,958.42 512.84,960.46 514.90,967.00 C516.96,973.54 517.00,978.86 517.00,985.40 C517.00,991.94 517.12,994.38 514.90,999.70 C512.68,1005.02 510.84,1006.40 505.90,1012.00 C500.96,1017.60 497.10,1022.06 490.20,1027.70 C483.30,1033.34 478.94,1036.12 471.40,1040.20 C463.86,1044.28 459.42,1046.22 452.50,1048.10 C445.58,1049.98 443.08,1049.92 436.80,1049.60 C430.52,1049.28 425.18,1048.38 421.10,1046.50 C417.02,1044.62 417.96,1041.46 416.40,1040.20 C414.84,1038.94 414.86,1038.94 413.30,1040.20 C411.74,1041.46 412.06,1044.62 408.60,1046.50 C405.14,1048.38 402.28,1049.60 396.00,1049.60 C389.72,1049.60 384.10,1049.00 377.20,1046.50 C370.30,1044.00 368.40,1041.50 361.50,1037.10 C354.60,1032.70 350.24,1030.16 342.70,1024.50 C335.16,1018.84 328.82,1013.70 323.80,1008.80 C318.78,1003.90 319.68,1002.72 317.60,1000.00 Z" stroke="#fff" stroke-width="1.1" stroke-dasharray="2.6,1.6" fill="none"/>
<rect x="351.4" y="991.6" width="26.5" height="40.9" fill="none" stroke="#e8e8e8" stroke-width="0.9"/>
<ellipse cx="365.7" cy="999.8" rx="7.6" ry="7.3" stroke="#fff" stroke-width="1.1" stroke-dasharray="2.6,1.6" fill="none"/>
<ellipse cx="363.9" cy="1013.9" rx="9.4" ry="13.4" stroke="#fff" stroke-width="1.1" stroke-dasharray="2.6,1.6" fill="none"/>
<ellipse cx="363.4" cy="1011" rx="2.2" ry="5.2" fill="#ff30ff" filter="url(#blur05)" transform="rotate(20 363.4 1011)"/>
<circle cx="361" cy="997" r="1" fill="#c8c820"/><circle cx="366" cy="1000" r="1" fill="#c8c820"/><circle cx="369" cy="998" r="0.9" fill="#c8c820"/>
<ellipse cx="467.5" cy="1000.2" rx="7" ry="5.6" stroke="#fff" stroke-width="1.1" stroke-dasharray="2.6,1.6" fill="none"/>
<ellipse cx="473.4" cy="1013" rx="9.6" ry="10" stroke="#fff" stroke-width="1.1" stroke-dasharray="2.6,1.6" fill="none"/>
<ellipse cx="471.3" cy="1009" rx="3.0" ry="4.4" fill="#ff30ff" filter="url(#blur05)" transform="rotate(25 471.3 1009)"/>
<text x="451.10" y="1000.42" font-size="10.6" text-anchor="middle" fill="#eeeeee" stroke="#eeeeee" stroke-width="0.16" >nA</text>
<text x="440.20" y="1022.22" font-size="10.6" text-anchor="middle" fill="#eeeeee" stroke="#eeeeee" stroke-width="0.16"  textLength="40" lengthAdjust="spacingAndGlyphs">preBötC</text>
<text x="309.40" y="1026.92" font-size="10.6" text-anchor="start" fill="#d81ed8" stroke="#d81ed8" stroke-width="0.16"  textLength="35.6" lengthAdjust="spacingAndGlyphs">µBeads</text>
<text x="309.40" y="1038.72" font-size="10.6" text-anchor="start" fill="#27a4a8" stroke="#27a4a8" stroke-width="0.16"  textLength="28.5" lengthAdjust="spacingAndGlyphs">NK1-R</text>
<text x="309.40" y="1051.42" font-size="10.6" text-anchor="start" fill="#b3ad0c" stroke="#b3ad0c" stroke-width="0.16" >ChAT</text>
<rect x="509.9" y="1051" width="7.7" height="2" fill="#fff"/>
<rect x="530.8" y="921" width="82.7" height="134" fill="#0a231c"/>
<rect x="530.8" y="921" width="82.7" height="134" fill="url(#texT)" clip-path="url(#clipJ2)"/>
<ellipse cx="564.3" cy="927.1" rx="1.3" ry="1.6" fill="#dcd41c" transform="rotate(0 564.3 927.1)" filter="url(#blur03)"/>
<ellipse cx="563.1" cy="941.8" rx="2.0" ry="1.5" fill="#dcd41c" transform="rotate(20 563.1 941.8)" filter="url(#blur03)"/>
<ellipse cx="571.1" cy="940" rx="1.5" ry="1.4" fill="#dcd41c" transform="rotate(0 571.1 940)" filter="url(#blur03)"/>
<ellipse cx="572.3" cy="950.4" rx="1.8" ry="2.0" fill="#dcd41c" transform="rotate(30 572.3 950.4)" filter="url(#blur03)"/>
<ellipse cx="574.1" cy="953.5" rx="1.2" ry="1.4" fill="#dcd41c" transform="rotate(0 574.1 953.5)" filter="url(#blur03)"/>
<ellipse cx="577.2" cy="936.3" rx="1.1" ry="1.1" fill="#dcd41c" transform="rotate(0 577.2 936.3)" filter="url(#blur03)"/>
<ellipse cx="582.7" cy="961.5" rx="1.6" ry="2.6" fill="#dcd41c" transform="rotate(-20 582.7 961.5)" filter="url(#blur03)"/>
<ellipse cx="590.1" cy="962.7" rx="1.6" ry="3.2" fill="#dcd41c" transform="rotate(-30 590.1 962.7)" filter="url(#blur03)"/>
<ellipse cx="593.8" cy="966.4" rx="1.8" ry="1.4" fill="#dcd41c" transform="rotate(20 593.8 966.4)" filter="url(#blur03)"/>
<ellipse cx="596.2" cy="970" rx="2.0" ry="1.6" fill="#dcd41c" transform="rotate(0 596.2 970)" filter="url(#blur03)"/>
<ellipse cx="601.1" cy="971.3" rx="1.0" ry="2.2" fill="#dcd41c" transform="rotate(0 601.1 971.3)" filter="url(#blur03)"/>
<ellipse cx="585.2" cy="972.5" rx="1.5" ry="1.4" fill="#dcd41c" transform="rotate(0 585.2 972.5)" filter="url(#blur03)"/>
<ellipse cx="569.2" cy="957.8" rx="1.1" ry="1.3" fill="#dcd41c" transform="rotate(0 569.2 957.8)" filter="url(#blur03)"/>
<ellipse cx="538.6" cy="943" rx="1.2" ry="0.6" fill="#dcd41c" transform="rotate(0 538.6 943)" filter="url(#blur03)"/>
<ellipse cx="546" cy="962" rx="0.6" ry="3" fill="#dcd41c" transform="rotate(20 546 962)" filter="url(#blur03)"/>
<ellipse cx="542" cy="980" rx="0.6" ry="3" fill="#dcd41c" transform="rotate(0 542 980)" filter="url(#blur03)"/>
<path d="M567,985 C568,980 571,977.5 574,978.6 C576,980 578,983 577.5,986 C577,990 575,992 574.5,996 C574,1000 572,1003.5 569,1003.5 C566.5,1003 565.5,999 566,994 C566,990 566.5,987 567,985 Z" fill="#f55cf0" filter="url(#blur03)"/>
<path d="M568.5,988 C570,985 573,985 574,988 C574,992 572,997 569.5,999 C567.8,997 567.8,992 568.5,988 Z" fill="#ffb8ff" opacity="0.6"/>
<circle cx="572.3" cy="966.4" r="1.2" fill="#ff4cf0"/><circle cx="582.1" cy="976.8" r="1.3" fill="#ff4cf0"/><circle cx="553.3" cy="975.6" r="0.9" fill="#ff4cf0"/>
<path d="M539,978 C541,970 543,963 546,955 C548,948 549,942 552,938" stroke="#a8a018" stroke-width="0.8" fill="none" opacity="0.8"/>
<path d="M537,965 C541,964 545,966 548,970" stroke="#a8a018" stroke-width="0.8" fill="none" opacity="0.8"/>
<path d="M598,996 C601,990 605,986 610,983" stroke="#a8a018" stroke-width="0.8" fill="none" opacity="0.8"/>
<path d="M548,1000 C550,995 551,990 550,985" stroke="#a8a018" stroke-width="0.8" fill="none" opacity="0.8"/>
<rect x="530.8" y="921" width="82.7" height="60" fill="url(#j2y)"/>
<path d="M558.2,924.7 C561,922.5 566,923 569,925 C577,931 585,940 591,950 C598,961 605,972 605,982 C601,986 594,983 588,978 C580,971 573,963 567,957 C562,952 558.5,946 558.5,940 Z" stroke="#fff" stroke-width="0.9" stroke-dasharray="2.8,1.9" fill="none"/>
<path d="M558.8,950.4 C551,955 546,965 544.5,978 C543.5,995 548,1015 562,1025 C575,1032 595,1028 604,1015 C611,1002 609,988 605,982" stroke="#fff" stroke-width="0.9" stroke-dasharray="2.8,1.9" fill="none"/>
<text x="597.20" y="947.02" font-size="10.6" text-anchor="middle" fill="#eeeeee" stroke="#eeeeee" stroke-width="0.16" >nA</text>
<text x="579.00" y="1020.62" font-size="10.6" text-anchor="middle" fill="#eeeeee" stroke="#eeeeee" stroke-width="0.16"  textLength="40" lengthAdjust="spacingAndGlyphs">preBötC</text>
<rect x="602" y="1051" width="9" height="2" fill="#fff"/>
</svg></body></html>
